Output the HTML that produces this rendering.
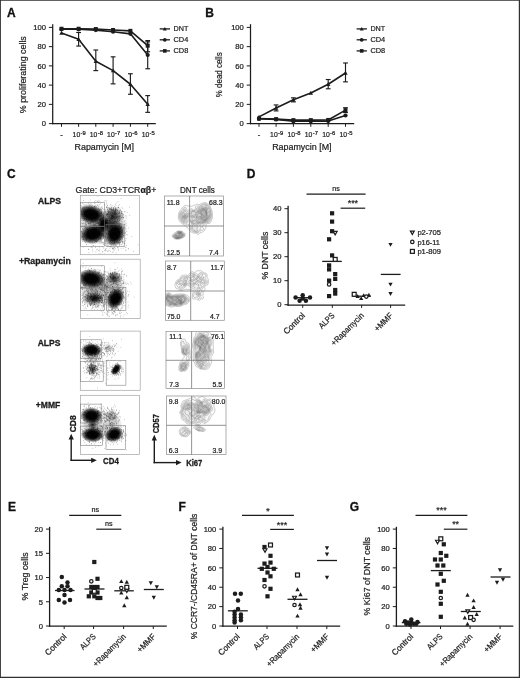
<!DOCTYPE html>
<html><head><meta charset="utf-8"><title>Figure</title>
<style>html,body{margin:0;padding:0;background:#fff}svg{display:block}text{font-family:"Liberation Sans",sans-serif}</style></head><body>
<svg width="520" height="678" viewBox="0 0 520 678" style="opacity:0.999;will-change:transform">
<rect x="0" y="0" width="520" height="678" fill="#fff"/>
<path d="M0 0H520V678H0ZM0.9 0.8V676.8H518.8V0.8Z" fill="#303030" fill-rule="evenodd"/>
<text x="6.9" y="17" font-size="12" text-anchor="start" fill="#111" font-weight="bold" stroke="#111" stroke-width="0.3">A</text>
<text x="205.2" y="17" font-size="12" text-anchor="start" fill="#111" font-weight="bold" stroke="#111" stroke-width="0.3">B</text>
<text x="7" y="178.3" font-size="12" text-anchor="start" fill="#111" font-weight="bold" stroke="#111" stroke-width="0.3">C</text>
<text x="246.8" y="178.3" font-size="12" text-anchor="start" fill="#111" font-weight="bold" stroke="#111" stroke-width="0.3">D</text>
<text x="8" y="511.3" font-size="12" text-anchor="start" fill="#111" font-weight="bold" stroke="#111" stroke-width="0.3">E</text>
<text x="178.6" y="511.3" font-size="12" text-anchor="start" fill="#111" font-weight="bold" stroke="#111" stroke-width="0.3">F</text>
<text x="349.8" y="511.3" font-size="12" text-anchor="start" fill="#111" font-weight="bold" stroke="#111" stroke-width="0.3">G</text>
<line x1="52.7" y1="24.2" x2="52.7" y2="124.2" stroke="#1c1c1c" stroke-width="1.25" stroke-linecap="butt"/>
<line x1="52.1" y1="123.6" x2="155.8" y2="123.6" stroke="#1c1c1c" stroke-width="1.25" stroke-linecap="butt"/>
<line x1="48.9" y1="123.6" x2="52.7" y2="123.6" stroke="#1c1c1c" stroke-width="1" stroke-linecap="butt"/>
<text x="46" y="126.35" font-size="7.6" text-anchor="end" fill="#1c1c1c" stroke="#1c1c1c" stroke-width="0.22">0</text>
<line x1="48.9" y1="104.36" x2="52.7" y2="104.36" stroke="#1c1c1c" stroke-width="1" stroke-linecap="butt"/>
<text x="46" y="107.11" font-size="7.6" text-anchor="end" fill="#1c1c1c" stroke="#1c1c1c" stroke-width="0.22">20</text>
<line x1="48.9" y1="85.12" x2="52.7" y2="85.12" stroke="#1c1c1c" stroke-width="1" stroke-linecap="butt"/>
<text x="46" y="87.87" font-size="7.6" text-anchor="end" fill="#1c1c1c" stroke="#1c1c1c" stroke-width="0.22">40</text>
<line x1="48.9" y1="65.88" x2="52.7" y2="65.88" stroke="#1c1c1c" stroke-width="1" stroke-linecap="butt"/>
<text x="46" y="68.63" font-size="7.6" text-anchor="end" fill="#1c1c1c" stroke="#1c1c1c" stroke-width="0.22">60</text>
<line x1="48.9" y1="46.64" x2="52.7" y2="46.64" stroke="#1c1c1c" stroke-width="1" stroke-linecap="butt"/>
<text x="46" y="49.39" font-size="7.6" text-anchor="end" fill="#1c1c1c" stroke="#1c1c1c" stroke-width="0.22">80</text>
<line x1="48.9" y1="27.4" x2="52.7" y2="27.4" stroke="#1c1c1c" stroke-width="1" stroke-linecap="butt"/>
<text x="46" y="30.15" font-size="7.6" text-anchor="end" fill="#1c1c1c" stroke="#1c1c1c" stroke-width="0.22">100</text>
<line x1="61.5" y1="123.6" x2="61.5" y2="126.8" stroke="#1c1c1c" stroke-width="1" stroke-linecap="butt"/>
<text x="61.5" y="136.8" font-size="7.6" text-anchor="middle" fill="#1c1c1c" stroke="#1c1c1c" stroke-width="0.22">-</text>
<line x1="78.6" y1="123.6" x2="78.6" y2="126.8" stroke="#1c1c1c" stroke-width="1" stroke-linecap="butt"/>
<text x="80.2" y="136.9" font-size="7.5" text-anchor="end" fill="#1c1c1c" textLength="7.6" lengthAdjust="spacingAndGlyphs" stroke="#1c1c1c" stroke-width="0.22">10</text>
<text x="80.5" y="134.5" font-size="5.5" text-anchor="start" fill="#1c1c1c" textLength="5.2" lengthAdjust="spacingAndGlyphs" stroke="#1c1c1c" stroke-width="0.22">-9</text>
<line x1="95.8" y1="123.6" x2="95.8" y2="126.8" stroke="#1c1c1c" stroke-width="1" stroke-linecap="butt"/>
<text x="97.4" y="136.9" font-size="7.5" text-anchor="end" fill="#1c1c1c" textLength="7.6" lengthAdjust="spacingAndGlyphs" stroke="#1c1c1c" stroke-width="0.22">10</text>
<text x="97.7" y="134.5" font-size="5.5" text-anchor="start" fill="#1c1c1c" textLength="5.2" lengthAdjust="spacingAndGlyphs" stroke="#1c1c1c" stroke-width="0.22">-8</text>
<line x1="113.1" y1="123.6" x2="113.1" y2="126.8" stroke="#1c1c1c" stroke-width="1" stroke-linecap="butt"/>
<text x="114.7" y="136.9" font-size="7.5" text-anchor="end" fill="#1c1c1c" textLength="7.6" lengthAdjust="spacingAndGlyphs" stroke="#1c1c1c" stroke-width="0.22">10</text>
<text x="115" y="134.5" font-size="5.5" text-anchor="start" fill="#1c1c1c" textLength="5.2" lengthAdjust="spacingAndGlyphs" stroke="#1c1c1c" stroke-width="0.22">-7</text>
<line x1="130.4" y1="123.6" x2="130.4" y2="126.8" stroke="#1c1c1c" stroke-width="1" stroke-linecap="butt"/>
<text x="132" y="136.9" font-size="7.5" text-anchor="end" fill="#1c1c1c" textLength="7.6" lengthAdjust="spacingAndGlyphs" stroke="#1c1c1c" stroke-width="0.22">10</text>
<text x="132.3" y="134.5" font-size="5.5" text-anchor="start" fill="#1c1c1c" textLength="5.2" lengthAdjust="spacingAndGlyphs" stroke="#1c1c1c" stroke-width="0.22">-6</text>
<line x1="147.7" y1="123.6" x2="147.7" y2="126.8" stroke="#1c1c1c" stroke-width="1" stroke-linecap="butt"/>
<text x="149.3" y="136.9" font-size="7.5" text-anchor="end" fill="#1c1c1c" textLength="7.6" lengthAdjust="spacingAndGlyphs" stroke="#1c1c1c" stroke-width="0.22">10</text>
<text x="149.6" y="134.5" font-size="5.5" text-anchor="start" fill="#1c1c1c" textLength="5.2" lengthAdjust="spacingAndGlyphs" stroke="#1c1c1c" stroke-width="0.22">-5</text>
<text x="104.2" y="150.2" font-size="9.2" text-anchor="middle" fill="#1c1c1c" textLength="59.4" lengthAdjust="spacingAndGlyphs" stroke="#1c1c1c" stroke-width="0.22">Rapamycin [M]</text>
<text x="26.3" y="74.7" font-size="9.5" text-anchor="middle" fill="#1c1c1c" transform="rotate(-90 26.3 74.7)" textLength="77" lengthAdjust="spacingAndGlyphs" stroke="#1c1c1c" stroke-width="0.22">% proliferating cells</text>
<polyline points="61.5,32.98 78.6,39.23 95.8,61.26 113.1,70.59 130.4,84.25 147.7,104.26" fill="none" stroke="#1c1c1c" stroke-width="1.6" stroke-linejoin="round"/>
<line x1="78.6" y1="32.5" x2="78.6" y2="46.06" stroke="#1c1c1c" stroke-width="1.15" stroke-linecap="butt"/>
<line x1="76.2" y1="32.5" x2="81" y2="32.5" stroke="#1c1c1c" stroke-width="1.15" stroke-linecap="butt"/>
<line x1="76.2" y1="46.06" x2="81" y2="46.06" stroke="#1c1c1c" stroke-width="1.15" stroke-linecap="butt"/>
<line x1="95.8" y1="50.01" x2="95.8" y2="70.59" stroke="#1c1c1c" stroke-width="1.15" stroke-linecap="butt"/>
<line x1="93.4" y1="50.01" x2="98.2" y2="50.01" stroke="#1c1c1c" stroke-width="1.15" stroke-linecap="butt"/>
<line x1="93.4" y1="70.59" x2="98.2" y2="70.59" stroke="#1c1c1c" stroke-width="1.15" stroke-linecap="butt"/>
<line x1="113.1" y1="56.84" x2="113.1" y2="83.87" stroke="#1c1c1c" stroke-width="1.15" stroke-linecap="butt"/>
<line x1="110.7" y1="56.84" x2="115.5" y2="56.84" stroke="#1c1c1c" stroke-width="1.15" stroke-linecap="butt"/>
<line x1="110.7" y1="83.87" x2="115.5" y2="83.87" stroke="#1c1c1c" stroke-width="1.15" stroke-linecap="butt"/>
<line x1="130.4" y1="73.77" x2="130.4" y2="94.26" stroke="#1c1c1c" stroke-width="1.15" stroke-linecap="butt"/>
<line x1="128" y1="73.77" x2="132.8" y2="73.77" stroke="#1c1c1c" stroke-width="1.15" stroke-linecap="butt"/>
<line x1="128" y1="94.26" x2="132.8" y2="94.26" stroke="#1c1c1c" stroke-width="1.15" stroke-linecap="butt"/>
<line x1="147.7" y1="95.61" x2="147.7" y2="112.34" stroke="#1c1c1c" stroke-width="1.15" stroke-linecap="butt"/>
<line x1="145.3" y1="95.61" x2="150.1" y2="95.61" stroke="#1c1c1c" stroke-width="1.15" stroke-linecap="butt"/>
<line x1="145.3" y1="112.34" x2="150.1" y2="112.34" stroke="#1c1c1c" stroke-width="1.15" stroke-linecap="butt"/>
<polygon points="61.5,30.78 59.3,34.74 63.7,34.74" fill="#1c1c1c"/>
<polygon points="78.6,37.03 76.4,40.99 80.8,40.99" fill="#1c1c1c"/>
<polygon points="95.8,59.06 93.6,63.02 98,63.02" fill="#1c1c1c"/>
<polygon points="113.1,68.39 110.9,72.35 115.3,72.35" fill="#1c1c1c"/>
<polygon points="130.4,82.05 128.2,86.01 132.6,86.01" fill="#1c1c1c"/>
<polygon points="147.7,102.06 145.5,106.02 149.9,106.02" fill="#1c1c1c"/>
<polyline points="61.5,29.32 78.6,29.32 95.8,30.09 113.1,31.73 130.4,33.85 147.7,55.01" fill="none" stroke="#1c1c1c" stroke-width="1.6" stroke-linejoin="round"/>
<line x1="147.7" y1="41.83" x2="147.7" y2="68.77" stroke="#1c1c1c" stroke-width="1.15" stroke-linecap="butt"/>
<line x1="145.3" y1="41.83" x2="150.1" y2="41.83" stroke="#1c1c1c" stroke-width="1.15" stroke-linecap="butt"/>
<line x1="145.3" y1="68.77" x2="150.1" y2="68.77" stroke="#1c1c1c" stroke-width="1.15" stroke-linecap="butt"/>
<circle cx="61.5" cy="29.32" r="2.1" fill="#1c1c1c"/>
<circle cx="78.6" cy="29.32" r="2.1" fill="#1c1c1c"/>
<circle cx="95.8" cy="30.09" r="2.1" fill="#1c1c1c"/>
<circle cx="113.1" cy="31.73" r="2.1" fill="#1c1c1c"/>
<circle cx="130.4" cy="33.85" r="2.1" fill="#1c1c1c"/>
<circle cx="147.7" cy="55.01" r="2.1" fill="#1c1c1c"/>
<polyline points="61.5,28.75 78.6,28.75 95.8,29.04 113.1,30 130.4,30.86 147.7,45.68" fill="none" stroke="#1c1c1c" stroke-width="1.6" stroke-linejoin="round"/>
<line x1="147.7" y1="40.58" x2="147.7" y2="51.74" stroke="#1c1c1c" stroke-width="1.15" stroke-linecap="butt"/>
<line x1="145.3" y1="40.58" x2="150.1" y2="40.58" stroke="#1c1c1c" stroke-width="1.15" stroke-linecap="butt"/>
<line x1="145.3" y1="51.74" x2="150.1" y2="51.74" stroke="#1c1c1c" stroke-width="1.15" stroke-linecap="butt"/>
<rect x="59.5" y="26.75" width="4" height="4" fill="#1c1c1c"/>
<rect x="76.6" y="26.75" width="4" height="4" fill="#1c1c1c"/>
<rect x="93.8" y="27.04" width="4" height="4" fill="#1c1c1c"/>
<rect x="111.1" y="28" width="4" height="4" fill="#1c1c1c"/>
<rect x="128.4" y="28.86" width="4" height="4" fill="#1c1c1c"/>
<rect x="145.7" y="43.68" width="4" height="4" fill="#1c1c1c"/>
<line x1="159.7" y1="28.9" x2="170" y2="28.9" stroke="#1c1c1c" stroke-width="1.3" stroke-linecap="butt"/>
<polygon points="164.8,26.9 162.8,30.5 166.8,30.5" fill="#1c1c1c"/>
<text x="173.5" y="31.3" font-size="7.8" text-anchor="start" fill="#1c1c1c" textLength="14.8" lengthAdjust="spacingAndGlyphs" stroke="#1c1c1c" stroke-width="0.22">DNT</text>
<line x1="159.7" y1="39.8" x2="170" y2="39.8" stroke="#1c1c1c" stroke-width="1.3" stroke-linecap="butt"/>
<circle cx="164.8" cy="39.8" r="1.9" fill="#1c1c1c"/>
<text x="173.5" y="42.2" font-size="7.8" text-anchor="start" fill="#1c1c1c" textLength="14.8" lengthAdjust="spacingAndGlyphs" stroke="#1c1c1c" stroke-width="0.22">CD4</text>
<line x1="159.7" y1="50.9" x2="170" y2="50.9" stroke="#1c1c1c" stroke-width="1.3" stroke-linecap="butt"/>
<rect x="163" y="49.1" width="3.6" height="3.6" fill="#1c1c1c"/>
<text x="173.5" y="53.3" font-size="7.8" text-anchor="start" fill="#1c1c1c" textLength="14.8" lengthAdjust="spacingAndGlyphs" stroke="#1c1c1c" stroke-width="0.22">CD8</text>
<line x1="250.5" y1="24.2" x2="250.5" y2="124.2" stroke="#1c1c1c" stroke-width="1.25" stroke-linecap="butt"/>
<line x1="249.9" y1="123.6" x2="354.2" y2="123.6" stroke="#1c1c1c" stroke-width="1.25" stroke-linecap="butt"/>
<line x1="246.7" y1="123.6" x2="250.5" y2="123.6" stroke="#1c1c1c" stroke-width="1" stroke-linecap="butt"/>
<text x="243.8" y="126.35" font-size="7.6" text-anchor="end" fill="#1c1c1c" stroke="#1c1c1c" stroke-width="0.22">0</text>
<line x1="246.7" y1="104.36" x2="250.5" y2="104.36" stroke="#1c1c1c" stroke-width="1" stroke-linecap="butt"/>
<text x="243.8" y="107.11" font-size="7.6" text-anchor="end" fill="#1c1c1c" stroke="#1c1c1c" stroke-width="0.22">20</text>
<line x1="246.7" y1="85.12" x2="250.5" y2="85.12" stroke="#1c1c1c" stroke-width="1" stroke-linecap="butt"/>
<text x="243.8" y="87.87" font-size="7.6" text-anchor="end" fill="#1c1c1c" stroke="#1c1c1c" stroke-width="0.22">40</text>
<line x1="246.7" y1="65.88" x2="250.5" y2="65.88" stroke="#1c1c1c" stroke-width="1" stroke-linecap="butt"/>
<text x="243.8" y="68.63" font-size="7.6" text-anchor="end" fill="#1c1c1c" stroke="#1c1c1c" stroke-width="0.22">60</text>
<line x1="246.7" y1="46.64" x2="250.5" y2="46.64" stroke="#1c1c1c" stroke-width="1" stroke-linecap="butt"/>
<text x="243.8" y="49.39" font-size="7.6" text-anchor="end" fill="#1c1c1c" stroke="#1c1c1c" stroke-width="0.22">80</text>
<line x1="246.7" y1="27.4" x2="250.5" y2="27.4" stroke="#1c1c1c" stroke-width="1" stroke-linecap="butt"/>
<text x="243.8" y="30.15" font-size="7.6" text-anchor="end" fill="#1c1c1c" stroke="#1c1c1c" stroke-width="0.22">100</text>
<line x1="259" y1="123.6" x2="259" y2="126.8" stroke="#1c1c1c" stroke-width="1" stroke-linecap="butt"/>
<text x="259" y="136.8" font-size="7.6" text-anchor="middle" fill="#1c1c1c" stroke="#1c1c1c" stroke-width="0.22">-</text>
<line x1="276.1" y1="123.6" x2="276.1" y2="126.8" stroke="#1c1c1c" stroke-width="1" stroke-linecap="butt"/>
<text x="277.7" y="136.9" font-size="7.5" text-anchor="end" fill="#1c1c1c" textLength="7.6" lengthAdjust="spacingAndGlyphs" stroke="#1c1c1c" stroke-width="0.22">10</text>
<text x="278" y="134.5" font-size="5.5" text-anchor="start" fill="#1c1c1c" textLength="5.2" lengthAdjust="spacingAndGlyphs" stroke="#1c1c1c" stroke-width="0.22">-9</text>
<line x1="293.4" y1="123.6" x2="293.4" y2="126.8" stroke="#1c1c1c" stroke-width="1" stroke-linecap="butt"/>
<text x="295" y="136.9" font-size="7.5" text-anchor="end" fill="#1c1c1c" textLength="7.6" lengthAdjust="spacingAndGlyphs" stroke="#1c1c1c" stroke-width="0.22">10</text>
<text x="295.3" y="134.5" font-size="5.5" text-anchor="start" fill="#1c1c1c" textLength="5.2" lengthAdjust="spacingAndGlyphs" stroke="#1c1c1c" stroke-width="0.22">-8</text>
<line x1="310.8" y1="123.6" x2="310.8" y2="126.8" stroke="#1c1c1c" stroke-width="1" stroke-linecap="butt"/>
<text x="312.4" y="136.9" font-size="7.5" text-anchor="end" fill="#1c1c1c" textLength="7.6" lengthAdjust="spacingAndGlyphs" stroke="#1c1c1c" stroke-width="0.22">10</text>
<text x="312.7" y="134.5" font-size="5.5" text-anchor="start" fill="#1c1c1c" textLength="5.2" lengthAdjust="spacingAndGlyphs" stroke="#1c1c1c" stroke-width="0.22">-7</text>
<line x1="328.2" y1="123.6" x2="328.2" y2="126.8" stroke="#1c1c1c" stroke-width="1" stroke-linecap="butt"/>
<text x="329.8" y="136.9" font-size="7.5" text-anchor="end" fill="#1c1c1c" textLength="7.6" lengthAdjust="spacingAndGlyphs" stroke="#1c1c1c" stroke-width="0.22">10</text>
<text x="330.1" y="134.5" font-size="5.5" text-anchor="start" fill="#1c1c1c" textLength="5.2" lengthAdjust="spacingAndGlyphs" stroke="#1c1c1c" stroke-width="0.22">-6</text>
<line x1="345.5" y1="123.6" x2="345.5" y2="126.8" stroke="#1c1c1c" stroke-width="1" stroke-linecap="butt"/>
<text x="347.1" y="136.9" font-size="7.5" text-anchor="end" fill="#1c1c1c" textLength="7.6" lengthAdjust="spacingAndGlyphs" stroke="#1c1c1c" stroke-width="0.22">10</text>
<text x="347.4" y="134.5" font-size="5.5" text-anchor="start" fill="#1c1c1c" textLength="5.2" lengthAdjust="spacingAndGlyphs" stroke="#1c1c1c" stroke-width="0.22">-5</text>
<text x="301.85" y="150.2" font-size="9.2" text-anchor="middle" fill="#1c1c1c" textLength="59.4" lengthAdjust="spacingAndGlyphs" stroke="#1c1c1c" stroke-width="0.22">Rapamycin [M]</text>
<text x="222" y="74.7" font-size="9.5" text-anchor="middle" fill="#1c1c1c" transform="rotate(-90 222 74.7)" textLength="45" lengthAdjust="spacingAndGlyphs" stroke="#1c1c1c" stroke-width="0.22">% dead cells</text>
<polyline points="259,116.87 276.1,108.02 293.4,99.84 310.8,93.01 328.2,84.25 345.5,73" fill="none" stroke="#1c1c1c" stroke-width="1.6" stroke-linejoin="round"/>
<line x1="276.1" y1="104.94" x2="276.1" y2="110.9" stroke="#1c1c1c" stroke-width="1.15" stroke-linecap="butt"/>
<line x1="273.7" y1="104.94" x2="278.5" y2="104.94" stroke="#1c1c1c" stroke-width="1.15" stroke-linecap="butt"/>
<line x1="273.7" y1="110.9" x2="278.5" y2="110.9" stroke="#1c1c1c" stroke-width="1.15" stroke-linecap="butt"/>
<line x1="293.4" y1="97.82" x2="293.4" y2="101.86" stroke="#1c1c1c" stroke-width="1.15" stroke-linecap="butt"/>
<line x1="291" y1="97.82" x2="295.8" y2="97.82" stroke="#1c1c1c" stroke-width="1.15" stroke-linecap="butt"/>
<line x1="291" y1="101.86" x2="295.8" y2="101.86" stroke="#1c1c1c" stroke-width="1.15" stroke-linecap="butt"/>
<line x1="328.2" y1="79.54" x2="328.2" y2="88.78" stroke="#1c1c1c" stroke-width="1.15" stroke-linecap="butt"/>
<line x1="325.8" y1="79.54" x2="330.6" y2="79.54" stroke="#1c1c1c" stroke-width="1.15" stroke-linecap="butt"/>
<line x1="325.8" y1="88.78" x2="330.6" y2="88.78" stroke="#1c1c1c" stroke-width="1.15" stroke-linecap="butt"/>
<line x1="345.5" y1="62.99" x2="345.5" y2="81.85" stroke="#1c1c1c" stroke-width="1.15" stroke-linecap="butt"/>
<line x1="343.1" y1="62.99" x2="347.9" y2="62.99" stroke="#1c1c1c" stroke-width="1.15" stroke-linecap="butt"/>
<line x1="343.1" y1="81.85" x2="347.9" y2="81.85" stroke="#1c1c1c" stroke-width="1.15" stroke-linecap="butt"/>
<polygon points="259,114.67 256.8,118.63 261.2,118.63" fill="#1c1c1c"/>
<polygon points="276.1,105.82 273.9,109.78 278.3,109.78" fill="#1c1c1c"/>
<polygon points="293.4,97.64 291.2,101.6 295.6,101.6" fill="#1c1c1c"/>
<polygon points="310.8,90.81 308.6,94.77 313,94.77" fill="#1c1c1c"/>
<polygon points="328.2,82.05 326,86.01 330.4,86.01" fill="#1c1c1c"/>
<polygon points="345.5,70.8 343.3,74.76 347.7,74.76" fill="#1c1c1c"/>
<polyline points="259,118.79 276.1,119.37 293.4,121.29 310.8,121.29 328.2,121.1 345.5,115.52" fill="none" stroke="#1c1c1c" stroke-width="1.6" stroke-linejoin="round"/>
<circle cx="259" cy="118.79" r="2.1" fill="#1c1c1c"/>
<circle cx="276.1" cy="119.37" r="2.1" fill="#1c1c1c"/>
<circle cx="293.4" cy="121.29" r="2.1" fill="#1c1c1c"/>
<circle cx="310.8" cy="121.29" r="2.1" fill="#1c1c1c"/>
<circle cx="328.2" cy="121.1" r="2.1" fill="#1c1c1c"/>
<circle cx="345.5" cy="115.52" r="2.1" fill="#1c1c1c"/>
<polyline points="259,118.6 276.1,119.17 293.4,120.14 310.8,120.14 328.2,119.94 345.5,110.13" fill="none" stroke="#1c1c1c" stroke-width="1.6" stroke-linejoin="round"/>
<line x1="345.5" y1="107.73" x2="345.5" y2="112.54" stroke="#1c1c1c" stroke-width="1.15" stroke-linecap="butt"/>
<line x1="343.1" y1="107.73" x2="347.9" y2="107.73" stroke="#1c1c1c" stroke-width="1.15" stroke-linecap="butt"/>
<line x1="343.1" y1="112.54" x2="347.9" y2="112.54" stroke="#1c1c1c" stroke-width="1.15" stroke-linecap="butt"/>
<rect x="257" y="116.6" width="4" height="4" fill="#1c1c1c"/>
<rect x="274.1" y="117.17" width="4" height="4" fill="#1c1c1c"/>
<rect x="291.4" y="118.14" width="4" height="4" fill="#1c1c1c"/>
<rect x="308.8" y="118.14" width="4" height="4" fill="#1c1c1c"/>
<rect x="326.2" y="117.94" width="4" height="4" fill="#1c1c1c"/>
<rect x="343.5" y="108.13" width="4" height="4" fill="#1c1c1c"/>
<line x1="356.6" y1="28.9" x2="366.9" y2="28.9" stroke="#1c1c1c" stroke-width="1.3" stroke-linecap="butt"/>
<polygon points="361.7,26.9 359.7,30.5 363.7,30.5" fill="#1c1c1c"/>
<text x="370.4" y="31.3" font-size="7.8" text-anchor="start" fill="#1c1c1c" textLength="14.8" lengthAdjust="spacingAndGlyphs" stroke="#1c1c1c" stroke-width="0.22">DNT</text>
<line x1="356.6" y1="39.8" x2="366.9" y2="39.8" stroke="#1c1c1c" stroke-width="1.3" stroke-linecap="butt"/>
<circle cx="361.7" cy="39.8" r="1.9" fill="#1c1c1c"/>
<text x="370.4" y="42.2" font-size="7.8" text-anchor="start" fill="#1c1c1c" textLength="14.8" lengthAdjust="spacingAndGlyphs" stroke="#1c1c1c" stroke-width="0.22">CD4</text>
<line x1="356.6" y1="50.9" x2="366.9" y2="50.9" stroke="#1c1c1c" stroke-width="1.3" stroke-linecap="butt"/>
<rect x="359.9" y="49.1" width="3.6" height="3.6" fill="#1c1c1c"/>
<text x="370.4" y="53.3" font-size="7.8" text-anchor="start" fill="#1c1c1c" textLength="14.8" lengthAdjust="spacingAndGlyphs" stroke="#1c1c1c" stroke-width="0.22">CD8</text>
<text x="75.6" y="192.5" font-size="8.8" fill="#1c1c1c" stroke="#1c1c1c" stroke-width="0.2" textLength="80.8" lengthAdjust="spacingAndGlyphs">Gate: CD3+TCR<tspan font-weight="bold">αβ</tspan>+</text>
<text x="197.4" y="192.5" font-size="8.8" text-anchor="middle" fill="#1c1c1c" textLength="34.8" lengthAdjust="spacingAndGlyphs" stroke="#1c1c1c" stroke-width="0.22">DNT cells</text>
<text x="38" y="204.3" font-size="8.8" text-anchor="start" fill="#1c1c1c" textLength="23" lengthAdjust="spacingAndGlyphs" font-weight="bold" stroke="#1c1c1c" stroke-width="0.3">ALPS</text>
<text x="18.9" y="264.2" font-size="8.8" text-anchor="start" fill="#1c1c1c" textLength="52" lengthAdjust="spacingAndGlyphs" font-weight="bold" stroke="#1c1c1c" stroke-width="0.3">+Rapamycin</text>
<text x="37.7" y="346.2" font-size="8.8" text-anchor="start" fill="#1c1c1c" textLength="22.8" lengthAdjust="spacingAndGlyphs" font-weight="bold" stroke="#1c1c1c" stroke-width="0.3">ALPS</text>
<text x="35.8" y="407.5" font-size="8.8" text-anchor="start" fill="#1c1c1c" textLength="24.5" lengthAdjust="spacingAndGlyphs" font-weight="bold" stroke="#1c1c1c" stroke-width="0.3">+MMF</text>
<defs><radialGradient id="gb"><stop offset="0" stop-color="#000" stop-opacity="1"/><stop offset="0.45" stop-color="#000" stop-opacity="0.97"/><stop offset="0.75" stop-color="#000" stop-opacity="0.55"/><stop offset="1" stop-color="#000" stop-opacity="0"/></radialGradient><radialGradient id="gl"><stop offset="0" stop-color="#000" stop-opacity="0.8"/><stop offset="0.5" stop-color="#000" stop-opacity="0.45"/><stop offset="1" stop-color="#000" stop-opacity="0"/></radialGradient><radialGradient id="gh"><stop offset="0" stop-color="#000" stop-opacity="0.28"/><stop offset="0.6" stop-color="#000" stop-opacity="0.14"/><stop offset="1" stop-color="#000" stop-opacity="0"/></radialGradient></defs>
<g>
<clipPath id="dp195"><rect x="80.3" y="195.6" width="59.2" height="59.1"/></clipPath>
<g clip-path="url(#dp195)">
<ellipse cx="93" cy="224" rx="16" ry="21" fill="url(#gh)" transform="rotate(0 93 224)"/>
<ellipse cx="114" cy="227" rx="14" ry="21" fill="url(#gh)" transform="rotate(0 114 227)"/>
<ellipse cx="100" cy="226" rx="10" ry="8" fill="url(#gh)" transform="rotate(0 100 226)"/>
<path d="M89.2 217.8h.6M89.4 213.3h.6M84.5 213.8h.6M98.8 217.3h.6M98.3 216.4h.6M93.8 216h.6M94.5 217.7h.6M84.8 212.4h.6M93.1 214.7h.6M94.6 211.5h.6M93.2 217.2h.6M86.4 224.4h.6M94.9 221.6h.6M86.7 210.9h.6M88.6 214.4h.6M95.4 216.4h.6M87.9 209.7h.6M87.4 221.7h.6M85.3 216.3h.6M94 206.8h.6M91.3 222.2h.6M90.3 210.5h.6M94.5 214.7h.6M95.7 220.2h.6M101.1 217h.6M91.8 207.9h.6M95.3 211.6h.6M87.8 208h.6M84.2 212.1h.6M100 203.8h.6M101.1 218.2h.6M93.5 211h.6M83.2 220.4h.6M98.7 215.9h.6M92.7 217.4h.6M102.2 218.4h.6M94.6 218h.6M97.7 217.9h.6M96.9 205h.6M89.7 220.6h.6M81.8 223.9h.6M94.9 214.2h.6M93.3 218.6h.6M91.8 221.3h.6M86.4 212.7h.6M98.3 215.1h.6M84.8 220.2h.6M101.3 212.6h.6M81.3 214.3h.6M90 213.4h.6M100.8 209.4h.6M99.8 208h.6M85.5 218.5h.6M98.9 219.7h.6M93.4 215.8h.6M92.1 218.2h.6M89.8 216.5h.6M95 215h.6M96.3 218.1h.6M105.1 216.8h.6M88 213h.6M90.9 220.1h.6M88.6 217.1h.6M103.9 200.9h.6M83.1 216.3h.6M93.8 216.3h.6M88 218.6h.6M93 212.1h.6M108 217h.6M87.1 214.5h.6M89.4 214.7h.6M98.1 208.6h.6M90.5 220.2h.6M97 223.2h.6M88.6 218.4h.6M98.6 200.2h.6M98.6 207h.6M95.8 206.8h.6M92.2 221.6h.6M90 216.1h.6M96.6 215.8h.6M90.4 223.4h.6M98.3 213.4h.6M110.2 208.7h.6M97.4 213.5h.6M91.9 218.9h.6M92.6 218.5h.6M95.3 209.7h.6M83.8 206.9h.6M99.9 219.1h.6M101.3 209.8h.6M91 208.7h.6M96.4 223.7h.6M84.8 223.6h.6M97.9 214h.6M90.3 211.7h.6M93.8 217.3h.6M101.5 209.4h.6M99 223.2h.6M101.2 214h.6M85.8 220.6h.6M91.8 215.7h.6M101 213.6h.6M93.2 211.6h.6M90.9 219.6h.6M91.6 222.3h.6M90.6 220.7h.6M101.4 223.9h.6M86.3 219.8h.6M82.4 214.9h.6M89.7 214.8h.6M86.9 216.3h.6M103.5 215.2h.6M94.7 220.5h.6M89.6 208.1h.6M87.1 220.9h.6M98.1 219.4h.6M91.1 219.4h.6M92.2 208.5h.6M97.5 211.9h.6M84.7 210.8h.6M82.7 217h.6M86.5 204.3h.6M96.1 213.5h.6M93 212.5h.6M96.5 219.1h.6M95.7 216.8h.6M100.3 218.6h.6M94.2 203.5h.6M97.3 222.2h.6M88.9 212.4h.6M104.6 205.3h.6M94.3 228.3h.6M84.5 218.8h.6M104.2 214.3h.6M94.9 220h.6M84.7 214.5h.6M93 219.5h.6M90.8 213.9h.6M83.9 213h.6M97.2 215.6h.6M85 210.4h.6M109.7 221.3h.6M95.5 200.7h.6M95.4 217.6h.6M102.8 217.4h.6M90.5 217.9h.6M93.3 211.1h.6M100.3 225h.6M81.2 211.3h.6M93 216h.6M88.2 209.6h.6M105.8 220.7h.6M82.6 207.6h.6M102.9 220.4h.6M103.7 219.5h.6M84.9 216.4h.6M90.6 217.9h.6M85.9 214.3h.6M94.2 217.1h.6M95.5 216.1h.6M88.7 219.3h.6M91.3 210.5h.6M86.6 215h.6M90.2 215.9h.6M91 216h.6M90.1 208.1h.6M93.9 220.8h.6M94 214h.6M94.1 209.7h.6M84.5 219.1h.6M83.4 200.5h.6M83.7 223.7h.6M88.3 207.5h.6M85.7 217.9h.6M94.5 216h.6M101.4 218.9h.6M90.9 218.3h.6M102.6 220.3h.6M98.2 209h.6M90 219h.6M88.9 220.9h.6M95.2 220h.6M89.5 229h.6M99.7 213.8h.6M91.6 229.3h.6M88.6 219.8h.6M97.9 215h.6M82.8 216h.6M93.5 221.2h.6M96.5 215.1h.6M97 218h.6M92.4 215.3h.6M89.3 218.8h.6M83.6 211.5h.6M91 206.9h.6M87.9 204h.6M86.2 218.1h.6M95 214.7h.6M89.4 207.2h.6M103.8 217.8h.6M98.7 210.1h.6M89.7 205h.6M96.5 220.1h.6M95.4 205.3h.6M86.6 207.3h.6M91.2 216.4h.6M95.4 218.9h.6M101.5 221.4h.6M81.8 212.2h.6M83.6 209.1h.6M90.4 215h.6M94.4 206.3h.6M82.3 214.9h.6M89.6 213.3h.6M90.6 210.8h.6M95.9 216.9h.6M90.4 211.3h.6M89.8 200h.6M84.1 215.2h.6M92 207.4h.6M89.2 213.3h.6M94.2 218.4h.6M90.7 210.3h.6M90 214.6h.6M96.1 216.6h.6M85.9 207.6h.6M88.4 210.9h.6M83.2 214.4h.6M87.6 215.6h.6M94.7 212.7h.6M107.3 213.2h.6M98.7 215.7h.6M98.8 201.9h.6M85.7 216.4h.6M95.2 227.9h.6M93.3 222h.6M96.4 220.2h.6M94.6 214.1h.6M94.6 209.1h.6M99.3 209.4h.6M92.7 226.7h.6M89.4 215.1h.6M99.1 215.1h.6M85.3 216.4h.6M95.1 218.9h.6M85.6 224.6h.6M102.7 215.1h.6M92.9 212.6h.6M100.9 211.1h.6M95.7 212.4h.6M86.1 219h.6M100.3 214.9h.6M86.3 219.5h.6M90.7 216.7h.6M101.7 221.2h.6M87.4 227.6h.6M91 219.3h.6M86.5 214.8h.6M100.6 208.3h.6M99.2 212.5h.6M90.6 213.3h.6M90.2 209h.6M91.2 207.1h.6M90.5 216.7h.6M94.3 213.7h.6M84.7 215.9h.6M87.6 223.6h.6M96.4 214.4h.6M87.7 211.1h.6M84.4 213.1h.6M93.1 217.8h.6M95 226.5h.6M86.1 215.1h.6M110.6 204.7h.6M87.3 215.9h.6M92.1 217.2h.6M89.3 217h.6M91.4 219.2h.6M91 209.3h.6M83.7 218.5h.6M86.5 218.5h.6M96.2 216.7h.6M94.6 214.4h.6M81.1 214.8h.6M94.2 212.1h.6M90.3 219.1h.6M84.9 218.5h.6M104 211.9h.6M92 214.2h.6M101.8 216.7h.6M97.3 211.2h.6M90.9 214.9h.6M97.3 205.4h.6M96.2 214.3h.6M94.1 217h.6M101.4 211.8h.6M83.8 207.5h.6M82.5 216.8h.6M102.8 217.4h.6M92.7 227.3h.6M87.4 211.3h.6M94.7 218h.6M83.9 208.6h.6M93 216.4h.6M81.9 213.9h.6M87.2 217.5h.6M90.2 214.5h.6M88.5 220.8h.6M100.7 213h.6M96.9 210.8h.6M91.5 219.1h.6M101.6 212.9h.6M90.5 216.1h.6M86.3 217h.6M83.1 204.1h.6M91.3 216.4h.6M87.2 219.9h.6M89.1 211.7h.6M94.3 206.4h.6M86.3 214.9h.6M96.9 214.1h.6M93.2 211.4h.6M93.1 224.1h.6M86.2 228h.6M86.5 215.1h.6M92.2 220.6h.6M82.3 203.4h.6M95.2 219.4h.6M95.4 229.5h.6M92.4 216.4h.6M97.5 217h.6M102.6 208.2h.6M96.7 213h.6M97.5 226.8h.6M91 213.6h.6M87.5 210.4h.6M86.6 218.5h.6M91.3 215.4h.6M89.8 220h.6M94.5 214.2h.6M95.7 214.2h.6M82.9 223h.6M94.3 209.7h.6M98.6 216.9h.6M93.3 219.9h.6M92.4 214.2h.6M91.2 213.4h.6M93.5 215.4h.6M95.7 213h.6M90.7 203.2h.6M88 218.7h.6M100.4 213h.6M90.2 223.7h.6M88.7 219h.6M102.7 215.2h.6M99.6 211.1h.6M92.5 214.6h.6M91.8 221.2h.6M107.7 211.3h.6M87 217.7h.6M83.6 217.7h.6M95 213.5h.6M94.7 206.5h.6M96.3 206.5h.6M86.1 211.9h.6M88.2 219.7h.6M91.6 212.8h.6M94.8 223.7h.6M91 217h.6M99.7 216.5h.6M82 228.7h.6M106.5 204.1h.6M90.7 217.3h.6M97.8 218.7h.6M89.1 209.2h.6M91.7 220.7h.6M83.4 209.4h.6M90.8 204.3h.6M89.2 212.6h.6M94.2 211.1h.6M84.8 212.8h.6M90.7 211.3h.6M91.1 219.1h.6M99.3 224.4h.6M85.5 212.7h.6M85.9 214.8h.6M94.7 207.5h.6M94.2 214.9h.6M99.4 204.7h.6M96.7 216.2h.6M94.3 217.4h.6M100.1 213.8h.6M97.1 212.7h.6M96.1 210.5h.6M90.2 224.5h.6M94.1 214.1h.6M83 210.7h.6M92.4 220.2h.6M94 217.9h.6M90.7 222.4h.6M88.3 212h.6M97.2 215.3h.6M89.1 211.8h.6M89.2 218.4h.6M93.5 208.3h.6M94 216h.6M84 219.3h.6M89 213.2h.6M96.6 222.3h.6M86.2 217.4h.6M84.9 227.7h.6M87.5 221.6h.6M86.5 219.5h.6M106.5 201h.6M88 217.8h.6M90.3 211.3h.6M106.1 215.4h.6M87 215.8h.6M99.8 215.6h.6M81.3 205.7h.6M99.3 219.1h.6M85.3 219.7h.6M94.5 218.6h.6M97.3 219h.6M97.2 201.5h.6M92.2 217.7h.6M108.9 209.8h.6M88.7 215.2h.6M97.2 212.6h.6M99 210.7h.6M92.9 212.1h.6M92.1 211.2h.6M93.1 211.9h.6M92.4 220.4h.6M84.2 214.4h.6M94.8 217.9h.6M88.7 203.4h.6M99.7 216.8h.6M91.1 213.5h.6M92.8 212.7h.6M83.8 210.9h.6M86.8 211.6h.6M82.9 218.5h.6M81.8 218.6h.6M83.9 216.9h.6M100.6 216.1h.6M85.9 215.3h.6M92 205.5h.6M86.7 215.9h.6M87.7 215.4h.6M96.1 219.2h.6M97.3 218.2h.6M89 214.9h.6M89.1 213.3h.6M89.7 205.5h.6M88.7 214.9h.6M84.2 214.9h.6M94.6 214.1h.6M105.5 200.7h.6M89.6 205h.6M97.9 229.6h.6M94.6 213.3h.6M94.9 202.7h.6M97 217h.6M91.2 211.8h.6M95.5 212.3h.6M92.6 212.2h.6M92.4 219.1h.6M84.9 214.8h.6M95.3 215.8h.6M99.7 226h.6M84.6 204.4h.6M97 223.4h.6M97.5 219.5h.6M86.7 211.1h.6M98.7 228.5h.6M109.9 244.1h.6M87.7 229.5h.6M94.1 229.4h.6M101.7 233.1h.6M84.9 240.7h.6M88.4 234.7h.6M92.4 231.8h.6M94.8 229.7h.6M83.6 229.3h.6M92.3 233.8h.6M96.4 234.2h.6M86.9 229.6h.6M95.9 236.4h.6M91.7 232.5h.6M99.1 233.6h.6M97.7 236.7h.6M94 240.7h.6M88.5 231.5h.6M86.8 229.1h.6M103.4 243.2h.6M92.7 236.6h.6M100.7 237.9h.6M100.9 226.6h.6M88 236h.6M102.5 234.1h.6M86.5 231.6h.6M87.9 228.8h.6M103 230.1h.6M92.6 245.4h.6M100.8 235.3h.6M88.2 235.8h.6M103.9 236.9h.6M101.3 234h.6M96.1 232.4h.6M95.5 240.7h.6M82.5 233.2h.6M94.2 230.4h.6M90.3 237.8h.6M106.5 237h.6M94.8 225h.6M106 233.9h.6M92.3 227.3h.6M92.1 227.5h.6M93 236.1h.6M92.7 235h.6M86.5 241.4h.6M87.9 223.5h.6M91.2 229.3h.6M85.4 231.5h.6M94.5 227h.6M91.5 241.3h.6M97.3 232.7h.6M93.4 232.8h.6M92.2 237.5h.6M91.9 220.3h.6M92.3 228.6h.6M97.1 230.1h.6M93.5 245.5h.6M85.2 227.3h.6M82.6 220.3h.6M88 223.2h.6M82.1 236.9h.6M87.1 231.5h.6M94.8 241h.6M106.1 239.2h.6M93.5 234.5h.6M105.1 241.4h.6M90.3 236h.6M94.5 233.8h.6M89 226.2h.6M88.8 225h.6M101.1 236.5h.6M84.1 241.2h.6M98.7 223h.6M105.4 238h.6M106.9 226.7h.6M96.2 235.8h.6M93.9 234.4h.6M99.9 225.3h.6M83.8 225.8h.6M88.6 230.2h.6M95.1 235h.6M92.7 229.8h.6M89.4 238.7h.6M97.8 234.1h.6M90.2 242h.6M88.3 237.1h.6M100.6 232h.6M98.3 227.4h.6M99.6 234.6h.6M81.4 237.2h.6M86.3 240.6h.6M87.7 232.6h.6M94.5 231.7h.6M94.3 230.5h.6M97.2 233.5h.6M94 218.4h.6M100.6 233.7h.6M95.8 239.4h.6M84.9 242h.6M91.4 246.7h.6M91.5 237.2h.6M89.9 227.4h.6M100.2 238.5h.6M103.3 238.2h.6M88.5 224.4h.6M87.9 229.8h.6M86.8 236.7h.6M94.8 232h.6M93.7 232.7h.6M94 237.6h.6M99.2 229.7h.6M82 241.4h.6M93.3 239.6h.6M81 231.7h.6M92.7 225.6h.6M88.9 237.5h.6M100 242.3h.6M86.5 225.8h.6M96.1 238.7h.6M93.9 226.3h.6M98 237.9h.6M96.4 230.8h.6M94.6 237.8h.6M88.6 223.4h.6M94.8 236.1h.6M92.6 238.4h.6M88.4 233h.6M90.4 236.6h.6M103.7 232.1h.6M106.9 241.9h.6M98 236.7h.6M104.9 232.5h.6M91.7 227.7h.6M95.8 240.9h.6M96.2 235.8h.6M91.1 234.4h.6M82.5 239.3h.6M89.6 227.4h.6M87.2 229h.6M98.5 239.3h.6M83 238.6h.6M98.7 230.3h.6M82.1 229.4h.6M88.1 235.4h.6M90 222.3h.6M94.1 225.1h.6M98.8 226.9h.6M87.6 228.8h.6M88.7 240.6h.6M98.5 236.8h.6M94.7 225h.6M88.9 230.5h.6M85.7 236.3h.6M87.3 229.6h.6M85.2 222.2h.6M96.7 240.8h.6M93.7 228.1h.6M101 235.1h.6M99 241.6h.6M100.4 231.1h.6M99.9 237.8h.6M81.7 231.3h.6M82.5 232.9h.6M96.5 227.6h.6M95.1 241.6h.6M83.2 239.3h.6M107 244.5h.6M91 235h.6M91.4 239h.6M99.8 234h.6M83 237.6h.6M89.2 237h.6M94.3 242.4h.6M100.5 231h.6M94.9 243.2h.6M88.7 235.9h.6M100.8 240.4h.6M96.1 226.2h.6M83.7 234.9h.6M95.2 247.5h.6M86.5 239.8h.6M97.9 224.3h.6M86.8 234.4h.6M89 232.7h.6M95.8 229h.6M95.8 230h.6M88.7 236.5h.6M88.5 235.1h.6M103.7 233.6h.6M91.5 237.5h.6M89.9 239.5h.6M83.5 236.9h.6M88.9 229.1h.6M104.9 228.8h.6M104.8 237.1h.6M102.7 228.1h.6M100.9 241.5h.6M91.7 232.8h.6M109.7 234.5h.6M89.5 230h.6M95.6 235.3h.6M93.7 243h.6M90.2 236.1h.6M102.7 228h.6M99.8 243.6h.6M83 227.5h.6M85.2 223.3h.6M95.7 223.3h.6M96 241.5h.6M81.2 231.8h.6M87.3 232h.6M92.9 236.5h.6M90.1 233.6h.6M88.7 234.1h.6M84.3 233.8h.6M105.9 233.9h.6M83.7 234.9h.6M85.7 224.4h.6M87.3 237.6h.6M95.2 233h.6M86 227.6h.6M101.9 234.8h.6M85.8 221.9h.6M82.9 247.1h.6M84.5 233.1h.6M94 232.6h.6M90.6 225.9h.6M85.1 242.8h.6M87.2 238.2h.6M94.3 239.2h.6M84.6 236.8h.6M95.2 229.4h.6M95.8 228.6h.6M86.9 233.4h.6M85.5 225.5h.6M89.5 237.7h.6M89.7 240.5h.6M84.4 226.3h.6M103.4 235.7h.6M99.1 229h.6M98.1 234.9h.6M97 233.6h.6M100.9 229.9h.6M85.8 225.4h.6M100.6 229.4h.6M85.2 228.3h.6M89.4 226.5h.6M90.5 230.1h.6M88.6 228.2h.6M92.8 231h.6M93.3 234.9h.6M94.9 221.5h.6M88.8 229.1h.6M97.9 224.8h.6M87.5 231.9h.6M90.1 239h.6M89.4 238.8h.6M82.2 223.5h.6M101 235.9h.6M95.9 234.2h.6M95.9 226.8h.6M99.1 230.6h.6M99.4 234h.6M100.4 232.7h.6M89.7 234.8h.6M89.5 230.5h.6M93.2 234.3h.6M103.1 233.8h.6M105.7 243.4h.6M104.5 239.3h.6M93.4 234.3h.6M91.5 229.5h.6M92 230h.6M104 236.4h.6M89.4 223h.6M92.1 231.2h.6M84.9 227.2h.6M92 247.7h.6M92.3 232.7h.6M102.6 234.2h.6M93.7 231.5h.6M88.3 241.7h.6M99.5 242.9h.6M90.1 233.7h.6M86.3 238.8h.6M82.7 236.6h.6M100.2 241.3h.6M85.9 239.5h.6M87.5 229.3h.6M83.2 239.9h.6M104 230.2h.6M87.2 231.6h.6M110.1 239h.6M88.7 223.6h.6M87.8 240h.6M105.6 232h.6M87.7 230.7h.6M84.9 239.3h.6M94.5 229.3h.6M98 233.5h.6M84.3 236.9h.6M98.4 223h.6M105.3 236.2h.6M97.8 223.3h.6M87.5 231.6h.6M100 225.5h.6M86.3 222.3h.6M90.8 235.4h.6M96.1 242.2h.6M97.1 231.8h.6M84.3 228.3h.6M87.9 234.3h.6M92.2 242.7h.6M94.5 227.6h.6M103.3 238.7h.6M93.2 229.5h.6M98.9 229.1h.6M83.3 234.6h.6M94.2 236.8h.6M97.1 241.2h.6M86.6 238.9h.6M85.6 237.3h.6M93.8 234.8h.6M99.3 233.4h.6M100.3 238.3h.6M93.4 230.4h.6M87.2 230.6h.6M91.1 233.4h.6M113.4 237h.6M97.9 228.8h.6M87.5 231.7h.6M93.8 227.8h.6M103.8 230.4h.6M100 220.7h.6M92.5 235h.6M93.8 236.8h.6M94.5 234.4h.6M94.7 232.4h.6M86.8 230.3h.6M105.4 243h.6M92.1 240.6h.6M81.4 222.9h.6M89.1 228.7h.6M88.6 234.5h.6M113.7 229.9h.6M92.8 235h.6M92.3 238.6h.6M104.9 226.7h.6M93.6 232h.6M95 225.1h.6M96.2 234.6h.6M93 220.5h.6M89.9 229.3h.6M82.6 228.5h.6M97.4 236.5h.6M92.3 236.3h.6M88.3 233.9h.6M92.8 236.5h.6M92 232.7h.6M91.6 230h.6M108.1 236.3h.6M95.5 246.1h.6M102.3 224.9h.6M97.4 238.1h.6M105.7 240.7h.6M97.9 227h.6M86.4 235h.6M96 227.9h.6M89.8 231.3h.6M92.9 235.3h.6M90.5 226.7h.6M101.2 242.3h.6M91.8 239.1h.6M95.6 237.1h.6M95.9 229.3h.6M96.5 239.1h.6M86.2 244.3h.6M107.1 243.5h.6M106.4 237.6h.6M90.1 230.2h.6M86.8 234.1h.6M92.3 237.2h.6M108.4 233.3h.6M97.2 236.1h.6M94.4 232.4h.6M91.6 229h.6M93.7 233.4h.6M94.7 228.8h.6M92.8 233.8h.6M96.7 227.7h.6M95.4 238.9h.6M96.7 231.5h.6M89.1 232.2h.6M97.6 242h.6M91.4 230h.6M95.1 234.6h.6M86.1 229.4h.6M91.8 237.2h.6M84.1 227.9h.6M96 226.8h.6M93.3 235.4h.6M91.7 227.9h.6M92.1 231.7h.6M94.9 228.9h.6M100.1 224.3h.6M91.3 233.5h.6M99.2 230.2h.6M96.3 230.4h.6M97.7 243.1h.6M89.7 235.9h.6M86 238.9h.6M101 233.7h.6M84.6 235.7h.6M100.5 239.5h.6M98.2 223.4h.6M87.7 241.3h.6M83.9 239.7h.6M105.7 237.7h.6M100.3 231.7h.6M83.9 232.9h.6M91.1 233.2h.6M97.4 232.7h.6M93.8 235.8h.6M92.5 243.6h.6M95.6 234h.6M91 230.1h.6M101.9 234.3h.6M84.9 230.4h.6M91.5 231h.6M100.1 227.1h.6M95.9 234.3h.6M84.3 233.8h.6M91.8 236.3h.6M89.3 235.2h.6M80.8 227.5h.6M98 239.2h.6M92.4 230.2h.6M100.1 222h.6M86.9 237.2h.6M97.1 227.8h.6M93.6 228.6h.6M92.9 238.5h.6M97.7 222.1h.6M97.9 223.7h.6M100.5 235.7h.6M108.3 230.1h.6M92.5 239.3h.6M88 229.6h.6M89.9 233.1h.6M84.9 236.2h.6M96.3 233.9h.6M104.4 231.7h.6M101.6 230.5h.6M97.8 222.9h.6M93.9 232.5h.6M89 230.1h.6M90.1 229.5h.6M88.7 230.6h.6M85.1 232.8h.6M98 232.1h.6M89.1 241h.6M99.3 238.6h.6M100.6 231.7h.6M91.6 239.6h.6M88.6 232.8h.6M95.1 235.6h.6M90.6 238.9h.6M91.3 237.5h.6M100 237.1h.6M97.6 227.1h.6M83.3 230.1h.6M95.8 241.8h.6M83.9 235.2h.6M86.5 229.5h.6M90.6 237.3h.6M94 240h.6M85.6 238.4h.6M99 233.9h.6M95.8 230.4h.6M84.9 231.3h.6M88 249.4h.6M89.1 242.6h.6M93.9 235.2h.6M97.7 229.2h.6M98.9 235.6h.6M81.9 236.8h.6M96.4 236h.6M103.6 231.2h.6M96.1 237.6h.6M86.2 240.1h.6M82.3 226.3h.6M96.2 227.5h.6M91.7 224.5h.6M93 227.3h.6M116.7 224h.6M117.3 232.3h.6M115.2 233.6h.6M115.5 225.4h.6M100.7 234.2h.6M109.7 231h.6M117.1 221.1h.6M110.6 230h.6M109 236.1h.6M114 228.7h.6M109.4 239.2h.6M111.2 237.8h.6M117.3 221.7h.6M108.8 234h.6M116.7 239.1h.6M119.2 240.7h.6M112.7 232.6h.6M119.1 231.2h.6M120.6 223.7h.6M118.4 232.9h.6M104 240.4h.6M116.5 234.1h.6M108.9 231h.6M123.1 228.6h.6M95.7 228.4h.6M108.2 233.1h.6M112.6 228.1h.6M110.2 240.8h.6M106.9 246.7h.6M111.8 226.9h.6M119.1 237.7h.6M109.1 238.9h.6M104.7 228h.6M121 232.3h.6M107.6 237.3h.6M119.8 233.9h.6M104.9 231.7h.6M117.1 239h.6M125 232.4h.6M112.1 233.8h.6M121.4 227.9h.6M122 216.1h.6M119.2 229.6h.6M117.3 238.5h.6M108.3 233.4h.6M116.1 237.8h.6M109.7 227.6h.6M104.2 250.5h.6M113.7 232.6h.6M106.6 240h.6M111.9 243.3h.6M119.5 234.1h.6M118.8 226.8h.6M113 230.3h.6M107.8 234.1h.6M114 243.3h.6M96.4 229.6h.6M109.7 231h.6M117.1 236.6h.6M115 230.9h.6M117.5 236.3h.6M104.7 232.3h.6M107.2 226.3h.6M115.6 234.4h.6M115.4 228.3h.6M113.7 228.1h.6M116.9 238.5h.6M124.5 242.2h.6M110.4 231h.6M109.6 236h.6M125.7 238.6h.6M102.7 225.8h.6M107.7 237.3h.6M114.8 235.9h.6M124.6 228.6h.6M110.1 246.8h.6M116.7 228.9h.6M103.6 224.1h.6M101.4 234.4h.6M115 240.5h.6M114 229.5h.6M110.7 246.4h.6M105.1 235.1h.6M114.9 238h.6M112.6 237.2h.6M119.3 233h.6M112.3 232.8h.6M109.5 232.6h.6M113.1 235.4h.6M122.1 242.5h.6M112.4 237.9h.6M116.4 239h.6M114.9 235.7h.6M112.2 228.9h.6M119.6 242.4h.6M118.4 236.8h.6M116.3 231.1h.6M105 238.3h.6M115.9 230.4h.6M109.5 242.3h.6M104.9 245.5h.6M118.3 249.4h.6M110.9 233.9h.6M112 235h.6M113.6 229.1h.6M120.7 228.9h.6M112 237.6h.6M111.8 231.2h.6M116.8 231.6h.6M107.9 233.3h.6M113.6 245.1h.6M108.8 240.3h.6M110.5 231.7h.6M113 235.8h.6M119.5 245.4h.6M111.3 242.6h.6M120.3 239.3h.6M110.6 239.9h.6M114.2 236.3h.6M113.3 238.3h.6M120.9 241.4h.6M113.7 240.5h.6M122.8 227.9h.6M122.9 225.3h.6M117.8 237.9h.6M123 235.8h.6M112.2 228.8h.6M107.9 239h.6M113.5 229.3h.6M117.7 229h.6M112.4 231h.6M123.9 243.5h.6M113.9 223.8h.6M116.3 234.5h.6M116.7 237.7h.6M113 240h.6M119.4 235.4h.6M112.6 230.9h.6M118.6 226.9h.6M113.9 229.1h.6M107.1 237.9h.6M114.7 234.2h.6M119.6 224.3h.6M114.4 235.9h.6M119.4 226.9h.6M118.7 235.4h.6M122.3 241.4h.6M117.8 248h.6M114.8 231.2h.6M112.9 227.9h.6M114.6 221.8h.6M114.3 236.8h.6M120.3 231.7h.6M122.4 229.8h.6M114.1 221.8h.6M110.6 228.9h.6M122.8 237.4h.6M108.9 237.4h.6M117.4 232.5h.6M114.9 232.1h.6M111.9 222.7h.6M114.3 242.2h.6M122.5 232.2h.6M110.8 232.7h.6M119.6 236.2h.6M111.7 236.3h.6M113.7 237.3h.6M112.6 224.7h.6M115.1 238.8h.6M108.9 233.3h.6M119.5 231.6h.6M111.3 246.9h.6M119.2 240.5h.6M109.7 244.3h.6M105.9 230.7h.6M118.8 242.4h.6M109.8 229.8h.6M115.9 221.8h.6M118.2 237.5h.6M112.4 237.4h.6M118.9 236h.6M117.6 243.6h.6M112.2 235h.6M112 240.5h.6M112.6 237h.6M115.5 234.4h.6M124 233.5h.6M122.4 239.2h.6M121.8 233h.6M119.7 238.8h.6M111.5 235.7h.6M114.1 233.8h.6M121.7 229.5h.6M105.9 223.1h.6M112.4 230h.6M114.9 237.6h.6M124.1 235.9h.6M117.3 229.4h.6M117.9 242.5h.6M121.9 221.7h.6M119.5 243.9h.6M119.2 224.6h.6M113.2 237.7h.6M117 228.9h.6M110.1 240h.6M107.7 243h.6M114.9 235.9h.6M107.7 230.3h.6M118.4 224.8h.6M125.8 225.2h.6M108.3 234.3h.6M117.3 238.6h.6M112.8 232.7h.6M113.6 230.4h.6M101.2 240h.6M116.1 235h.6M111.5 235.6h.6M114.7 233.5h.6M120.6 223.2h.6M116.1 227.3h.6M113.1 243.4h.6M109.1 233.4h.6M111.7 239.9h.6M109.6 223.5h.6M117.5 231.8h.6M113.1 240.7h.6M110.1 231.7h.6M115.6 236.6h.6M112.1 240.5h.6M126.6 231.4h.6M124.7 220.8h.6M122.2 231.9h.6M115.5 231.9h.6M111.4 226h.6M112.7 242.1h.6M120.8 231.8h.6M112 229.6h.6M108.5 245.3h.6M118.3 234.7h.6M112.2 227.6h.6M121.8 238.9h.6M109.8 240.2h.6M109 238h.6M109.7 231.4h.6M117.4 236.7h.6M120.1 228.8h.6M123.1 242.4h.6M114.7 236.9h.6M110.7 233h.6M107.8 234.6h.6M115.9 242.4h.6M119.8 239.1h.6M112.9 232.6h.6M113 235.4h.6M104.6 238.8h.6M106.5 230.8h.6M114.9 230.8h.6M123.6 233.4h.6M123.1 241.3h.6M112.2 236.5h.6M121.7 231.9h.6M115.3 230.5h.6M115.1 231.8h.6M115.2 240.3h.6M122.2 234.8h.6M115.9 239.3h.6M113.3 227.4h.6M120.7 228.2h.6M119.7 228h.6M124.5 227.5h.6M119.3 243.4h.6M109.7 243.3h.6M110.5 223h.6M118.6 238.4h.6M113.7 218.2h.6M114.5 232.1h.6M112.8 232.2h.6M105.3 230.5h.6M124.3 243.7h.6M112.9 229.6h.6M116.9 240.6h.6M118.6 226.7h.6M115.7 234.9h.6M122.4 241.5h.6M117.6 241.6h.6M112.7 243.6h.6M112.6 236.5h.6M119.6 228.3h.6M111.1 223h.6M115.7 233.7h.6M113.1 237.1h.6M103.6 233.9h.6M115.3 232.3h.6M119 244.9h.6M112.4 228.1h.6M111.6 234.6h.6M117.9 228.6h.6M120.1 227.6h.6M119.2 236.7h.6M117.2 247.5h.6M113.4 233h.6M117.3 239.4h.6M107.7 235.7h.6M110.9 237.9h.6M122 234.3h.6M114.2 235.1h.6M99.2 238.8h.6M117.8 235h.6M112.7 229.4h.6M113.9 241.6h.6M114.3 242.4h.6M101.2 231.1h.6M116.2 233.9h.6M106 229.9h.6M121.4 225.9h.6M109.6 227.2h.6M111.9 238h.6M117.9 221.3h.6M122.5 230.3h.6M111.7 244.4h.6M114.4 226.3h.6M111.4 229.5h.6M109.5 231.9h.6M119.4 236.2h.6M107.5 251.4h.6M109.6 234.7h.6M115 238.8h.6M113.1 236.8h.6M125.9 234.6h.6M109.1 236h.6M110.6 231.7h.6M115.8 236.1h.6M113.3 239.3h.6M113.8 225.9h.6M119.4 231.7h.6M121.2 229.9h.6M117.8 236h.6M100.6 224.7h.6M108.9 242.8h.6M104.8 239.7h.6M120.6 237.1h.6M118.4 230.9h.6M114.7 235.4h.6M117 238.4h.6M113.7 229.6h.6M111.8 236.6h.6M106 226.2h.6M112.6 230.5h.6M113.4 217.4h.6M113 232.4h.6M118.9 221.6h.6M113.2 237h.6M117.4 241.5h.6M120.4 227.4h.6M118.2 231.9h.6M110.6 243.6h.6M111.5 228.7h.6M112.6 228.7h.6M120.1 236.4h.6M122.2 236.6h.6M111.5 240.5h.6M111.3 231.1h.6M113.9 234.2h.6M121.1 230.2h.6M116.7 233.8h.6M108.1 227.2h.6M113.6 236.5h.6M116.5 237h.6M115.1 231.2h.6M117.1 227.7h.6M107.7 231.9h.6M107.2 230.8h.6M110.8 230.5h.6M114.6 229h.6M112.6 223.3h.6M115.6 228.5h.6M116.9 216.3h.6M110.5 235.5h.6M101.9 231.7h.6M115.3 234.6h.6M106.9 235.4h.6M115.6 227.9h.6M118.7 233.7h.6M114.9 231.2h.6M117.7 234.6h.6M120.8 236.8h.6M111.5 232.6h.6M119.7 231.7h.6M116.8 237.3h.6M113.8 219.4h.6M115.5 235.3h.6M115.5 229.2h.6M121.2 233.2h.6M111.5 229.5h.6M116.7 227.1h.6M109.5 246.6h.6M121.8 240.6h.6M122.1 237.7h.6M105.8 241.5h.6M121.4 237.1h.6M104.4 241.8h.6M122.1 230.9h.6M115.5 238.9h.6M114.3 240.9h.6M115.2 238.4h.6M115.3 224.7h.6M116.3 242.3h.6M120.9 244.8h.6M117.8 230.2h.6M114.9 221.9h.6M113.8 239.7h.6M103.3 235.2h.6M119.2 242.4h.6M109.9 229.9h.6M104.8 227.6h.6M117.6 247.1h.6M108.7 242.7h.6M117.1 230.9h.6M126.5 218.1h.6M114.4 235.4h.6M126.2 245.3h.6M126.9 234.8h.6M120 242.6h.6M117.5 236.3h.6M113.8 231.4h.6M108.2 246.3h.6M112.4 220.9h.6M116.2 233.8h.6M115.7 245.5h.6M114.2 232.3h.6M110.8 233.9h.6M112.5 235.3h.6M131.5 236.5h.6M110.2 246.2h.6M119.4 239.2h.6M118.6 239.2h.6M118.4 242.9h.6M120.2 242.5h.6M112.1 234h.6M110.9 240.1h.6M119.2 231.1h.6M117.9 250.6h.6M121.4 226.9h.6M114.3 238h.6M114.6 236.4h.6M121.1 236.1h.6M108.9 238.5h.6M114.3 234.7h.6M111.8 225.2h.6M108.1 231.8h.6M109.1 216.8h.6M120.9 226.6h.6M110.9 237.4h.6M101.9 242.5h.6M110.7 238.2h.6M112.2 235.9h.6M115.4 234h.6M105 224.7h.6M114.6 242.9h.6M110.1 217.6h.6M113.9 217.4h.6M118.3 207.7h.6M114.5 214.1h.6M111.3 210.8h.6M108.8 210h.6M107.1 227.2h.6M122.1 215h.6M117 210.2h.6M98.1 206.1h.6M113.8 222h.6M112.8 210.1h.6M111.7 210.1h.6M105.5 213.9h.6M110.9 211h.6M108.3 210.5h.6M114.3 221.8h.6M111.9 225.9h.6M104.3 216.3h.6M106.8 214.2h.6M113.5 217.7h.6M119.1 212.3h.6M106.3 214.1h.6M114.6 211.6h.6M117.8 223.2h.6M105.4 216.8h.6M118.4 205.6h.6M114.1 213.9h.6M105.4 221.4h.6M114.2 212.7h.6M115.4 218.1h.6M117.1 217.8h.6M115.2 209.3h.6M110.7 215.6h.6M98.2 225.4h.6M111 209.9h.6M103.2 216.2h.6M113.2 212.2h.6M110.8 210.7h.6M109 214.5h.6M109.5 218.3h.6M112.2 215.6h.6M115.2 221.2h.6M116.2 216.1h.6M112.1 211.1h.6M111.2 218.3h.6M114.2 213.1h.6M105.9 207.5h.6M114.7 220h.6M115 208.3h.6M111.9 216.1h.6M108.1 216.7h.6M111.9 210.9h.6M106.3 219h.6M114.9 210.7h.6M107.6 219.3h.6M116.2 213.5h.6M121.5 213.6h.6M107.3 220.3h.6M112 216.7h.6M113.2 210.1h.6M106.6 214.1h.6M120.5 210.1h.6M120.3 216.1h.6M107 216.3h.6M116 210.6h.6M101.6 216.7h.6M107.1 217.1h.6M102.8 214.3h.6M108.7 207.8h.6M111.7 215.8h.6M110 209.3h.6M114.1 206.5h.6M115.9 217.4h.6M122 219.3h.6M114.9 216.3h.6M113.1 208.6h.6M120.8 217.6h.6M111.5 209.4h.6M120.9 217.6h.6M106.7 218.3h.6M123.1 214.9h.6M115.1 213h.6M109.6 220.2h.6M129.5 215.6h.6M112.3 218.9h.6M111.4 218.5h.6M117.4 210.1h.6M107.3 214.6h.6M117.4 216.3h.6M119.6 208.3h.6M115.6 212h.6M113.5 216.6h.6M107.8 213.9h.6M106.8 216.3h.6M108.5 212.6h.6M114.2 211.8h.6M119.1 211.9h.6M117.5 216.4h.6M107.5 213.9h.6M108.5 213.2h.6M111.6 223.8h.6M110.8 222.6h.6M115.4 208.7h.6M100.7 218.3h.6M102.4 218.5h.6M118.5 216.9h.6M111.9 213.8h.6M114.4 213.5h.6M110.1 213.2h.6M119.2 212h.6M115 209.4h.6M109.2 208.3h.6M111.9 218.3h.6M114.6 212.6h.6M116.3 213.3h.6M115 216.3h.6M115.9 203h.6M106.1 218.7h.6M112.4 225.9h.6M111.7 212.3h.6M121 217.7h.6M123.1 217.5h.6M111.9 218.5h.6M108.8 212.8h.6M110 213.9h.6M117.1 212.7h.6M114.7 212.6h.6M117.7 201.7h.6M111.9 215.8h.6M107.3 219.9h.6M114.2 221.2h.6M118.1 218.1h.6M112.2 209.7h.6M111.8 212.8h.6M114.3 212.8h.6M129.2 207.3h.6M119.2 212.7h.6M111.7 219.5h.6M113 209.1h.6M115.2 214.1h.6M102.1 216h.6M107.4 211.4h.6M115.6 216.4h.6M111.5 225.5h.6M115.2 212h.6M114.3 214.4h.6M101.3 207.4h.6M105.6 225h.6M112 213.7h.6M110 219.7h.6M113.1 223.2h.6M117.2 222.9h.6M112.4 216.8h.6M110.7 214.2h.6M103.8 212.2h.6M108 211.9h.6M119.5 216.3h.6M119.5 219.1h.6M117.9 219.8h.6M109.8 218.9h.6M111.3 212.4h.6M119.3 225.4h.6M107.8 223.4h.6M117.4 210.9h.6M114.4 216.8h.6M115 213.3h.6M106.2 215.2h.6M117.6 218.8h.6M116.5 220.3h.6M107.7 214.8h.6M114.8 219.8h.6M113.8 217.5h.6M113.7 225.1h.6M101.4 214.9h.6M126.1 216.1h.6M103.3 215.6h.6M105.4 211.7h.6M114.2 223.3h.6M115.5 218.2h.6M118.4 216h.6M108.5 214.5h.6M114.8 213.7h.6M109.5 213.3h.6M105 210.1h.6M112.5 213.3h.6M113.2 221.8h.6M114.6 214.8h.6M106.8 209.8h.6M115 210.8h.6M115.3 209.8h.6M113.7 214.6h.6M118.3 213.1h.6M111 216.2h.6M113.3 223.1h.6M111.6 212.4h.6M111.3 217.3h.6M114.2 218.3h.6M105.7 226.9h.6M122.7 214.8h.6M106.6 215.7h.6M115.2 204.3h.6M113.1 207.9h.6M115.4 221.6h.6M118.5 207.8h.6M120.3 219.4h.6M111.1 217.4h.6M121 213.4h.6M112.9 212.3h.6M119.1 204.6h.6M120.5 210.3h.6M117.9 207.2h.6M108 212.1h.6M117.4 207.2h.6M116.2 211.9h.6M119.6 213.5h.6M115.6 214.2h.6M122.5 213.3h.6M112.9 224.5h.6M113.4 218.3h.6M109.1 216h.6M101 215.5h.6M109.6 207.8h.6M105.5 220.5h.6M115.3 207.7h.6M122.6 211.7h.6M111 216.2h.6M107 207.2h.6M109.1 220.7h.6M118 207.4h.6M119.4 215.2h.6M115.6 215.2h.6M115.2 210.2h.6M108.2 211.6h.6M111.1 218h.6M106.6 222.7h.6M109.7 212.2h.6M116.7 217.1h.6M111.2 209.9h.6M107.7 207.3h.6M119.1 220.2h.6M122.9 217.4h.6M114.8 218.6h.6M118 213.8h.6M114.9 225.4h.6M104 208.2h.6M107.9 218.6h.6M119.3 213.4h.6M116.6 214.8h.6M114.6 212.4h.6M112.9 215h.6M119 225.7h.6M103.4 217.6h.6M113 219.7h.6M118.6 218.8h.6M117.3 210.4h.6M104 223h.6M119.4 210.4h.6M119.8 218.2h.6M100 219.3h.6M107.8 220.6h.6M109.4 211.4h.6M104.8 214h.6M118.4 211.8h.6M103.1 225.3h.6M122.8 218.3h.6M110.2 209.2h.6M104.3 217.7h.6M119.9 209.9h.6M113 213.7h.6M111.6 217.4h.6M124.1 211.9h.6M117.5 220.2h.6M111.5 214.3h.6M105.9 220.2h.6M110.2 211.8h.6M113.4 210.9h.6M107.5 213.6h.6M120.9 214h.6M115.8 207.9h.6M102.7 223.8h.6M110.9 207.6h.6M112.4 217.9h.6M103.8 210.7h.6M114.4 210.6h.6M117.2 219.6h.6M115.3 212.9h.6M112.8 211.9h.6M112.3 216.5h.6M111.4 219.7h.6M126.8 212.4h.6M114.8 219h.6M116.4 213.9h.6M110.5 219.8h.6M116.3 217.4h.6M108.7 218h.6M117.2 214.1h.6M116.4 225.5h.6M103 217.9h.6M106.8 208.4h.6M111.7 217.6h.6M113.3 209.4h.6M105.4 212.3h.6M113.1 211h.6M105 223.5h.6M108.5 214.2h.6M110.1 212.2h.6M113.2 213.6h.6M116.3 209.3h.6M105.1 224.4h.6M112.6 218.7h.6M119.3 217.7h.6M113.2 207.5h.6M104.5 219.7h.6M116.6 217.8h.6M104.2 204.7h.6M107.4 209.3h.6M113.8 210.1h.6M121.4 212h.6M110 219.2h.6M114.8 210.6h.6M117.4 224.3h.6M106.5 213.8h.6M107.3 205.6h.6M116.3 218.4h.6M118.2 217.1h.6M102.3 214.9h.6M109.4 209.3h.6M107.1 218.7h.6M111.4 224.5h.6M115.5 205.7h.6M117.8 221.1h.6M113.2 209.1h.6M122.5 208.6h.6M112.6 205.7h.6M106.3 206.7h.6M118.8 220.7h.6M110.8 208.4h.6M112.7 216.8h.6M104.8 209.4h.6M112.5 218.4h.6M113.4 217.2h.6M106.3 202.9h.6M114.7 210.5h.6M112.3 213.2h.6M115.6 211.2h.6M120.7 215.2h.6M115.8 218.1h.6M118.6 217h.6M103.6 211.9h.6M123 217.3h.6M116 217.3h.6M109.6 211.7h.6M109.5 220.7h.6M115 223.7h.6M115.7 224.2h.6M115.5 209.2h.6M122.4 216.7h.6M119.4 216.1h.6M111.2 215.8h.6M107 209.1h.6M108.2 212.4h.6M105.7 214.5h.6M114.6 224.9h.6M122.9 214.8h.6M117.8 213.9h.6M115.1 214.8h.6M110.1 215.4h.6M105 217.2h.6M111.4 209.7h.6M111.1 217.7h.6M109.3 217.3h.6M116.1 222.7h.6M107.1 214.5h.6M115.8 222.4h.6M114.4 218.7h.6M105.1 212.1h.6M122 213.6h.6M124.7 211.4h.6M111.5 207.1h.6M110.3 228.6h.6M123.9 227.6h.6M101.5 212.1h.6M103.2 235.3h.6M111.3 238.1h.6M112.5 225.5h.6M110 227.7h.6M90.8 242.9h.6M107.7 215.6h.6M107.8 228.8h.6M113.8 240.3h.6M119.1 216.6h.6M85.6 228.8h.6M107.3 229.5h.6M93 221.4h.6M105.9 233.4h.6M125.7 228.9h.6M98 202.6h.6M114.6 224.7h.6M102.9 216.2h.6M111.3 208.2h.6M105.1 227.2h.6M107 238.9h.6M103 226.9h.6M112.5 210.6h.6M101.1 226.7h.6M113.5 218.1h.6M112 229.8h.6M89.2 211.3h.6M89.8 227.4h.6M106.1 233.2h.6M112.2 220.5h.6M114.6 234.1h.6M108.7 230.8h.6M91.2 229.6h.6M93.7 214.2h.6M100.5 227.4h.6M103.5 222.7h.6M94.1 227.9h.6M96.6 212h.6M104.9 240.5h.6M100 215.4h.6M117.8 243h.6M101.1 223.9h.6M105.3 235.9h.6M108.4 207.9h.6M93 213.7h.6M108.3 227.1h.6M121.8 223.3h.6M107.1 226.7h.6M105.4 249.1h.6M106.8 240.7h.6M116.9 220h.6M110.8 222.2h.6M105.1 227.6h.6M104.2 221.3h.6M119.5 223.4h.6M111 242.7h.6M110.2 236.2h.6M117.8 236.8h.6M121.1 211.8h.6M123.5 226.3h.6M86.6 219.6h.6M90.1 225.8h.6M89.1 216h.6M107 227.6h.6M96 223.7h.6M103 226.7h.6M103.9 223.8h.6M112.8 210h.6M99.1 227.3h.6M100 220.5h.6M99.6 228.1h.6M116.4 224.1h.6M101.3 229.6h.6M101.6 206.7h.6M106.7 222.2h.6M98.3 232.3h.6M104.4 220.4h.6M82.2 208.8h.6M104.1 224.8h.6M108.4 228.2h.6M99.2 213.4h.6M93.1 224.6h.6M92.5 233.6h.6M90.7 208.1h.6M102.1 208.3h.6M120.3 216.1h.6M103.5 223.6h.6M95.8 208.3h.6M85.4 234.6h.6M114.2 247.6h.6M89.4 231.6h.6M103.9 234.5h.6M98.9 233.2h.6M113 232.1h.6M118.5 224.3h.6M119.4 219h.6M120.7 198.5h.6M104.1 218h.6M104 236.3h.6M111.2 226.9h.6M121 211.2h.6M95.9 241.1h.6M107.3 205.3h.6M107.4 214.2h.6M118.8 237.4h.6M98.5 238.9h.6M95.7 235.2h.6M109.8 224.7h.6M89.8 223.2h.6M81.1 220.4h.6M85.5 238.2h.6M94.3 201.7h.6M109.8 229.7h.6M98.9 247.2h.6M111.7 226.7h.6M97.6 196.4h.6M108.8 235.6h.6M98.1 211.9h.6M103.6 209.3h.6M104.1 233.7h.6M119.1 228.7h.6M106 233.5h.6M118 222.8h.6M91.7 218.1h.6M91.4 217.1h.6M102.8 229.4h.6M105.6 226.7h.6M100.4 230.2h.6M112.9 233.6h.6M119 223.1h.6M101.5 242.9h.6M106 230.1h.6M100.6 235.7h.6M100 215.9h.6M103.4 221.6h.6M112.3 222.2h.6M105.2 223.8h.6M107.4 219.7h.6M115 211.8h.6M100.1 218.9h.6M110.5 226.4h.6M108.8 222.7h.6M96.8 214.8h.6M100.7 220.6h.6M106.8 229.5h.6M113.8 224.9h.6M96.5 215.4h.6M104.6 229.6h.6M123.5 227.8h.6M121.6 244.7h.6M93.5 238.1h.6M115.4 239.5h.6M103.9 235.6h.6M99.2 225.3h.6M104.2 243.8h.6M101.8 235.6h.6M104.7 218.9h.6M106.4 232.6h.6M96.9 232.3h.6M96.9 217.2h.6M106.2 223.6h.6M94.2 209.7h.6M104.2 228.4h.6M99.4 227.9h.6M88.7 229.9h.6M108.2 228.8h.6M97.9 226.8h.6M105.3 236.7h.6M106.8 228.5h.6M96.8 234.6h.6M115.7 221.1h.6M110.4 229.1h.6M103.5 213.1h.6M121.6 207.3h.6M107 222.2h.6M115.4 221.8h.6M104.4 232.1h.6M108.6 220.8h.6M110.8 229.9h.6M113.9 220.9h.6M103.5 222.1h.6M95.6 228.5h.6M108.1 240.2h.6M100.8 229.9h.6M115.4 224.9h.6M104.6 227.3h.6M97.1 216.1h.6M115.1 227.7h.6M103.3 213.6h.6M105.2 237.7h.6M92.5 217.1h.6M115.1 240.3h.6M119.5 220.5h.6M110 218.5h.6M109.2 222.4h.6M106 239.4h.6M107.4 223.6h.6M104.6 228.6h.6M98.9 228.1h.6M110 241.5h.6M83.5 214.2h.6M91.7 234.7h.6M128.3 227.9h.6M105.2 237.3h.6M98.9 221.2h.6M107.4 220.2h.6M115 226h.6M107.8 251.2h.6M99.5 235.2h.6M95.8 238.4h.6M113.6 227.4h.6M113.8 242h.6M117.7 226h.6M103.5 237h.6M89.4 220h.6M108.8 231.6h.6M122.5 243.4h.6M107.2 230.4h.6M90.9 224.2h.6M106.6 223.8h.6M104.6 232h.6M94.6 220.4h.6M86.4 237.3h.6M93.6 209.1h.6M111.6 223.9h.6M113.6 222.4h.6M125 233.1h.6M105.5 227.1h.6M102 234h.6M123.8 221.8h.6M93.2 231.9h.6M114.6 211.2h.6M97.2 216.1h.6M109.6 231h.6M96.7 214.9h.6M110.7 205.7h.6M110.4 224.5h.6M123 235.8h.6M98.3 223.3h.6M101.3 218.8h.6M104.8 235.5h.6M89.1 223.8h.6M118.7 233.3h.6M96 218h.6M95.6 210.2h.6M115.3 226.7h.6M97.1 211.9h.6M100.2 221h.6M121 221.5h.6M105.1 236.6h.6M110.6 224.2h.6M82.5 239.8h.6M109.9 221.7h.6M103.1 216.6h.6M95.2 211.4h.6M108.9 231.1h.6M105.7 233.7h.6M109.3 227.2h.6M95.3 231.8h.6M115.7 232.2h.6M116.3 221.4h.6M94.4 238.3h.6M98.3 228.4h.6M102.1 226.2h.6M101.3 220.7h.6M86.5 244.7h.6M106 207.1h.6M95.1 214.9h.6M96.7 201h.6M109.6 242.1h.6M101.6 233.3h.6M109.9 213.8h.6M116 209.5h.6M98.4 222.5h.6M116.3 227.2h.6M102.8 218.1h.6M104.9 226.4h.6M111.2 239.7h.6M111.2 226.2h.6M102.5 241.7h.6M106 225.8h.6M121.6 241.4h.6M109.6 224.9h.6M97.8 236.4h.6M99.6 235.4h.6M96.3 227h.6M107.9 227.4h.6M106.3 229.7h.6M93 215.1h.6M102.6 243.7h.6M102.8 216.9h.6M97.5 226.3h.6M115.6 220.5h.6M109.5 227.8h.6M100.5 216.8h.6M102.5 218.9h.6M109.3 208.8h.6M115 233.4h.6M109.7 240.6h.6M109.9 209.3h.6M104.5 230.4h.6M97.3 215h.6M108.2 231h.6M99.8 223.6h.6M99.1 220.5h.6M103.4 236.5h.6M88.3 222.7h.6M119.8 229.1h.6M105.5 234.2h.6M94.2 214.2h.6M87.8 211.8h.6M106.4 234.3h.6M99.9 219.4h.6M107.9 232h.6M106.5 207.4h.6M98.7 201.3h.6M106.4 217.7h.6M97.6 240.6h.6M116.9 230.7h.6M106.7 227.7h.6M98.3 225.5h.6M122.6 217.5h.6M97.6 227.6h.6M112.7 234.1h.6M94.6 224.7h.6M101.4 214h.6M104.8 221.3h.6M113 230.2h.6M96.4 226.8h.6M100.5 219.8h.6M99.3 236.4h.6M100 209.3h.6M96.5 233.9h.6M124.9 215.8h.6M100.5 222.8h.6M90.3 229.9h.6M103.5 228.7h.6M125.8 223.4h.6M111.7 234.1h.6M97.8 220.2h.6M119.1 233h.6M105.4 215.4h.6M112.6 231.1h.6M125.4 240.3h.6M111.8 228.6h.6M104.6 220.6h.6M107 228.4h.6M110.3 236.6h.6M107 220.7h.6M111.9 241.1h.6M95.9 230.1h.6M109.3 231.2h.6M108.9 225.1h.6M103 242.4h.6M120.8 212.4h.6M97.4 221h.6M88.5 229.4h.6M103.5 220.8h.6M112.7 249.6h.6M118.3 237.4h.6M100 232.4h.6M103.6 237.2h.6M109.7 225.7h.6M109.4 219h.6M111.7 240.6h.6M100.5 231.4h.6M87.8 235.1h.6M112.5 216.1h.6M120.9 227.1h.6M87.2 212.7h.6M112.5 223.4h.6M114.7 210.9h.6M103 235.5h.6M102.1 251.7h.6M105.8 250.8h.6M95.6 251.9h.6M125.3 247.3h.6M122.2 242.8h.6M107.2 245.8h.6M113.5 248.2h.6M103.5 248h.6M113.4 248.9h.6M99.5 249.4h.6M114.7 247.9h.6M123 246h.6M114.8 249.1h.6M128.3 248.4h.6M102.3 246.7h.6M133.2 251.5h.6M97.4 249.2h.6M98.8 253.7h.6M114.9 245.1h.6M112.4 252.2h.6M110 251.2h.6M108.7 250.5h.6M112.5 248.3h.6M114.1 250.4h.6M109.6 248.3h.6M98.2 250.6h.6M119.6 244.1h.6M103.8 253.3h.6M120.7 248.3h.6M125.8 247.6h.6M104.9 249.5h.6M90.8 247.5h.6M96.3 249.7h.6M88.6 252.6h.6M105.9 248.5h.6M102.6 251.8h.6M127.9 249h.6M125.7 250.7h.6M92.6 251.6h.6M105.2 250.5h.6M88 249.3h.6M112.7 247.7h.6M112.7 248.3h.6M137.8 244.8h.6M99.3 251h.6M103.1 244.4h.6M113 252h.6M100.7 253.6h.6M115.8 252.9h.6M92.2 250h.6M125.4 250h.6M112.1 248.5h.6M122.8 248.3h.6M111.4 245h.6" stroke="#000" stroke-opacity="0.55" stroke-width="0.6" fill="none"/>
<ellipse cx="91.2" cy="214.4" rx="14.8" ry="9.6" fill="url(#gb)" transform="rotate(14 91.2 214.4)"/>
<ellipse cx="93.2" cy="234" rx="14.4" ry="9.8" fill="url(#gb)" transform="rotate(-12 93.2 234)"/>
<ellipse cx="114.8" cy="233.6" rx="10.2" ry="13" fill="url(#gb)" transform="rotate(16 114.8 233.6)"/>
<ellipse cx="113" cy="216" rx="10.5" ry="9.5" fill="url(#gl)" transform="rotate(0 113 216)"/>
<ellipse cx="103.5" cy="224.5" rx="5.5" ry="8.5" fill="url(#gb)" transform="rotate(0 103.5 224.5)"/>
<ellipse cx="109" cy="224" rx="7" ry="7" fill="url(#gl)" transform="rotate(0 109 224)"/>
</g>
<rect x="80.3" y="195.6" width="59.2" height="59.1" fill="none" stroke="#a4a4a4" stroke-width="0.7"/>
<rect x="80.3" y="202.3" width="24.3" height="23.9" fill="none" stroke="#7c7c7c" stroke-width="0.55"/>
<rect x="80.3" y="226.2" width="24.3" height="20.2" fill="none" stroke="#7c7c7c" stroke-width="0.55"/>
<rect x="106" y="224.2" width="18.8" height="22.2" fill="none" stroke="#7c7c7c" stroke-width="0.55"/>
</g>
<g>
<clipPath id="dp259"><rect x="80.6" y="259.2" width="59.6" height="59.4"/></clipPath>
<g clip-path="url(#dp259)">
<ellipse cx="93" cy="287" rx="15" ry="20" fill="url(#gh)" transform="rotate(0 93 287)"/>
<ellipse cx="114" cy="290" rx="13" ry="20" fill="url(#gh)" transform="rotate(0 114 290)"/>
<path d="M81.1 288h.6M91.8 280.1h.6M105.5 271.4h.6M87.8 277.9h.6M82.8 272.1h.6M83 282.3h.6M91.1 283.2h.6M84 282h.6M88.4 279.5h.6M97.8 279.2h.6M89 270.5h.6M91.8 283h.6M87.1 278.7h.6M94.2 285.6h.6M89.3 270.5h.6M88.8 271h.6M89.5 288.8h.6M93.5 278.2h.6M98.5 277.1h.6M93.7 280h.6M94.5 271.5h.6M96.3 283.5h.6M85.3 286.6h.6M91.5 282.5h.6M95.2 283.5h.6M87 276h.6M94 282.1h.6M95.3 280.7h.6M88.1 284.6h.6M94.6 284.4h.6M86.8 279.6h.6M88.1 277.4h.6M92.7 280.8h.6M85.9 266h.6M86 281.8h.6M85.6 281.2h.6M88.9 274.2h.6M99.5 287.5h.6M90.7 278.7h.6M98 272.2h.6M85.4 284.8h.6M97.6 276.5h.6M86 280.8h.6M81.7 276.4h.6M89.8 266.4h.6M95.5 282.9h.6M98.8 271.6h.6M82.5 274.8h.6M82.4 289.6h.6M84.6 277.4h.6M92.8 281.3h.6M101.5 273.4h.6M97.5 279.8h.6M83.3 279.8h.6M81.7 287.4h.6M86.3 284.2h.6M100.4 275.8h.6M85.2 279.7h.6M84.1 283.6h.6M92.6 275.1h.6M86.6 282.7h.6M81.3 287.7h.6M85.9 278h.6M85 287.4h.6M97.1 285.7h.6M95.9 279.5h.6M103.2 282.4h.6M94.4 282h.6M96.5 280.4h.6M90.2 270.7h.6M105.7 272.3h.6M104.9 285.3h.6M87.2 280.4h.6M91.2 268.7h.6M89.1 280.5h.6M99.6 272.8h.6M93.7 279.4h.6M92.4 279.8h.6M88.8 271.9h.6M94.6 281h.6M95.4 285.5h.6M82.7 266.9h.6M85 281.1h.6M91.3 282.8h.6M113.9 276.3h.6M90.2 275.9h.6M93.1 281.7h.6M84.6 285.8h.6M99.4 281.3h.6M90.6 277.8h.6M84.6 276.4h.6M98.4 274.2h.6M87.7 283.5h.6M104.4 275.4h.6M99.1 275.6h.6M94.1 281.5h.6M83.4 284.3h.6M104 279.3h.6M93.3 272.9h.6M103.9 279.3h.6M82.5 283h.6M81.2 275.4h.6M106.9 275.7h.6M86.8 276h.6M87.4 281.9h.6M101.6 273.8h.6M94.5 269.6h.6M102.1 278.5h.6M86.5 287h.6M90.7 286.1h.6M98.9 287.6h.6M85.8 279.3h.6M94 278h.6M102.1 275.3h.6M98.4 286.1h.6M85.1 276.2h.6M94.1 278.1h.6M92 276.6h.6M90.8 281.5h.6M96.6 274.9h.6M90.6 275h.6M90.2 271.5h.6M98.1 282.5h.6M90.5 275.4h.6M88.2 275.5h.6M114.4 272.6h.6M83.2 282h.6M95.6 270.8h.6M87.9 279.4h.6M91.4 276.1h.6M90.4 277.4h.6M100.1 278.5h.6M91.2 276.2h.6M87 275.2h.6M91.5 288.6h.6M99.2 280.2h.6M103.1 284.3h.6M92.9 278.1h.6M83.7 280.3h.6M89.2 270.8h.6M82.4 289.1h.6M92.9 281.6h.6M92.8 276.6h.6M94.6 284.6h.6M89.2 281.7h.6M98.6 276.5h.6M92.6 275.2h.6M95.6 277.1h.6M99.4 275h.6M103.2 277.4h.6M85.5 274.3h.6M96 274.5h.6M104 285.7h.6M95 271.6h.6M91.2 275.2h.6M106.8 276.2h.6M97.1 285.7h.6M84.7 277.2h.6M93.3 281.5h.6M83.4 280.1h.6M90.7 283.9h.6M87.9 277.4h.6M96.5 275.7h.6M110.6 275.3h.6M97.3 284.3h.6M98.2 277.9h.6M85.6 277.7h.6M96.1 279.6h.6M95.5 282h.6M85.2 274.1h.6M101.5 276.5h.6M85.6 274.1h.6M98.2 273.1h.6M85.3 284.4h.6M85.7 292h.6M92.1 293h.6M92.3 279.3h.6M86.9 277.8h.6M87.9 278.9h.6M96.8 272.4h.6M85 268.1h.6M101.9 278.6h.6M91.3 278.7h.6M98.4 280.7h.6M97.4 278.1h.6M90.6 278.7h.6M96.1 279.3h.6M97.1 287.9h.6M104.4 286.2h.6M89.8 289.7h.6M85.2 278.6h.6M98.4 277.9h.6M90.6 277.2h.6M101 266.2h.6M100.3 284.5h.6M90.9 281.9h.6M84.6 284.8h.6M112.8 274.2h.6M101.2 278.7h.6M89 276.5h.6M90.1 272.5h.6M81.9 287.6h.6M91.3 281.9h.6M93.6 281.5h.6M95.8 284.2h.6M83.4 276h.6M83.9 282.4h.6M93.8 279.2h.6M86.9 280.8h.6M91.6 275.1h.6M93.7 275.5h.6M98.1 282.3h.6M86.6 282.1h.6M91.9 275.3h.6M85 270.4h.6M83.5 280.8h.6M99.9 275.7h.6M92.5 280.8h.6M96.9 281.3h.6M100 283h.6M86.1 281.1h.6M91.5 282h.6M89.3 283.3h.6M100.6 274.6h.6M87.6 280.4h.6M94.8 279.7h.6M97.2 272.9h.6M96.8 285.1h.6M99.2 281.2h.6M89.7 281.1h.6M90.9 270.7h.6M87.2 278.8h.6M87.8 274.2h.6M89.8 277.1h.6M91.9 278.7h.6M92.6 284.2h.6M92.4 281.1h.6M82.8 263.7h.6M88.6 282.5h.6M89 275.8h.6M82.7 283.6h.6M87.7 280.3h.6M99.3 281.8h.6M107.1 278.3h.6M98.1 282.6h.6M86.8 279.2h.6M87.4 273.7h.6M93.5 275h.6M103.2 275.1h.6M87.6 279.5h.6M87.8 279.3h.6M87.1 271.6h.6M102.1 281.3h.6M92.5 276.6h.6M90.4 280.6h.6M81.7 274.8h.6M85.2 285.5h.6M84 285.1h.6M88.1 293.2h.6M90.9 279.2h.6M100.9 283.5h.6M98 273.4h.6M99.4 287.7h.6M90.7 276.5h.6M83.8 284.3h.6M93.5 279h.6M82.8 287.4h.6M97.5 278.9h.6M101.7 274.1h.6M97.6 273.8h.6M101.3 277.6h.6M100 276.8h.6M94.2 284.9h.6M85.1 279.5h.6M85.5 283.4h.6M87.2 277.1h.6M90 285.1h.6M84.1 278.9h.6M89.1 276.1h.6M85.9 278.2h.6M92.8 271h.6M93 272.8h.6M91.5 290.9h.6M84.6 278.7h.6M89.6 284.1h.6M88.1 269.7h.6M93.2 284.5h.6M87.6 282.5h.6M84 285.7h.6M90.9 275.5h.6M92.6 288.1h.6M85.5 272.6h.6M84.3 273h.6M91 280.8h.6M90.3 280h.6M99.7 277.5h.6M82.6 267.1h.6M93.1 275.5h.6M89.7 281.1h.6M94.6 270.8h.6M84.7 279.4h.6M90.4 285h.6M87.9 268.3h.6M99.6 270.5h.6M84.6 281h.6M84 291.9h.6M93.1 281.8h.6M88.3 290.5h.6M95.2 275.3h.6M100.2 270.2h.6M87.3 280.5h.6M92.4 274h.6M102.5 286.7h.6M84.9 280.9h.6M87 276.8h.6M98.3 279.7h.6M90.6 279.5h.6M83.2 285.3h.6M86.1 285.8h.6M88.2 276.6h.6M101.8 280h.6M86.9 276.2h.6M95.6 288.7h.6M95.7 277h.6M83.6 275.5h.6M90.6 280.3h.6M86.8 285.7h.6M84.7 275.3h.6M94.9 281.5h.6M88.7 284h.6M81.5 287.5h.6M106.7 289.2h.6M92.2 289.2h.6M91.8 285.9h.6M90 280h.6M95.1 269.9h.6M89.9 287.9h.6M97.9 280.7h.6M92.8 286.2h.6M93.7 269.2h.6M84.8 277.5h.6M92.4 276.7h.6M90.7 287.7h.6M98 282.1h.6M91.5 279.3h.6M93.9 280.3h.6M86.3 283.1h.6M85.6 278.8h.6M88.9 273h.6M95.6 278.6h.6M83.3 278.6h.6M81.8 286.5h.6M95 289.3h.6M87.4 282.7h.6M84.6 274.6h.6M90.8 281.1h.6M97.9 277.6h.6M99.1 284h.6M85.3 278.1h.6M85 287.8h.6M87.6 283.6h.6M97.8 277.7h.6M88 280.8h.6M86 272.4h.6M84.7 280.8h.6M92.7 288.1h.6M83.4 285h.6M96.3 279.7h.6M101.7 277.1h.6M87.7 273.6h.6M86.8 279.6h.6M96.1 285.6h.6M89.5 275.2h.6M89.1 276.8h.6M88.1 276.9h.6M85.3 278.7h.6M87.8 278.1h.6M81.8 279.8h.6M95.4 282.3h.6M87.6 273.1h.6M82.4 272.9h.6M86.9 277.4h.6M86.4 283.3h.6M104.2 277.2h.6M89.5 277h.6M90 278.1h.6M108.5 273.4h.6M90.6 274.9h.6M93.9 276.3h.6M95.4 273.4h.6M106 280.1h.6M88.1 273.1h.6M94.5 276.3h.6M96.5 276.2h.6M97.7 279.8h.6M93.9 279.8h.6M88.9 277.1h.6M94.5 282.6h.6M88.6 290.5h.6M103.1 273.1h.6M98.9 278.6h.6M93 275h.6M102.8 274.8h.6M90.8 275.3h.6M104.8 285.4h.6M82.3 276.7h.6M93.9 276.8h.6M89 273.5h.6M93.1 273.4h.6M97.2 291.3h.6M89.1 287.4h.6M94 275.6h.6M89 274.1h.6M92.2 282.6h.6M97.8 277.6h.6M83.2 278.6h.6M103 280.4h.6M91 268.4h.6M88.4 281.8h.6M84.9 285.9h.6M87.5 274.6h.6M87.4 278.5h.6M98.3 276.1h.6M95 286.9h.6M83.7 286.6h.6M96.1 281.3h.6M86.1 274.5h.6M84.8 283.8h.6M92.9 284.5h.6M103.9 279.1h.6M91.1 288.8h.6M82.4 276.7h.6M88.9 277.1h.6M92.4 274.7h.6M99.4 272.1h.6M85.8 270.4h.6M81.7 282h.6M95.7 278h.6M97.2 282.2h.6M87.4 278.8h.6M93.9 289.3h.6M88.4 280.9h.6M95.2 285.2h.6M94.3 284.5h.6M84.1 277.7h.6M107.5 280.3h.6M92 280.4h.6M92.4 272.3h.6M86.6 278.1h.6M92.6 274.6h.6M90.7 275.3h.6M82.3 275.7h.6M85.9 283.3h.6M100.6 282h.6M89.9 276.2h.6M102.2 284.9h.6M92.9 277.8h.6M91.4 281.2h.6M91.3 281.2h.6M86.1 279.3h.6M89 284.5h.6M82.9 285.6h.6M90.8 276.5h.6M91.5 279.7h.6M89.8 281.2h.6M87.4 270.4h.6M96.2 278.9h.6M102.9 281h.6M86.7 281.8h.6M106.7 284.6h.6M83.9 278.6h.6M95.3 273.8h.6M94.5 283.8h.6M97 275.6h.6M86.6 273.4h.6M82.5 280.6h.6M91.7 285.6h.6M93.3 277.4h.6M81.6 286.9h.6M92.5 278.9h.6M84.5 273.7h.6M95.8 274.1h.6M95.4 282.2h.6M88.8 270.8h.6M94.2 286.2h.6M88.3 291.9h.6M101.5 298.7h.6M89.7 304h.6M92.1 300.2h.6M91.2 294.4h.6M95.5 293.9h.6M81.8 295.4h.6M102.5 303.4h.6M108.9 302.9h.6M105.1 299.3h.6M91 300.3h.6M87.5 301.6h.6M90.9 299.3h.6M88.1 297.4h.6M100.7 297h.6M89.4 299.4h.6M100.1 297.1h.6M86 290.5h.6M84.8 303.2h.6M93.4 300.4h.6M101.4 299.4h.6M97.3 295.6h.6M82.9 301.1h.6M93.3 300.8h.6M86.7 297.4h.6M107.8 294h.6M94.7 304.4h.6M92.4 298.7h.6M91 304.3h.6M93.4 296.3h.6M97 296.9h.6M90.5 305.5h.6M100.7 298.6h.6M99.5 302h.6M98 298.3h.6M94.5 300h.6M97.9 299.8h.6M90.2 297.7h.6M97.1 293.3h.6M93.9 301.7h.6M95.2 296.7h.6M93.8 295.7h.6M100.7 296.3h.6M82.6 292.3h.6M96.1 299.1h.6M90.8 291.8h.6M93 294h.6M89.5 298.1h.6M88.7 299.6h.6M88.9 295.8h.6M92.4 305.1h.6M104.8 302.6h.6M89 298.1h.6M100.3 301.9h.6M82.8 297.8h.6M88.9 301.7h.6M98.4 295.5h.6M108.7 296.7h.6M110.7 297.3h.6M93.4 307.2h.6M90.4 295.8h.6M104.1 297.9h.6M97.3 292.1h.6M106.3 302.8h.6M96.4 301.5h.6M90.6 295.8h.6M83.2 299.8h.6M102.5 302.2h.6M100.3 301.5h.6M87.7 291.8h.6M98.4 298.9h.6M100.8 296.8h.6M88 300.2h.6M90.2 290.3h.6M89.8 293.9h.6M86.4 295.5h.6M100.5 309.3h.6M105.8 296.1h.6M101.8 297.7h.6M96.8 294.9h.6M93.5 290.1h.6M106.3 294.4h.6M98 295.3h.6M95.9 292.5h.6M91.4 302.4h.6M98.1 288.8h.6M99.8 291.8h.6M96 300.6h.6M89.6 296.6h.6M92.3 300h.6M100.3 304.6h.6M96.2 307.6h.6M87.5 306.5h.6M92.2 301.7h.6M93.1 298.5h.6M87.7 299.9h.6M107.9 298.8h.6M93.9 298.1h.6M98.9 297.1h.6M94 299.1h.6M102.9 302.6h.6M86.8 295.1h.6M94.1 302.1h.6M100.6 297.1h.6M108.6 297.3h.6M103.6 304.8h.6M104.9 299h.6M97.9 290.8h.6M81.8 295.2h.6M98.9 303.1h.6M93.3 303h.6M98 305.3h.6M83.1 294.1h.6M87.4 293.1h.6M105.3 293.7h.6M88.3 296.2h.6M100.1 295.9h.6M99 300.7h.6M89.6 286.9h.6M87.7 292.2h.6M105.2 294.7h.6M86.7 299.9h.6M94.4 293.6h.6M101.5 302.4h.6M95.9 294.5h.6M88 288.3h.6M96.6 299.9h.6M87.7 298.2h.6M116.5 292.7h.6M82.3 301h.6M91.1 295.7h.6M98.3 297.5h.6M100.8 300.5h.6M102 298.6h.6M82.3 303h.6M95.7 291.5h.6M94.5 302.3h.6M87 298.3h.6M88.9 293.3h.6M89.8 304.1h.6M98.7 297.9h.6M93.4 298.7h.6M96 298.9h.6M82.2 302.4h.6M88.1 285.7h.6M98.8 292.3h.6M93 297.6h.6M89.9 300.6h.6M92.1 296.7h.6M87.4 296.7h.6M86.9 298.3h.6M103.1 302.9h.6M96.9 291.6h.6M101.1 302.5h.6M108.2 287.4h.6M94.1 296.5h.6M101.5 292.9h.6M91.4 309.1h.6M100.8 288.6h.6M94.1 304.6h.6M89.8 300.9h.6M94.7 291.1h.6M89.7 303.4h.6M102.2 295.2h.6M101.7 294.7h.6M95.7 297.9h.6M85.4 299.6h.6M91.3 285h.6M88.3 294h.6M88.3 293.4h.6M89.3 286.4h.6M100.1 298.4h.6M95.8 296.8h.6M94.4 296.8h.6M86.5 290.8h.6M94.5 302.9h.6M95.6 305.7h.6M84.6 296.8h.6M89.7 303.9h.6M105.7 295.5h.6M99 296.9h.6M87.1 297.5h.6M86.8 305.4h.6M98.1 303.7h.6M96.5 286.4h.6M99.5 298.5h.6M101 306.2h.6M87 301.8h.6M96.3 297.2h.6M92 300.6h.6M98 301.2h.6M91.2 291.7h.6M103.1 304.2h.6M90.1 297.9h.6M99.6 289.6h.6M97.4 309.6h.6M95.9 294.6h.6M108.1 298.1h.6M95.5 296h.6M95.2 289.4h.6M85.2 291h.6M100.2 297.6h.6M101.9 288.3h.6M89.9 305h.6M88.5 289.1h.6M88.9 296.4h.6M93.9 304.3h.6M103.1 305.4h.6M98 295.6h.6M90.6 290.9h.6M102.8 304h.6M94.6 293.7h.6M98.6 300.4h.6M95.1 292.4h.6M95.6 295.3h.6M99.1 300.9h.6M97 296h.6M104.5 301.7h.6M102.7 302h.6M98.6 299.9h.6M86.6 289.3h.6M87.6 301h.6M100.3 298.9h.6M94.6 306.8h.6M91.3 289.5h.6M83.4 296.5h.6M98.8 301.5h.6M92.5 301.9h.6M93.7 294.5h.6M91.4 301.6h.6M100.6 292.6h.6M87.2 298.6h.6M108.6 292.4h.6M85.4 300h.6M97.5 295.1h.6M93.8 300.3h.6M82 297.9h.6M98.1 302.4h.6M102 297.7h.6M84.1 304.4h.6M99.3 295h.6M101.1 303h.6M93 286.7h.6M90.8 294.4h.6M88.3 297.6h.6M86.6 299.9h.6M107 292.3h.6M101.1 295.5h.6M97.7 297.4h.6M102.8 294.6h.6M99 294.3h.6M95.6 297.9h.6M101.5 290.4h.6M84.7 304.7h.6M96.6 306.1h.6M86.9 299h.6M98.1 306.5h.6M93.6 295.9h.6M98.9 297.5h.6M88.9 301.7h.6M103.3 295.6h.6M91.8 299.8h.6M101.7 300.5h.6M87.4 295.3h.6M101.2 297.4h.6M89.7 302.2h.6M101.8 308.4h.6M86.6 294.6h.6M89.3 299.7h.6M90.7 303.3h.6M89.6 296.7h.6M97.9 299h.6M87.1 305.2h.6M97.9 295.6h.6M95.4 292.7h.6M85.6 296.6h.6M96.5 298.5h.6M88.7 291.4h.6M82.5 305.7h.6M96.5 294.2h.6M102.1 300.6h.6M91.2 295.1h.6M101.8 299.6h.6M105.2 299.7h.6M90 295.1h.6M89.2 299.2h.6M95.7 300.9h.6M97.1 293h.6M92.6 293.5h.6M97.3 291.7h.6M90 293.9h.6M89.8 296.8h.6M104.3 296.8h.6M84.2 296.6h.6M99.1 300.7h.6M95.6 307.6h.6M101.6 298.4h.6M102.3 291.6h.6M92.8 293.8h.6M95.2 305.8h.6M90.6 305.6h.6M87 304.8h.6M82.5 293.9h.6M100.8 297.6h.6M95 297.9h.6M95.2 297.1h.6M87.3 296.6h.6M94.8 293.7h.6M97.2 306.5h.6M82.8 295.4h.6M92.1 298.1h.6M94.7 294.5h.6M93.8 298h.6M93.4 305.4h.6M94.9 290.9h.6M83.3 300.8h.6M91.7 295h.6M84.8 296.5h.6M93.4 294.7h.6M91.6 302.3h.6M99.3 300.6h.6M92.8 291.5h.6M99.3 305.2h.6M102.7 303.6h.6M95.9 299.8h.6M93.9 304h.6M92.2 308.3h.6M99.3 296.5h.6M94 290.3h.6M89 296.6h.6M110.7 294.1h.6M100.2 298.4h.6M92 301h.6M107.2 299.4h.6M93.6 298.8h.6M98.5 295.7h.6M94.8 300.4h.6M91.6 299.9h.6M96.3 301.4h.6M87.3 295.4h.6M91.1 303.7h.6M95.7 290.1h.6M85.3 307.3h.6M96.3 291.8h.6M87.8 298.7h.6M103.7 305.8h.6M91.5 296.6h.6M107 293.3h.6M104.6 299.6h.6M94.6 304.2h.6M97.3 294h.6M83.6 298.1h.6M97.5 304.6h.6M98.2 305.3h.6M99.4 299h.6M96.9 299.9h.6M89.7 297.5h.6M94.9 295.8h.6M84 291.1h.6M97.4 300.5h.6M94.7 292.4h.6M99.8 296.1h.6M83.9 308.8h.6M97.6 295.9h.6M104.1 304.5h.6M95.8 289.8h.6M91.4 296.6h.6M97.1 297.4h.6M96.3 290.2h.6M89.6 304.9h.6M84.1 302.4h.6M109.7 301.1h.6M84.6 304h.6M81.4 299.6h.6M91.2 304h.6M102 298.9h.6M106.2 302.7h.6M90.8 293.3h.6M110.7 296.1h.6M96.8 297.4h.6M90.8 290.3h.6M93 297.4h.6M100.7 295.5h.6M83.4 292.8h.6M93.7 299.2h.6M98.9 296.2h.6M97.7 298.7h.6M105.5 297.7h.6M95 300.7h.6M102.3 293.6h.6M90.8 296.7h.6M101.3 298.1h.6M116.9 304.1h.6M107.8 305.6h.6M100.2 291.2h.6M104.4 300h.6M85.9 298.3h.6M99.1 302.7h.6M95.2 295.5h.6M99.2 294.3h.6M93.5 301.7h.6M84.2 299.8h.6M85.6 297.6h.6M98.9 297.8h.6M100.2 298.5h.6M92.6 300.4h.6M92.4 298.7h.6M101.1 295.3h.6M101.8 292.7h.6M92.5 289.6h.6M90.4 305.7h.6M96.4 304.1h.6M84 293.1h.6M97.2 302h.6M99.7 289.9h.6M97.5 297.7h.6M94.8 300.3h.6M92.1 289.8h.6M86.7 291h.6M85 297.4h.6M102.9 294.6h.6M88.8 292.5h.6M82.2 298.3h.6M90.7 296.8h.6M87.5 300.3h.6M85.8 300.6h.6M89.5 301.8h.6M88 300.1h.6M97 297.6h.6M105.1 298.8h.6M88 301.3h.6M88.4 295.4h.6M94.1 298.9h.6M105.6 289.6h.6M92.2 303.5h.6M92.9 299.6h.6M104.4 292.1h.6M94.3 301.8h.6M90 289.5h.6M87.2 298.9h.6M95.3 306.9h.6M103 290.5h.6M101.1 302.4h.6M105 297.3h.6M90.2 298.7h.6M104.5 301h.6M105.6 301.8h.6M90 293.1h.6M106.6 290.7h.6M91.6 296.5h.6M87.8 295.2h.6M94 309.5h.6M93.6 295.5h.6M94.8 302.5h.6M88.4 296h.6M82.1 301.4h.6M98.6 305.3h.6M85.8 308.5h.6M100 296.7h.6M91.3 296.5h.6M85.7 301.7h.6M89.9 294.5h.6M97.5 298.5h.6M90 296.9h.6M90.6 304.5h.6M100.8 294.5h.6M93.7 304.6h.6M92 306.6h.6M97 301.2h.6M105.3 303.4h.6M117.1 301.9h.6M117.7 301.6h.6M112.9 303.7h.6M115.7 292.4h.6M110.4 299.4h.6M117 285.7h.6M105.3 304.6h.6M115.3 315.1h.6M107.9 297.1h.6M112.5 301.7h.6M122.3 307.9h.6M110.5 305.7h.6M109.5 300.3h.6M116.2 302.1h.6M111.5 306.3h.6M115.1 298.4h.6M114.1 292.3h.6M118.9 300.5h.6M117.6 309.3h.6M111.2 296.8h.6M115.4 303.5h.6M114.5 303.9h.6M117.6 288.3h.6M112.1 286.7h.6M114 296.1h.6M118.3 299.5h.6M115.1 305.8h.6M118.3 291.3h.6M112 300.4h.6M123.7 297.3h.6M114.6 300h.6M119.2 298h.6M116.8 296h.6M112.7 293.9h.6M118.6 295.3h.6M118.1 300.9h.6M120.2 282.9h.6M110.7 291.4h.6M114.6 303.2h.6M127.8 307.5h.6M122 300.7h.6M113.5 301.6h.6M104.8 303.9h.6M115.4 302.1h.6M110.4 292.1h.6M112.3 298.2h.6M117.1 296.4h.6M117.1 302.5h.6M109.7 297.9h.6M107.8 295.3h.6M119.8 294.3h.6M124.5 301.4h.6M119.7 299.1h.6M119.6 304.9h.6M115.9 295.4h.6M112.7 309.8h.6M114.5 295.8h.6M111.9 288.7h.6M113 300.4h.6M113 294.1h.6M117.4 301.2h.6M113.3 300.3h.6M110.6 303.5h.6M110.6 296.5h.6M116.1 296.1h.6M109.8 310.7h.6M122.8 288.3h.6M116 291.1h.6M116.9 290.9h.6M118.2 301.6h.6M123.7 305.5h.6M113.2 304h.6M113.2 297.8h.6M113 288.2h.6M118.3 286.6h.6M114.2 301.6h.6M116 289.3h.6M112.2 302.5h.6M120.8 307.8h.6M106.5 301.2h.6M113 303h.6M107.2 297.7h.6M118.9 294.7h.6M113.6 292.8h.6M120.8 290.7h.6M110.9 296.6h.6M113.9 310.8h.6M116.7 293.6h.6M118.2 300.5h.6M116.8 298.1h.6M117.7 291.7h.6M109.5 296h.6M110 302.6h.6M124.9 305.7h.6M117.6 300.5h.6M112.1 290.9h.6M118.1 289.9h.6M116.9 297.7h.6M119.1 298.8h.6M115.9 295.1h.6M107 296.5h.6M118.8 304.6h.6M122.1 292.7h.6M110.8 302.6h.6M113.2 313.5h.6M116.9 289.6h.6M112.7 307.7h.6M106.5 299.4h.6M108.6 307.9h.6M113.2 292.5h.6M107.1 294.3h.6M102.9 295.7h.6M126.1 299.1h.6M114.1 291.7h.6M117.1 295.7h.6M111.3 306.6h.6M117.5 293.3h.6M122.6 298.2h.6M117.9 299.4h.6M121.2 302.1h.6M113.7 302.7h.6M113.5 299.3h.6M123.4 292.3h.6M110.3 296.2h.6M113 306.1h.6M107.6 311.9h.6M123.1 295.9h.6M116.3 296.4h.6M118.7 302.4h.6M119.1 303h.6M124.8 297.5h.6M118.8 297.4h.6M115.6 299.8h.6M115.1 300.5h.6M111.2 297.6h.6M112.4 291.7h.6M111.9 295.6h.6M114.7 289.4h.6M114.1 291.9h.6M111.4 299.6h.6M120.8 300.2h.6M113 295.9h.6M122 289h.6M121 289.7h.6M112.3 298.8h.6M114.3 308.2h.6M117.8 298.2h.6M120.1 298.7h.6M111.5 305.1h.6M122.7 306h.6M109.7 309.7h.6M113.4 303h.6M121.2 312.4h.6M107.5 292.5h.6M121.2 301.4h.6M113.9 281.4h.6M117.6 297.4h.6M102.6 314.2h.6M103.2 295.2h.6M115.4 299.9h.6M119.1 296.9h.6M111 296.4h.6M105.1 292h.6M125.1 294.5h.6M115 309.6h.6M120.6 299.2h.6M119 296.9h.6M111 304.4h.6M116.1 307.9h.6M114.1 296.3h.6M117.1 297.4h.6M113.9 293.3h.6M116.6 300.4h.6M124.4 298.3h.6M106.8 301.2h.6M126.6 295.9h.6M111.5 297.5h.6M101.4 296.5h.6M114.5 289.6h.6M118.2 293.4h.6M106.3 294.3h.6M118.5 309.8h.6M121.5 299.6h.6M112.9 297h.6M120.1 295.5h.6M117.4 304.2h.6M111 295h.6M117.6 298.5h.6M114.8 295.4h.6M115.1 309.4h.6M122.1 289h.6M115.6 299h.6M115.6 290.4h.6M114.8 299.4h.6M112.1 300.3h.6M103.4 289.7h.6M115.9 300.8h.6M114.6 295.8h.6M116.3 304.9h.6M119.8 298h.6M113.1 304.7h.6M118.1 303.7h.6M114 293.4h.6M116.3 294.8h.6M121 303.5h.6M104.7 302.4h.6M121.9 304.6h.6M113.1 293.4h.6M120.2 304.5h.6M115.7 291.7h.6M107.9 300.1h.6M111.3 294.5h.6M117.6 304.7h.6M105.3 294.6h.6M121.8 298.3h.6M113.7 302.3h.6M109.8 291.3h.6M115.5 307.7h.6M120.4 298.5h.6M120.4 296.1h.6M109.6 288.7h.6M116.7 303.8h.6M117.2 298.3h.6M113.4 304.9h.6M115.2 290h.6M122.1 294.7h.6M117.3 298.5h.6M120.6 300h.6M121.4 299.7h.6M113.1 295.5h.6M118.6 293.6h.6M120 297.1h.6M110.8 293.4h.6M114.7 308.9h.6M119.2 298.6h.6M111 309.7h.6M114 298.5h.6M113.3 306.3h.6M116.3 295.8h.6M116.3 292.6h.6M110.2 297.6h.6M101.3 305.4h.6M125.2 292h.6M114.7 289.2h.6M116.2 299.7h.6M119 290.7h.6M112.4 294.7h.6M114.2 311.9h.6M114.4 298.3h.6M112.9 303.2h.6M128 305.3h.6M122.9 292.2h.6M120.6 298.7h.6M121.5 304.7h.6M118.6 288.6h.6M116.1 295.6h.6M117.6 298.7h.6M120.6 289.1h.6M111.8 298.1h.6M117 296.1h.6M115.3 298.8h.6M120.5 297.8h.6M116.6 287.8h.6M102.5 289.9h.6M117.2 284.9h.6M117.4 297.9h.6M115.4 294.2h.6M113.3 303.4h.6M117.2 298.3h.6M113 299.7h.6M121.3 298.4h.6M113.6 291.6h.6M115.9 293.1h.6M108.3 303.6h.6M112.3 286.5h.6M111.9 309.4h.6M114.9 290.7h.6M110 302.7h.6M117.4 299.8h.6M114.4 301.4h.6M123 301.4h.6M114.6 290.3h.6M117.6 307.7h.6M118.6 291.1h.6M116.3 306.2h.6M112.3 301.4h.6M121.4 308.1h.6M107.6 288.2h.6M117.2 302.6h.6M113.7 298.4h.6M113.4 305.6h.6M104.5 300h.6M109.1 294.5h.6M107.9 293.1h.6M115.3 298.7h.6M124.2 297.2h.6M117.1 300.6h.6M116.7 307.2h.6M116.1 299.4h.6M114.8 298.5h.6M115.1 304.4h.6M115.5 298.9h.6M115.2 303h.6M113.1 304h.6M112.6 302.6h.6M124.9 299.9h.6M115 291.5h.6M119 298.6h.6M119.9 294.6h.6M118 309.2h.6M117.4 296.6h.6M109 298.4h.6M118.6 302h.6M109.9 292.4h.6M110.6 292.5h.6M114 300.1h.6M124.9 299.7h.6M122.6 288.7h.6M123 303.2h.6M117.6 303.4h.6M118.4 309.8h.6M119.4 288.2h.6M106.8 308h.6M115 306.3h.6M113.7 294.6h.6M113.7 300.4h.6M116.3 294.8h.6M118 302.2h.6M110.9 291.9h.6M105.7 296.7h.6M115.5 294.4h.6M112.4 297.7h.6M115.5 301.9h.6M119.5 301.1h.6M120.9 292.8h.6M118.4 300.7h.6M110.2 294.5h.6M117.6 298.9h.6M109.2 295.2h.6M122.9 303.5h.6M115.8 306.5h.6M110.9 297.5h.6M120.1 296.5h.6M109.9 302h.6M123.3 283.5h.6M116.2 291.1h.6M113.9 290.1h.6M128.2 294.5h.6M115.6 294.3h.6M110.5 295.8h.6M116.4 308.9h.6M116.8 307.8h.6M110.1 298.9h.6M113.2 289.2h.6M133.8 297.1h.6M116.6 294h.6M112.6 292.4h.6M120.5 296.1h.6M114.7 299.6h.6M109.3 299.9h.6M114.6 301.1h.6M113.5 298.7h.6M118 304.2h.6M112 304.3h.6M110.5 297.4h.6M116 299.4h.6M103.1 292.7h.6M114.5 304h.6M111.9 307.5h.6M106.5 299h.6M118.1 298.6h.6M116.7 304h.6M111.4 302h.6M120.7 297.1h.6M104 291.4h.6M111.2 292.2h.6M117.5 293.7h.6M127.7 301.9h.6M108.9 296.8h.6M123 302.5h.6M110.4 304.6h.6M113.1 311.6h.6M112.7 302h.6M118.2 295.9h.6M114.6 305.4h.6M117.9 298.1h.6M117.6 308.9h.6M120 301.3h.6M117 289.2h.6M116.1 295.6h.6M119 294.9h.6M117.6 292.3h.6M119.8 294.2h.6M115.3 301.9h.6M113.8 298.5h.6M120.6 309h.6M106.5 293.1h.6M118.7 304.1h.6M113.1 299.1h.6M114.4 312h.6M114.4 291.4h.6M107.7 290.9h.6M121.8 296.2h.6M125 302.3h.6M117.3 302.3h.6M119.3 304h.6M110.6 295.2h.6M112.7 299.1h.6M114.2 291.2h.6M112 309.1h.6M125.9 293.4h.6M117.3 298.3h.6M111.2 302.7h.6M115.1 308.4h.6M117.7 296.7h.6M102.3 297.9h.6M119.6 294.3h.6M119.8 302.5h.6M106.7 297.3h.6M117 303h.6M116.2 298.4h.6M113.7 296.8h.6M115.4 292.2h.6M118.6 296.6h.6M118 295.5h.6M117.4 299.3h.6M119.8 301.2h.6M120 297.5h.6M115.1 297h.6M109.2 297.8h.6M120.8 303.1h.6M111.2 300.3h.6M119.1 290.4h.6M117.1 300.5h.6M119.1 300h.6M106.8 286.6h.6M125.2 296.2h.6M121.7 306h.6M115.8 291.7h.6M120.8 278.3h.6M116.6 280.6h.6M118.7 283h.6M107 272.2h.6M114.7 278.5h.6M117.8 277.9h.6M113.1 287.5h.6M120.8 283.6h.6M119.1 275h.6M113.6 278.2h.6M108.6 274.6h.6M114.8 273.1h.6M116.7 280.6h.6M112.8 277h.6M117 280.6h.6M115.8 273.1h.6M106 287.6h.6M110.8 276.9h.6M105 275h.6M110.4 282h.6M100.9 272.3h.6M112 276.3h.6M110.2 276.5h.6M106.2 279.7h.6M119.9 279.2h.6M111.4 284.1h.6M116.4 273.9h.6M111.2 275.8h.6M113.8 283.9h.6M110.5 277.9h.6M114.6 273.2h.6M111.6 281.2h.6M119.6 270.2h.6M117.5 277.2h.6M120.4 281.3h.6M123.7 279.9h.6M112 274.8h.6M106.9 281h.6M116.5 282.1h.6M115.7 271.9h.6M112 277.4h.6M114.8 281.9h.6M121 279.8h.6M103.8 274h.6M103.5 275.1h.6M108.1 279.6h.6M112.9 283.4h.6M119.3 276.5h.6M118.7 278.6h.6M116.3 284.5h.6M108.3 278.2h.6M121.6 275.1h.6M115.1 279.1h.6M111.9 272.7h.6M110.6 274.2h.6M119.3 279.6h.6M117.5 273.3h.6M116.5 279.1h.6M119.2 275.3h.6M118 284.6h.6M122.9 274.4h.6M108.5 272h.6M118.8 281.1h.6M115.7 274.7h.6M120.2 285.6h.6M113.8 278h.6M119.9 280.7h.6M120.6 276.7h.6M115.7 277h.6M111.2 277.2h.6M112.6 280.7h.6M112.5 278.8h.6M110 273.1h.6M121.1 274.2h.6M123 282.6h.6M102.7 275.7h.6M111.9 278.6h.6M113.1 275.8h.6M120.2 277.9h.6M118.8 275.5h.6M110.6 284.4h.6M112.6 273.7h.6M113.2 283.1h.6M113.2 275.3h.6M117.1 282.8h.6M113 277.1h.6M112.2 290.4h.6M113.1 286.2h.6M113.3 280.3h.6M103.9 279.3h.6M114.3 277.1h.6M112 272.5h.6M106.7 279.2h.6M110.9 278.1h.6M113.1 276.3h.6M110.4 286.7h.6M108.6 276.3h.6M112.6 273.4h.6M109.3 282.3h.6M118.6 279.1h.6M130 282.1h.6M120.1 274.9h.6M119.4 285.9h.6M112.1 286.5h.6M110 273.5h.6M113.8 275h.6M117.2 273.6h.6M114.4 269.9h.6M113.9 283.1h.6M112.7 279.9h.6M119.4 273.7h.6M107.7 278.9h.6M115.4 277.3h.6M109.2 283.8h.6M108.3 277.4h.6M113.8 281.7h.6M111.8 274.9h.6M124 274.8h.6M118 277.8h.6M111.7 278.3h.6M112.8 279.9h.6M101.5 278.4h.6M114.4 274.2h.6M112.1 288.8h.6M123.1 281.3h.6M115.2 277.2h.6M120.9 276.5h.6M110 281.5h.6M109.2 275h.6M121.2 271.4h.6M113.7 279h.6M115.3 272.1h.6M112.9 277h.6M123.5 282.9h.6M110.3 282.3h.6M117.2 278h.6M112.8 277.3h.6M106.4 275.7h.6M118.6 284.9h.6M123.2 276.9h.6M117.1 267.9h.6M112.7 273h.6M118.1 271.2h.6M108.9 273.6h.6M116 282.2h.6M109.5 286.4h.6M114.8 274.8h.6M115.7 278.4h.6M118.1 280h.6M124.8 283.6h.6M110.9 282h.6M117.8 274.1h.6M110.3 275h.6M101.8 281.3h.6M113 283.9h.6M111.3 278.8h.6M117.6 282.8h.6M115.6 273.9h.6M124.9 282.3h.6M120.7 285.6h.6M121 280.3h.6M116.4 281.3h.6M106.6 282.1h.6M109.2 280.4h.6M109 281.6h.6M111.6 289.4h.6M115 280.7h.6M109.6 277.2h.6M113.7 277.2h.6M111.9 274.7h.6M117.8 276.8h.6M110 280.1h.6M110 277.7h.6M111.5 274.4h.6M112.9 274.9h.6M107.9 280h.6M112.6 272.1h.6M112.1 279.3h.6M116.1 280.1h.6M115.3 281.1h.6M111.6 275h.6M117.1 276.7h.6M114.1 281.4h.6M118.7 283.9h.6M110.6 276.9h.6M116.8 272.2h.6M107.8 281.2h.6M111 274.5h.6M118 280.8h.6M118.6 277.1h.6M112.6 277h.6M115.5 269.6h.6M110.6 281.6h.6M110.2 278.2h.6M114.7 280.8h.6M111.7 273.5h.6M126.3 275.4h.6M122.5 270.8h.6M114.6 277.6h.6M123.4 287.4h.6M118.9 274.1h.6M110.1 275.2h.6M111.5 279.6h.6M110.2 277.4h.6M121.3 284.8h.6M104.9 274.3h.6M112.2 284.2h.6M112.4 286.9h.6M115.8 284.8h.6M109.8 277.1h.6M119.1 281h.6M104.9 277.3h.6M114.9 281.3h.6M110.9 286.1h.6M114.8 284.8h.6M116 278.9h.6M112.5 273.4h.6M118.3 281.8h.6M118.6 276.9h.6M109.1 276.9h.6M112.5 278.5h.6M118.9 274.5h.6M111.7 281.5h.6M118.5 288.2h.6M116.6 274.8h.6M108.9 275.1h.6M114.4 279.6h.6M113.7 275.8h.6M113.1 278.2h.6M117 278.9h.6M110.1 273.4h.6M121.3 278.1h.6M113.2 278.4h.6M119.6 277.1h.6M114.9 277.5h.6M116.9 274.1h.6M115.1 283h.6M119.9 281.2h.6M115.5 285.4h.6M117.5 284.6h.6M108.2 273.7h.6M118 277.3h.6M111.9 274.4h.6M121.3 273.3h.6M114.6 272.4h.6M113.2 288.3h.6M126 276.4h.6M109.1 285.6h.6M109.9 270.7h.6M115.8 273.8h.6M107 283.4h.6M110.5 273.9h.6M114.9 277.7h.6M119.6 278.9h.6M121.9 283.5h.6M122.8 283.4h.6M114.4 280.9h.6M114.2 271.7h.6M108.3 281.7h.6M102.5 274.9h.6M107.8 278.2h.6M109 279.6h.6M113.1 276.5h.6M109.9 268.8h.6M114.4 272.9h.6M112.6 280.1h.6M119.2 281.6h.6M121.3 272.3h.6M117.4 285.3h.6M116 273.7h.6M108 285.5h.6M97.8 299.3h.6M102.4 280.3h.6M97.5 307.1h.6M95.9 295.9h.6M105.9 300.2h.6M101.4 281.8h.6M97.9 281.1h.6M129.5 291.7h.6M101 301h.6M110.6 288.4h.6M110.2 292.4h.6M115.2 304.4h.6M101.1 289.7h.6M102.4 300.7h.6M107.9 296.8h.6M113 284.5h.6M105.4 302.1h.6M113.2 297.1h.6M101.4 286.9h.6M95.8 287.7h.6M103.5 277.6h.6M115.5 283.4h.6M106.6 295.3h.6M98.8 274.3h.6M113.6 293.6h.6M101.7 299.9h.6M112.9 281.7h.6M103.4 274.7h.6M101.6 302.3h.6M96 297.2h.6M89.4 287.5h.6M113.4 305h.6M108.6 296.6h.6M121 268.8h.6M87.5 306.5h.6M128.2 295.2h.6M104.8 292.3h.6M104.4 284.7h.6M104 288.9h.6M110.7 295.9h.6M113.7 295.1h.6M94.7 302.1h.6M107.4 285.4h.6M122.4 280.5h.6M92.8 285.6h.6M108.2 296.9h.6M105.2 295.8h.6M97.3 284.8h.6M105.4 278.3h.6M106 286.6h.6M110.8 281.2h.6M99 285.1h.6M100.6 281.3h.6M101.6 278.3h.6M109.4 295.9h.6M104 288.4h.6M95.5 281.7h.6M102 282.2h.6M92.7 291.5h.6M104 286.5h.6M96.3 289.6h.6M97.4 286.3h.6M106 296.3h.6M111.5 284.7h.6M115.9 280h.6M102.5 301.4h.6M127.2 291.1h.6M100.7 286.8h.6M92.4 288.8h.6M100.1 283.5h.6M115.8 283.3h.6M120.6 297.3h.6M110.4 284.9h.6M99.2 272.7h.6M106.8 287.7h.6M107.9 284.2h.6M108.9 277h.6M83 294.2h.6M114.6 262.7h.6M116.6 287h.6M102.6 276.6h.6M94.5 296.2h.6M97 289.7h.6M102.7 307.3h.6M112.8 278.5h.6M99.5 280h.6M90.7 284.1h.6M114.8 290.4h.6M110.7 288.8h.6M100.1 290.7h.6M103.4 306.8h.6M121.5 293.3h.6M110 272.7h.6M103 310.8h.6M96.4 297.1h.6M115.9 286.6h.6M102 286.1h.6M111.8 290.2h.6M118.7 300.3h.6M104 312.6h.6M101.2 284.7h.6M101.9 282.4h.6M100.1 289.4h.6M112.7 276.3h.6M90.6 283.3h.6M101.2 294h.6M96.5 303.2h.6M99 288.1h.6M104.7 300.2h.6M107 290.2h.6M98.9 291.5h.6M108 287h.6M103.9 274h.6M99 300.3h.6M117.8 289.4h.6M83.3 306h.6M102.5 312.4h.6M100.2 298.8h.6M98.2 302h.6M115.3 280.7h.6M116.6 314.9h.6M102 279.5h.6M106.8 286.5h.6M89.7 280.9h.6M106.5 276.7h.6M114.5 293.9h.6M102.4 302.2h.6M95.2 296h.6M91.1 287.2h.6M110.3 285.3h.6M103 295.7h.6M118.8 301.4h.6M108.5 287.7h.6M90.2 305h.6M122.2 271.2h.6M112.5 289.6h.6M110.9 292.8h.6M102.2 290h.6M103.7 300.2h.6M101.6 285.3h.6M110.4 295.6h.6M108.3 292.5h.6M118.3 299.7h.6M106.1 288.2h.6M110.5 273.7h.6M99.1 283.8h.6M105.8 286.6h.6M127.8 296.5h.6M108 309.7h.6M104.1 287.2h.6M116 297.3h.6M113 300.6h.6M100.6 284.2h.6M97.2 290.9h.6M113.7 280.8h.6M99 278.3h.6M123.3 297h.6M106.2 279.4h.6M94.2 284.4h.6M104.4 278.9h.6M101.9 300.7h.6M104.2 290.9h.6M84 287.6h.6M102.7 283.9h.6M90.8 289.4h.6M94.3 285.2h.6M88.8 289.2h.6M112.8 282.6h.6M107.2 276.7h.6M109.7 294.8h.6M100.4 297.8h.6M95.7 290.4h.6M120.3 289.8h.6M93.3 300.1h.6M109.2 287.6h.6M86.6 273.5h.6M89.5 303h.6M106.9 282.5h.6M115.2 302.8h.6M96 294.2h.6M88.3 293.3h.6M121.5 277.6h.6M104.6 284.4h.6M103.2 290.8h.6M106.8 297.8h.6M109 299.2h.6M113.8 299.6h.6M97.6 293.6h.6M100.5 282.6h.6M122.9 292.6h.6M104.5 271.5h.6M101.9 296.8h.6M102.1 285.2h.6M118.2 287.3h.6M100.9 289.1h.6M101.8 299.2h.6M109.6 289.4h.6M100.6 288h.6M120.3 287.3h.6M110.4 276.2h.6M107.2 296h.6M116.3 292.8h.6M109.6 292.8h.6M114.3 308h.6M106 282.8h.6M109.8 289h.6M110.2 296.8h.6M105.6 286.1h.6M107 279.1h.6M106.7 282.2h.6M108.4 291.1h.6M102 279.4h.6M104.6 284h.6M102.7 296.1h.6M113.2 278.7h.6M113.1 302h.6M114.9 292.4h.6M103.2 305.3h.6M101 276.6h.6M105 292.5h.6M94.2 279.3h.6M123.1 291h.6M111.6 284.9h.6M89.6 288.4h.6M116.9 284.1h.6M87 288.5h.6M101.4 290.1h.6M94.1 287.3h.6M98.9 297.8h.6M105.6 297.7h.6M103.6 271.3h.6M85.4 294.7h.6M112.5 297.7h.6M103.4 274.3h.6M99.4 293.6h.6M117.3 287h.6M98.7 283.2h.6M113.9 297.6h.6M86.6 300.7h.6M95.3 277.1h.6M88.9 283.6h.6M126.3 312.4h.6M92.2 284.1h.6M105.6 293.7h.6M99.5 276.1h.6M100.2 284h.6M87 291.3h.6M90.1 274.7h.6M118.6 298.3h.6M118 291h.6M100.2 289.2h.6M91 296.5h.6M106.7 287.3h.6M86.2 289h.6M119.7 302.7h.6M112.5 286.9h.6M105.4 294.9h.6M106 299.2h.6M97.7 269.6h.6M90.9 295.8h.6M114.4 290h.6M109.3 290.7h.6M105.8 285.9h.6M100.2 300.5h.6M101.5 289.6h.6M115.6 298.7h.6M100.4 292.2h.6M94.4 291.2h.6M107.1 290h.6M105.7 293.2h.6M104.8 285.7h.6M94.9 287.9h.6M119.5 288h.6M97.9 285.8h.6M92.7 294.3h.6M94.7 298h.6M112.8 295h.6M114.1 289.3h.6M87.3 289.4h.6M110.2 276.4h.6M92.4 299.6h.6M108.3 301.9h.6M110.5 290.6h.6M108.2 297.5h.6M103.8 288.2h.6M107.1 287.2h.6M127.2 283.3h.6M89.6 278.6h.6M114.2 286.4h.6M105.6 288.1h.6M106.8 277.2h.6M104.9 285h.6M114.5 295.5h.6M92 281.5h.6M109.6 300.5h.6M111.5 288.7h.6M114.8 269.3h.6M99 281.4h.6M94.2 295h.6M106.8 292.5h.6M102.9 295.5h.6M111.7 285h.6M113.1 281.8h.6M121.1 278.5h.6M101.4 280.5h.6M104.5 301.6h.6M96.9 305.6h.6M117.7 293.4h.6M98.5 298h.6M113.4 289.7h.6M128.1 284.1h.6M91.3 288.1h.6M109.7 305h.6M87.1 291.4h.6M116.3 284.1h.6M99.7 279.3h.6M111.5 297.3h.6M109.8 292.2h.6M113.7 288.9h.6M111.1 297.2h.6M116.7 294.5h.6M105 296.2h.6M89.1 274.5h.6M119.8 291.2h.6M93.9 284.9h.6M102.7 290.6h.6M96.7 298.8h.6M87.6 314.8h.6M93.6 304.7h.6M110.6 275.1h.6M92.3 290.5h.6M106.8 286.3h.6M104.3 291.4h.6M93 290.5h.6M126.2 284.3h.6M94.3 295.9h.6M117.2 299.2h.6M98 289.3h.6M106.1 288.1h.6M108 299.6h.6M109.5 289.9h.6M102.2 305.8h.6M92.1 307.7h.6M111.3 290.8h.6M96.9 306.3h.6M116 298.1h.6M124.5 274.1h.6M105.1 287.3h.6M97 290.7h.6M109.4 294.7h.6M102.8 278.3h.6M109.6 295.4h.6M124.9 298.3h.6M104.3 279.8h.6M130.8 284h.6M113.2 314.2h.6M115 315.9h.6M106 310h.6M113.1 308.4h.6M108.5 316.1h.6M113.8 311.7h.6M108.7 312.1h.6M111.9 308.8h.6M116.7 308.2h.6M119.6 311h.6M98.6 307.4h.6M113.8 309.4h.6M122.8 316.1h.6M124.5 314.6h.6M120.1 310.2h.6M119.8 310.7h.6M111.8 308h.6M112.4 313.2h.6M111.7 308.7h.6M117.4 314.7h.6M111.6 314.3h.6M117.9 309.1h.6M111.9 306.5h.6M105.9 313.3h.6M106.9 313.2h.6M114.2 305.9h.6M109.2 316.5h.6M112.2 312.4h.6M107.9 307.2h.6M111 309.4h.6M112.7 306.2h.6M120.4 317.1h.6M107.6 313h.6M106.7 314.6h.6M107.1 311.6h.6M119.9 313.6h.6M110.1 307.5h.6M102.6 315.6h.6M115.1 312.2h.6M119.6 312.4h.6M107.7 311.7h.6M111.5 312h.6M127 313.7h.6M113.7 311.3h.6M108 309h.6M100.8 310.6h.6M103 306.5h.6M106.5 305.9h.6M120.3 315.7h.6M116 304.5h.6M112.2 309h.6M101.6 311.2h.6M119 313.3h.6M103.3 310h.6M107.5 315.4h.6M111.5 309.1h.6M106.6 306.1h.6M107 314.7h.6" stroke="#000" stroke-opacity="0.55" stroke-width="0.6" fill="none"/>
<ellipse cx="91.2" cy="278.8" rx="14.6" ry="9.6" fill="url(#gb)" transform="rotate(8 91.2 278.8)"/>
<ellipse cx="94" cy="298.3" rx="12" ry="7.6" fill="url(#gl)" transform="rotate(0 94 298.3)"/>
<ellipse cx="94.5" cy="298.3" rx="6" ry="4" fill="url(#gl)" transform="rotate(0 94.5 298.3)"/>
<ellipse cx="115.4" cy="298.6" rx="8.4" ry="11.4" fill="url(#gb)" transform="rotate(30 115.4 298.6)"/>
<ellipse cx="114" cy="278.2" rx="7.5" ry="6.5" fill="url(#gl)" transform="rotate(0 114 278.2)"/>
<ellipse cx="104" cy="285" rx="7" ry="9" fill="url(#gh)" transform="rotate(0 104 285)"/>
</g>
<rect x="80.6" y="259.2" width="59.6" height="59.4" fill="none" stroke="#a4a4a4" stroke-width="0.7"/>
<rect x="80.6" y="265.8" width="23.8" height="22.2" fill="none" stroke="#7c7c7c" stroke-width="0.55"/>
<rect x="80.6" y="288" width="23.8" height="22.3" fill="none" stroke="#7c7c7c" stroke-width="0.55"/>
<rect x="106.5" y="287.4" width="19.4" height="22.9" fill="none" stroke="#7c7c7c" stroke-width="0.55"/>
</g>
<g>
<clipPath id="dp331"><rect x="80.3" y="331.1" width="59.9" height="59.2"/></clipPath>
<g clip-path="url(#dp331)">
<ellipse cx="92" cy="353" rx="11" ry="11" fill="url(#gh)" transform="rotate(0 92 353)"/>
<path d="M81.1 350.7h.6M91 353.1h.6M85.4 353.5h.6M100.2 358.7h.6M82.7 349.9h.6M90.5 350.5h.6M86.2 353.3h.6M104.6 355.7h.6M86.4 347.8h.6M95.7 350.5h.6M87.4 354.7h.6M94.5 353.9h.6M90.7 354.9h.6M89.1 345.8h.6M91.6 344.7h.6M98.6 352.8h.6M82.4 350.7h.6M96.3 348.6h.6M93.9 347.8h.6M91.3 349.7h.6M94.3 346.3h.6M85.4 351.3h.6M88.8 352h.6M88.9 345h.6M95.7 351h.6M95.7 348.7h.6M89.7 354.8h.6M82.3 356.6h.6M94.5 349.8h.6M92.1 352.3h.6M87.4 351.1h.6M86.4 343h.6M92.7 350.4h.6M95.2 352.1h.6M95.5 353h.6M85.8 354.6h.6M106.4 347.8h.6M84.7 352.6h.6M96.7 353.9h.6M100.1 344.7h.6M93.7 351.8h.6M98.5 346.6h.6M91.8 348.6h.6M90.7 349.4h.6M90.8 343.3h.6M91.4 350.3h.6M89.5 336.5h.6M87.8 347.5h.6M86.8 356.1h.6M96.7 349.3h.6M94.9 362.6h.6M86.3 351.8h.6M88.3 355.7h.6M97.8 349.5h.6M95 347h.6M82.9 353.2h.6M100.7 348.8h.6M88.7 343.2h.6M103.5 345.4h.6M86.3 349.3h.6M98.3 350.2h.6M91.5 350.1h.6M96.3 349.9h.6M92.5 349.7h.6M85.5 355.1h.6M87.8 345h.6M89.2 350.1h.6M96.2 344.4h.6M84.6 350.7h.6M93.7 345.8h.6M85.3 350.7h.6M90.8 343.8h.6M86.8 355.7h.6M85.8 354h.6M83.1 355.7h.6M100.5 347.6h.6M87.8 352.4h.6M84.8 352.1h.6M98.4 351h.6M93.4 349.4h.6M97.2 346.9h.6M100.4 349.9h.6M89.8 343.8h.6M89.2 350.9h.6M98.5 343.8h.6M90.9 347.4h.6M85 350h.6M87.4 353.3h.6M81.1 342.6h.6M94.5 348.7h.6M92.3 346.3h.6M85.8 347.2h.6M91.3 346.8h.6M89.3 346.7h.6M92.9 345.7h.6M91.5 350.4h.6M96.9 347.2h.6M85.3 344.3h.6M95.8 347.6h.6M97.1 349.7h.6M90.1 342.9h.6M87.9 353h.6M88.2 352.6h.6M82.5 353.9h.6M107 354.3h.6M93.4 345.3h.6M88.7 347.5h.6M92.6 342.3h.6M86.8 353h.6M92.4 352.8h.6M96.3 345.6h.6M84.2 351.8h.6M91.8 350.3h.6M87.1 353.9h.6M94.3 354.4h.6M89.6 352.6h.6M91.3 346.4h.6M91.2 343.7h.6M90.6 350.7h.6M95.4 346h.6M84.3 347.2h.6M106 350.6h.6M87.4 347.4h.6M101.4 345.6h.6M91 349.7h.6M87.6 347.3h.6M82.3 346.8h.6M98.8 355.4h.6M90 352.7h.6M94.1 350.4h.6M90.8 354.6h.6M94.7 349.1h.6M90.3 353.6h.6M88.3 347.3h.6M90.1 348.1h.6M98.6 351.4h.6M91.1 348h.6M99.4 351.7h.6M103.1 353.5h.6M90.4 347.9h.6M90 350.7h.6M96 351.9h.6M100.3 344.2h.6M91.8 344.6h.6M85.9 347.7h.6M88 346.3h.6M83.2 354.3h.6M89.8 353.7h.6M85.5 341.2h.6M88.3 353.4h.6M88.5 351.5h.6M85.7 355.3h.6M94 354h.6M90.1 354.9h.6M92 348.1h.6M88.1 350.2h.6M86.6 345.4h.6M92.3 352.7h.6M90 353.2h.6M100.3 345.2h.6M93 346.3h.6M88 350.7h.6M96.2 352.1h.6M95.2 356.9h.6M89.6 354.2h.6M99.6 351.9h.6M81.8 349.4h.6M90 343.8h.6M91.3 352.9h.6M90.2 349.3h.6M99.7 347.7h.6M86.4 350.1h.6M97.8 352.3h.6M92 348.1h.6M98.4 353.4h.6M82 351.3h.6M95 347.6h.6M84.5 348.9h.6M81.9 352.1h.6M88.8 343.3h.6M91.5 354.5h.6M84.6 348.6h.6M101.6 350.7h.6M88.5 350.7h.6M95.9 346.2h.6M91.1 343.8h.6M82.9 344.1h.6M96.2 351.2h.6M95.6 354.6h.6M91.9 350.9h.6M93.8 351.8h.6M85.7 349h.6M90.8 350.1h.6M87.5 349.5h.6M93.2 350.7h.6M94.8 353.1h.6M94.7 353.7h.6M96.2 355.3h.6M95.1 347.6h.6M104.4 354.3h.6M98.5 352.8h.6M91.9 345.6h.6M94 348.6h.6M89.4 341.9h.6M100.1 345.5h.6M85.5 351.8h.6M94.7 347h.6M91.6 351h.6M92.5 352h.6M95.9 348.6h.6M82.7 358.2h.6M89.5 346.2h.6M95.7 352.2h.6M88.2 359h.6M91.4 351.2h.6M93.4 349.1h.6M93.4 345h.6M89.4 357h.6M96.4 348.4h.6M88.4 344.3h.6M90.9 349.3h.6M88.1 344h.6M92.5 351.6h.6M97.9 352h.6M100 354.6h.6M91 346h.6M94 353.7h.6M83 345.3h.6M95.4 347.9h.6M99.6 350.8h.6M88.6 344.9h.6M94.9 343.4h.6M84.4 345h.6M101 356.5h.6M90.4 348.5h.6M95.5 354.7h.6M87.1 358.4h.6M90.5 354.3h.6M87.7 357.6h.6M90.4 345.1h.6M102.4 347.4h.6M91.6 345.2h.6M95.3 350.7h.6M90 348.5h.6M88.4 347.3h.6M83.8 354.6h.6M96.5 344.7h.6M85.2 351.5h.6M104.1 349.2h.6M89.9 349h.6M93 349.3h.6M97.6 353.7h.6M94.6 356h.6M90.3 347.9h.6M108 342.6h.6M83 341h.6M93.6 345.9h.6M97.5 342h.6M90.8 348.5h.6M85.6 354.3h.6M89.4 351.7h.6M88.7 350.6h.6M89.1 350.3h.6M91 347.4h.6M94 349.3h.6M86.2 346h.6M94 355.1h.6M84.4 348.4h.6M94.1 354h.6M95.5 345.5h.6M91.8 353.4h.6M92.9 349.1h.6M85.1 350.6h.6M91.2 350.1h.6M99.9 354.5h.6M87.2 350.9h.6M89.9 350.4h.6M100.6 353.5h.6M91.8 347.5h.6M90.7 351.4h.6M88.8 354.2h.6M91.7 345.5h.6M102.9 338.9h.6M90.1 349.5h.6M97.1 354.2h.6M99.6 355.9h.6M93.3 350.4h.6M97.2 349.9h.6M84.6 348.3h.6M95.3 352.3h.6M85.5 354.6h.6M93.3 344.3h.6M94.2 353.8h.6M94.5 348.8h.6M87.2 354.3h.6M92.8 350h.6M89.4 346.1h.6M81.2 348.7h.6M97.7 352.9h.6M87.8 355.8h.6M90.3 346.2h.6M97 355.3h.6M89.4 345.3h.6M91.2 340.7h.6M91.9 355.8h.6M93.1 347.2h.6M95.5 348.1h.6M98.6 348.6h.6M102.9 348.7h.6M92.7 346.4h.6M84.5 351.3h.6M93.5 346.3h.6M94.7 348.4h.6M88.5 349.7h.6M93.8 352.8h.6M98.4 351.5h.6M87.6 347.4h.6M93.6 345.4h.6M90.7 348.5h.6M91.1 350.7h.6M97.3 356.2h.6M96.5 353.8h.6M85.7 353.9h.6M98.8 344.8h.6M105.5 347.8h.6M92 346.9h.6M88.4 354.1h.6M93 348.6h.6M98 346.4h.6M86.9 347.9h.6M87.5 352.6h.6M90.3 346h.6M89.1 342.4h.6M92.5 350.4h.6M95 349.1h.6M93.8 346.4h.6M91.7 350.6h.6M84.9 352.2h.6M92.4 350.2h.6M89 357.6h.6M91.6 347.1h.6M86.9 352.2h.6M90.4 347h.6M87.6 353.6h.6M92.1 354h.6M91.5 345.5h.6M96.4 351.2h.6M88 348.8h.6M86.2 353.2h.6M89.3 351.8h.6M93 349h.6M93.6 349.1h.6M85.1 348.4h.6M85.1 352.9h.6M95.2 347.8h.6M95 350.9h.6M97 346.4h.6M91.7 346.2h.6M87.8 355.2h.6M94.3 352.9h.6M87.3 342.3h.6M82.1 351.4h.6M97.7 353.4h.6M87.6 355.1h.6M90.6 352.3h.6M90.5 356h.6M88.7 341.8h.6M89.9 350.7h.6M93.1 347.3h.6M90.3 345.7h.6M90.3 350.3h.6M92.9 356.2h.6M94 345.6h.6M92 350h.6M86.1 352.7h.6M102.1 352.6h.6M95.9 354h.6M90.9 353.7h.6M87.2 350.7h.6M95.5 355h.6M90 348.9h.6M94.2 349.7h.6M92.4 353h.6M87.4 353.3h.6M93.7 349h.6M84.7 347.6h.6M91.4 353.6h.6M92.7 345.7h.6M96.3 351.5h.6M94 346.3h.6M85.5 353.4h.6M99.3 351.4h.6M90.5 348.3h.6M82.2 353.7h.6M91.1 354.7h.6M87.7 354h.6M87.7 352.2h.6M99.1 347.3h.6M96.6 350h.6M86.5 350.8h.6M95.1 347.3h.6M90.1 347.9h.6M87.4 349.2h.6M96.1 348.1h.6M98.4 348.6h.6M87.8 354h.6M98.1 354.7h.6M94.8 353h.6M90.9 355.7h.6M95.3 352.6h.6M90.5 354.6h.6M92.9 352.7h.6M87.2 366.8h.6M93.3 351.8h.6M95.8 352.4h.6M85 362.8h.6M97.5 354.1h.6M88.2 358.6h.6M100.5 359.1h.6M95.1 352.9h.6M85.4 358.3h.6M96.5 357.5h.6M92.5 361.8h.6M89.2 360.8h.6M95.8 354.8h.6M93 357.4h.6M94.8 353.6h.6M91.6 357.3h.6M92.6 357.1h.6M93.5 356.3h.6M90.5 360.6h.6M90 355.9h.6M89 353h.6M94.3 356.9h.6M92 358.6h.6M91.8 359.3h.6M99.6 358.2h.6M91.5 362.7h.6M95.3 351.3h.6M97.8 357.7h.6M95.9 353h.6M89.2 354.8h.6M94.7 353.1h.6M89.7 360.3h.6M90 357.4h.6M89 351.1h.6M92.2 356.6h.6M86.9 360.4h.6M95.7 360h.6M90.5 353h.6M92.1 357.6h.6M91.8 355h.6M88.6 354.5h.6M92.2 355.3h.6M99.1 356h.6M94.3 355.4h.6M91.8 353.6h.6M90.6 351.8h.6M84.3 361.6h.6M88.3 358.5h.6M92 355h.6M95.4 355.1h.6M94.2 355.7h.6M96.3 360.3h.6M92.8 360.8h.6M94.5 362.3h.6M92 351.7h.6M93.3 357.8h.6M91.1 356.3h.6M91.4 352.7h.6M99.2 354.3h.6M88.3 351.6h.6M89.2 356.9h.6M98.3 359.1h.6M89.6 352.7h.6M88.1 356.7h.6M95.9 355.3h.6M98.8 363.6h.6M93.1 349.6h.6M96.8 356.7h.6M95.1 360.4h.6M88.5 357.2h.6M93.2 354.4h.6M95.2 356.6h.6M90.9 363.4h.6M93.1 362.6h.6M91.9 360.6h.6M89.5 357.5h.6M96.7 349.5h.6M94.6 356.1h.6M96.8 357.6h.6M92.2 352.6h.6M104 354.5h.6M91.2 354.5h.6M91.3 357.7h.6M87.3 360.6h.6M91.5 359h.6M84.2 355.2h.6M91.3 355.7h.6M89.9 358.1h.6M94.1 353.6h.6M84.8 359.5h.6M91.2 360.7h.6M95.9 356.6h.6M86.9 355.8h.6M89.6 361.2h.6M85.9 360.1h.6M86.5 355h.6M87 354.6h.6M90.8 358.3h.6M90.2 359.3h.6M99.3 357.5h.6M88 356.4h.6M92.1 355.8h.6M97 360.9h.6M100.3 358.8h.6M82.1 356.5h.6M95.1 354.2h.6M90.1 360.1h.6M93 353.1h.6M90.2 346.4h.6M92.5 352.8h.6M92.3 352.9h.6M88.9 355.2h.6M103.3 352.9h.6M87.8 355.1h.6M96.6 372.3h.6M95.2 367.4h.6M93 365.4h.6M91.8 365.2h.6M86.8 364.4h.6M100 370.5h.6M89.5 368.3h.6M90.7 374.2h.6M92.4 366h.6M95.1 370.2h.6M89.8 365.4h.6M93 361.6h.6M88.9 373.2h.6M95.8 373.7h.6M90.7 366.2h.6M91.4 366.7h.6M97.5 367.8h.6M97.7 365.7h.6M93.9 375.9h.6M89.6 365.9h.6M90.1 361.7h.6M91.3 365.9h.6M101.1 366.7h.6M84.1 372.9h.6M96.2 368.6h.6M93.6 371.9h.6M90.3 369h.6M93 376.1h.6M98 369.5h.6M87.2 372.7h.6M92.2 373.9h.6M92.7 369.6h.6M95 365.6h.6M89.9 378.9h.6M89.1 372.9h.6M95.1 372.4h.6M97.8 362.9h.6M96.2 359.7h.6M92.7 370.3h.6M96.5 373.6h.6M88.8 367.6h.6M91.8 365.7h.6M89.3 365.9h.6M96.9 374.8h.6M95.4 376.2h.6M92.8 364h.6M89.9 369.7h.6M96.5 374.1h.6M89 373h.6M90.4 371.4h.6M96 375.3h.6M90.4 369.9h.6M94.1 366.9h.6M92.8 371.4h.6M86 365.9h.6M101.4 370.8h.6M90.3 360.7h.6M88.7 371.1h.6M95.1 370.8h.6M94.8 366.1h.6M98.7 363.8h.6M94.4 367.6h.6M85.8 372.8h.6M91.4 371.9h.6M97.4 369.5h.6M89.9 367.8h.6M92.2 375.2h.6M95.8 375.8h.6M95.4 365.4h.6M96.1 373.1h.6M92 370.8h.6M91.2 363.2h.6M92.1 372.2h.6M91 358.9h.6M89.3 373.6h.6M93.3 373.7h.6M89.5 366.9h.6M88.5 365.4h.6M94.4 369.4h.6M90.6 370.1h.6M87.4 367.1h.6M86.6 362.2h.6M87.2 363.9h.6M98.6 374.9h.6M97.3 366.2h.6M94.9 363.8h.6M90.3 369.9h.6M86.2 369.7h.6M94.8 359.6h.6M82.9 367.6h.6M92 369.4h.6M88 371.3h.6M92.9 365.6h.6M98.8 369.9h.6M95.3 377h.6M90.5 367.8h.6M85.7 367.8h.6M94.1 379.9h.6M94.6 369.7h.6M87.5 365h.6M85.2 362.7h.6M92.9 370.1h.6M88.9 367.8h.6M89.3 371.5h.6M94.9 366.3h.6M90.7 363.4h.6M90.6 378.5h.6M92.4 372.6h.6M94.7 375.3h.6M91.2 364.8h.6M96.5 372.9h.6M89.9 373.7h.6M92.4 368.6h.6M99.6 371.2h.6M93.7 367.4h.6M93.2 373.5h.6M94.2 365.4h.6M94.2 368.3h.6M93.6 367.9h.6M83.9 361.6h.6M90.9 359h.6M86.6 377.8h.6M95.1 366.7h.6M93.7 358.8h.6M93.4 373.2h.6M93.2 363h.6M96.2 366.4h.6M90.2 369.7h.6M91.3 377.9h.6M91.9 378.4h.6M94.2 363.3h.6M92.4 369h.6M98 374.5h.6M102.4 365.8h.6M90.7 379.2h.6M88.9 370.4h.6M98.7 364.3h.6M91.1 365.5h.6M94.5 370.6h.6M92.3 371.7h.6M89.4 367.1h.6M94.3 377.8h.6M92.3 369.1h.6M97.6 369.1h.6M97.5 369.9h.6M96.9 369.6h.6M88.8 365h.6M94.1 377.2h.6M99.7 367.4h.6M102.2 363.8h.6M89.1 373h.6M86.5 372.9h.6M93.9 371.6h.6M87.7 370.5h.6M96.1 368.6h.6M96.5 368.9h.6M93.8 367.4h.6M87.1 368.1h.6M94.4 365.4h.6M84.8 361.9h.6M97.6 367.8h.6M89.4 374.3h.6M91.8 362.1h.6M90.7 364.8h.6M91.7 364.7h.6M92.7 370.9h.6M90.2 367.9h.6M91.8 372.5h.6M89.6 372.2h.6M97.3 367.9h.6M88.6 367.4h.6M85.5 366.4h.6M87.8 368h.6M91 371.1h.6M92.9 370.7h.6M92.3 370.1h.6M88 371.8h.6M97.5 373.8h.6M87.2 370.7h.6M86.1 372.2h.6M91.6 366.7h.6M89.5 367.7h.6M92.4 364.5h.6M92.7 370h.6M94.5 368.6h.6M92.4 379.2h.6M96.4 370.3h.6M87 371.6h.6M94.7 356.9h.6M91.8 370.5h.6M92.6 369.2h.6M91.8 375h.6M93.9 367.5h.6M91.5 378.2h.6M89.1 366.4h.6M93.7 369.5h.6M93.6 374.9h.6M96.9 370.7h.6M92.6 368.5h.6M91.5 373.3h.6M87.5 364.1h.6M90.6 364.5h.6M89.6 374.2h.6M83.6 371.4h.6M87.3 367.7h.6M90.2 364.3h.6M86.6 369.1h.6M90.9 373.7h.6M99.7 367.5h.6M89.3 367.5h.6M94.3 373h.6M88.7 370.9h.6M92.3 373.9h.6M90.8 367.9h.6M89.1 362.8h.6M93.5 372h.6M96.9 370h.6M90.6 364.7h.6M87.9 365.5h.6M93.8 369.2h.6M83.4 368.3h.6M91.3 364.1h.6M92.4 371.2h.6M88.4 362.7h.6M91.2 370h.6M91.4 375.8h.6M93 364.3h.6M95.5 365.9h.6M95.2 369.2h.6M97.3 364.3h.6M95.3 370.7h.6M88.9 372h.6M101.4 370.4h.6M89.4 368.1h.6M97.6 370h.6M98.3 365.9h.6M97.6 361.7h.6M91.8 367.5h.6M90.5 374.3h.6M90.1 370.4h.6M99.8 372.5h.6M90.8 365.5h.6M84.5 370.5h.6M96 373.8h.6M93.4 378.5h.6M95.5 358.4h.6M89 372.4h.6M90.9 372.6h.6M102.6 365.4h.6M101.2 368.4h.6M86.6 369.2h.6M96.1 366.2h.6M98.7 364.9h.6M91.7 373h.6M91.6 366.3h.6M92.4 371.8h.6M99.3 374.9h.6M99.9 368.7h.6M85.9 368.6h.6M90.8 364.3h.6M90.4 368.5h.6M92.7 372.9h.6M88.8 374h.6M92.7 372.1h.6M97.4 363.2h.6M98.8 365.6h.6M94.1 373.7h.6M96.1 361.8h.6M93.1 373.9h.6M115.6 369.3h.6M116.2 375.4h.6M114.4 366.3h.6M112.7 367.7h.6M115.3 370.8h.6M115.7 363.6h.6M111.3 372h.6M118.2 364.9h.6M118.8 361.1h.6M122.9 371.7h.6M111 371.4h.6M115.9 368h.6M114.9 368.8h.6M115.7 366.4h.6M114.3 371.6h.6M117.6 364.9h.6M114.5 375.1h.6M118.1 375.4h.6M111.9 366h.6M109.5 362.8h.6M114.9 365.9h.6M112.7 367.2h.6M115.4 372.5h.6M117.7 363.4h.6M120.5 368.4h.6M113 369.5h.6M114.8 364.7h.6M120.7 367.6h.6M114.2 371.5h.6M121 371.3h.6M113.3 371.1h.6M119.3 370.9h.6M117.9 367.9h.6M115.8 363.7h.6M113.8 365.6h.6M116 374.8h.6M109.2 365h.6M113.2 369.3h.6M119.5 366.9h.6M113.6 373.9h.6M117.1 371.5h.6M118.5 367h.6M116.7 367.3h.6M113.8 370.1h.6M117.3 365.1h.6M113.7 371.7h.6M116.5 371.9h.6M115.1 366.8h.6M118.3 371.7h.6M107.5 372.6h.6M113.7 371.9h.6M120.7 368.6h.6M113.1 370.5h.6M116.3 371.6h.6M111.8 370.5h.6M118.7 372.1h.6M117.9 373.8h.6M113.5 373.9h.6M116.6 366.1h.6M115.1 370.6h.6M117 374.3h.6M116.6 367.8h.6M122.6 368.4h.6M113.5 372.9h.6M114.7 366.8h.6M112.8 373.8h.6M112.8 370h.6M114.6 368.9h.6M113.5 370.1h.6M117.8 373.3h.6M114.9 365.5h.6M111.5 369.6h.6M108.5 374.3h.6M116.1 370h.6M111.8 367.3h.6M113.8 372h.6M114.8 371.8h.6M117.5 362.9h.6M115.3 374h.6M114.5 370.1h.6M115.6 365.3h.6M122.6 369.1h.6M117.9 368h.6M120.2 373.7h.6M119.6 373h.6M118.1 374.5h.6M117.2 370.1h.6M118.4 366.5h.6M108.4 372.5h.6M116.5 367.2h.6M115.2 366.3h.6M113.5 370.3h.6M116.4 372.5h.6M115.7 371.8h.6M118.1 367.2h.6M110.9 367.2h.6M115.2 367.8h.6M122.7 367.2h.6M117.4 367h.6M118.1 365.2h.6M118.9 370.3h.6M114.8 365.4h.6M121 367.6h.6M120.3 361.2h.6M112.4 376h.6M121.4 369.7h.6M119 371.8h.6M114.9 370.1h.6M112.5 364.9h.6M116.4 372.2h.6M116.5 365.3h.6M118.6 369.9h.6M118.3 368.6h.6M115.2 373.3h.6M120.1 365.4h.6M112.7 373h.6M117.1 369.8h.6M113.1 373.2h.6M116.6 370.4h.6M117.2 367.8h.6M117.2 370.1h.6M118.2 371h.6M112.1 367.2h.6M115.2 373.7h.6M114 373.6h.6M119.2 372.7h.6M122.8 369.6h.6M117 373.9h.6M117.2 373.1h.6M115.6 374.6h.6M117.1 363h.6M119.3 369h.6M113.3 368.6h.6M115.2 373.6h.6M117 369.4h.6M116 366.5h.6M114.1 368h.6M115.3 365.6h.6M114.8 373.1h.6M117.4 369.6h.6M117 368.8h.6M112.4 372.7h.6M122.8 371.4h.6M118.1 378.2h.6M112.4 371.5h.6M115 368.7h.6M111 369.4h.6M117.2 364.1h.6M115.3 367.9h.6M113 371.9h.6M120.9 371.1h.6M119.1 372.3h.6M115.8 371.7h.6M120 368.2h.6M115.6 364.8h.6M110.4 366.8h.6M118.7 370.9h.6M116.8 374.2h.6M110.7 374.5h.6M116.3 372.4h.6M120.2 366.8h.6M113.4 371.1h.6M115.8 367.6h.6M115.6 367.1h.6M116.4 368.3h.6M121.1 366h.6M117.7 369.9h.6M120.8 366.3h.6M114.6 375.7h.6M114 368.3h.6M114.8 366.2h.6M119.7 374.9h.6M115.5 367h.6M111.9 371.9h.6M114.4 371.6h.6M108.7 368.2h.6M117.9 371.1h.6M107.4 370.7h.6M116.4 369.6h.6M115 368.1h.6M116.4 371.4h.6M106.5 369.6h.6M118.8 368.9h.6M119.7 366.4h.6M121.8 373h.6M114.8 379.2h.6M120.3 375.1h.6M112.4 369.3h.6M117.4 373.3h.6M116.2 365.1h.6M119.7 369.1h.6M117.3 368.5h.6M115.7 364.9h.6M118 367.5h.6M110.7 371.1h.6M115.9 373h.6M118.5 365.4h.6M115.5 369.6h.6M116.3 366h.6M116.2 373h.6M114.8 353.2h.6M112.4 340.5h.6M107.2 346.8h.6M94 353.4h.6M113.2 348.5h.6M110.4 350.1h.6M107.5 352.9h.6M117.8 351.1h.6M105.8 349.3h.6M113.5 350.8h.6M105.2 351.6h.6M112.2 350.4h.6M106.5 348.5h.6M99 348.4h.6M106.4 347.6h.6M107.2 347.5h.6M109 348.8h.6M105.5 348.1h.6M108.1 350.1h.6M110.8 347.4h.6M104.5 343.3h.6M102.3 349.8h.6M104 353.6h.6M107.8 347.3h.6M107.8 346.8h.6M105.4 348.7h.6M101.3 349h.6M108.1 345.7h.6M113.8 349.7h.6M114 346.4h.6M102.4 344.8h.6M100.7 342.6h.6M116.5 347h.6M109.6 346.8h.6M107.9 353.5h.6M99.9 345.4h.6M109.3 345.7h.6M112.1 352.6h.6M113.1 350.9h.6M107.8 351.7h.6M104.6 344.8h.6M107.3 347.7h.6M114.7 345.4h.6M114.3 346.1h.6M102.3 343.2h.6M108.4 344h.6M109.7 348.7h.6M106.6 342.4h.6M106 349.9h.6M99.7 350.7h.6M108.7 346.8h.6M109.6 350.6h.6M108.5 346.1h.6M112.5 346.4h.6M110.4 351.6h.6M115.2 353.6h.6M113.7 349h.6M107.6 349.1h.6M111.2 358h.6M111.9 345.9h.6M116.2 343.5h.6M113.6 344.5h.6M103.1 346.9h.6M107.2 344.3h.6M111.7 348.2h.6M115.3 345.3h.6M99.5 350.7h.6M107.5 351.6h.6M96.9 344.6h.6M109.1 354.7h.6M102.4 342.5h.6M106.3 353h.6M116.5 344.2h.6M105.5 342.7h.6M104.4 345.5h.6M110.7 352.1h.6M120.6 347.4h.6M112.7 349.2h.6M109.2 354.6h.6M112.1 353.5h.6M102.7 369.7h.6M104.6 361.2h.6M93.7 358.5h.6M100.1 358.6h.6M96.9 355.8h.6M107.8 359.9h.6M98.9 360.1h.6M111.8 357.3h.6M112.7 354.4h.6M113.8 367.5h.6M95.6 366.1h.6M110.3 353.6h.6M98 364.8h.6M98.1 359.5h.6M100.2 364.8h.6M107 375.2h.6M97.1 388.2h.6M97.1 377.9h.6M98.9 349.1h.6M96.1 359h.6M109.7 344.1h.6M94.3 360.9h.6M105.9 365.6h.6M107.7 360.6h.6M97.9 372.8h.6M115.5 365.4h.6M101.4 354.4h.6M119 365.6h.6M105.6 347.8h.6M105.5 383.7h.6M98.6 360.2h.6M113.8 360.4h.6M107.6 379.3h.6M89.5 354.7h.6M106.1 363.1h.6M100.4 360.6h.6M101.2 365.2h.6M95.7 359.6h.6M102.1 352.4h.6M104 342.5h.6M105.8 361h.6M89.5 374h.6M89.5 380.4h.6M93.5 372.8h.6M99.5 376.4h.6M98 371.2h.6M97.2 345.3h.6M103.5 366.3h.6M103.6 376.9h.6M93.4 349.3h.6M102.3 355.9h.6M99.1 362h.6M92.7 371.8h.6M99 378h.6M102.3 371.5h.6M97.4 356.2h.6M95.3 354.2h.6M104.1 363.3h.6M90.4 348.3h.6M92.3 345.8h.6M92.1 348.5h.6M106.4 351.7h.6M94.8 361h.6M100.3 365.8h.6M106.9 367.8h.6M97 373.2h.6M103.4 355.7h.6M113.4 351.5h.6M104.3 373.2h.6M101.1 365.1h.6M101.1 368h.6M102 362.1h.6M106.3 345.1h.6M102.3 359.3h.6M117.6 364.6h.6M94.2 367.9h.6M96.6 351.5h.6M97.5 366.5h.6M110.7 371.4h.6M102.1 360.6h.6M101.8 372.8h.6M98.9 372.4h.6M93 361.9h.6M106.9 368.3h.6M101.8 357.4h.6M84 358.1h.6M92.5 358.4h.6M114.1 355.2h.6M107.6 361.9h.6M90.2 363h.6M106.7 351.5h.6M89.7 358.6h.6M106.5 356.7h.6M103.8 366.1h.6M100.2 366h.6M111.3 360.3h.6M102.9 352.5h.6M93.6 361.1h.6M107.3 356h.6M87.7 370.3h.6M121.1 339.1h.6M90.6 363.1h.6M104.4 353.6h.6M103 371.8h.6M97.6 368.5h.6M101.2 353.7h.6M94.6 356.6h.6M111.8 372.3h.6M102.2 348.1h.6M95.7 358.5h.6" stroke="#000" stroke-opacity="0.55" stroke-width="0.6" fill="none"/>
<ellipse cx="91.6" cy="350" rx="10.6" ry="6.5" fill="url(#gb)" transform="rotate(4 91.6 350)"/>
<ellipse cx="92.5" cy="368.8" rx="5.5" ry="5.8" fill="url(#gl)" transform="rotate(0 92.5 368.8)"/>
<ellipse cx="116" cy="369.4" rx="3.9" ry="6.6" fill="url(#gb)" transform="rotate(40 116 369.4)"/>
<ellipse cx="108.6" cy="348.5" rx="6" ry="4" fill="url(#gh)" transform="rotate(0 108.6 348.5)"/>
</g>
<rect x="80.3" y="331.1" width="59.9" height="59.2" fill="none" stroke="#a4a4a4" stroke-width="0.7"/>
<rect x="80.3" y="339.8" width="21.3" height="18.8" fill="none" stroke="#7c7c7c" stroke-width="0.55"/>
<rect x="80.3" y="361.6" width="22.9" height="19.9" fill="none" stroke="#7c7c7c" stroke-width="0.55"/>
<rect x="106.2" y="360.7" width="19.7" height="24.5" fill="none" stroke="#7c7c7c" stroke-width="0.55"/>
</g>
<g>
<clipPath id="dp395"><rect x="80.6" y="395.3" width="58.8" height="59.3"/></clipPath>
<g clip-path="url(#dp395)">
<ellipse cx="93" cy="425" rx="13" ry="17" fill="url(#gh)" transform="rotate(0 93 425)"/>
<ellipse cx="112" cy="427" rx="11" ry="16" fill="url(#gh)" transform="rotate(0 112 427)"/>
<path d="M81.2 415.5h.6M93.2 409.7h.6M89.3 413.6h.6M101.6 418.6h.6M95.8 416h.6M84.7 419.7h.6M88 407.1h.6M95.6 414.1h.6M91.6 417.9h.6M90.4 417.4h.6M98.6 414.2h.6M89.7 415.7h.6M95.1 413.8h.6M92.1 412.6h.6M91.2 418h.6M87.2 414.8h.6M83.8 412.5h.6M92 418h.6M86.1 415.2h.6M86.6 417h.6M93 417.6h.6M90.5 409.3h.6M88.6 409.7h.6M88 415.4h.6M97.4 412.7h.6M87.5 416.5h.6M83.3 420.1h.6M96.9 419.9h.6M91.1 418.9h.6M89.8 419.9h.6M88.1 412h.6M93.7 413.6h.6M95.2 411.8h.6M93.1 411.3h.6M91.1 425.1h.6M85.8 410.1h.6M83 414.6h.6M100.3 413.6h.6M96.6 414.8h.6M88.2 424.5h.6M97.4 407.5h.6M86.4 417.4h.6M95.1 414.6h.6M93.3 418h.6M89.7 420h.6M87.1 419h.6M96.5 416.5h.6M89.8 415.5h.6M84 406.7h.6M95.7 411.6h.6M93.5 415.8h.6M82.2 411.6h.6M90.2 417.7h.6M92 410h.6M88.8 416.1h.6M84.8 413.7h.6M88.7 406.2h.6M100.8 419.5h.6M89.1 419.8h.6M86 422.4h.6M89.6 416.2h.6M88.5 416h.6M93.4 415.7h.6M87.2 419h.6M94.6 415.6h.6M97.2 412.3h.6M98.4 414.9h.6M99.7 413.6h.6M90.3 416.5h.6M97.4 422h.6M89.2 412.4h.6M95.7 421.1h.6M95.4 414.1h.6M98.4 415.5h.6M92.5 418.4h.6M88.6 405.6h.6M92.8 418.8h.6M93.9 418h.6M92.5 420.2h.6M92.2 422.2h.6M91.9 419.1h.6M88.7 416.9h.6M93.9 416.2h.6M99.8 415.8h.6M97.6 417.2h.6M97.4 411.6h.6M89.7 419.9h.6M87.3 417.3h.6M94.6 416.5h.6M93.9 418h.6M90.4 417.4h.6M88.9 413.6h.6M83.2 415.1h.6M82.6 415.7h.6M92.7 410.8h.6M92 416.9h.6M89.7 411.6h.6M91 417.4h.6M96.5 424.2h.6M81.1 417.1h.6M93.9 412.8h.6M93.3 424.9h.6M92.2 421.7h.6M97.3 413.6h.6M99.8 407.8h.6M90.6 412.5h.6M92.7 415.9h.6M97.7 413h.6M101.9 408h.6M92.8 427.5h.6M91.1 418.4h.6M89.1 430.3h.6M96.4 414h.6M81.4 416.5h.6M95.5 406.5h.6M89 418.1h.6M83.1 409.6h.6M93.8 420.7h.6M97.8 412.7h.6M94.3 407.7h.6M83.7 418h.6M89.5 411.1h.6M81.7 414.6h.6M103.5 406.6h.6M86 420.6h.6M81.4 412.8h.6M92 420.6h.6M91.2 423.7h.6M91.4 415.1h.6M94 417.2h.6M83.6 411.4h.6M90.4 417.1h.6M85.1 412.4h.6M87.6 417.1h.6M89.3 418.3h.6M93.7 411.5h.6M90 410.1h.6M92.2 419.2h.6M86.3 407.7h.6M94.4 414.3h.6M91.5 417.7h.6M93.6 419.7h.6M89.2 405.8h.6M89 414.2h.6M89.4 417.4h.6M90.3 421.4h.6M88.2 415.6h.6M89.7 425h.6M86.5 411.1h.6M89.6 419h.6M91.7 414.8h.6M83.8 406.3h.6M90.5 414.5h.6M101 417.3h.6M93.9 419.9h.6M86.8 410.1h.6M89.6 422.2h.6M96.9 413h.6M84.9 419.8h.6M97.5 410.7h.6M100.2 412.1h.6M95.6 414.7h.6M89.8 412.9h.6M95.3 418.4h.6M95.9 414.3h.6M87.1 425.2h.6M100.8 414.7h.6M85.4 422.3h.6M92.3 415.9h.6M96.2 417.2h.6M92.2 424.5h.6M81.5 418.5h.6M86.3 415.9h.6M90.7 416.8h.6M104.1 413.8h.6M96.5 418.4h.6M93.2 413.4h.6M95 416.8h.6M99.4 419.3h.6M87.8 402.5h.6M99.7 417.8h.6M92.5 412.9h.6M105.1 421.6h.6M92.1 414h.6M94.7 421.7h.6M94.4 419.8h.6M93 417.2h.6M84.8 416.2h.6M91.9 415.3h.6M90.3 417h.6M88.5 414.7h.6M84.5 426h.6M86.8 410.2h.6M88.7 413.7h.6M85.8 404.7h.6M100.5 420.2h.6M89.5 418.1h.6M85.6 408.3h.6M93.4 418.2h.6M87.9 415.6h.6M97.3 416.4h.6M92.6 418.2h.6M84.7 416.7h.6M88.2 407.1h.6M96.4 414.8h.6M97 424.6h.6M82.6 409.9h.6M97.5 421.9h.6M93.8 417.2h.6M95.4 418.5h.6M84.7 418.9h.6M97 413.8h.6M86.6 413.4h.6M88.4 418h.6M95.8 415.7h.6M89.9 407.7h.6M89.3 411.1h.6M88.6 417.1h.6M92.5 431.3h.6M86.8 413.2h.6M85.3 414.5h.6M90 420.1h.6M95.1 413.3h.6M87.9 416.5h.6M94.4 414.9h.6M90.7 415.7h.6M85.7 416.8h.6M94.7 415.8h.6M85.4 415.6h.6M91 417h.6M89.3 419.3h.6M97.5 419.3h.6M92.9 421h.6M91.4 414.9h.6M83.8 415.7h.6M98.2 411.3h.6M95.8 409.9h.6M93.2 423.7h.6M91.8 410.4h.6M93.2 415h.6M95.9 413.3h.6M82.1 413.5h.6M94.8 420.2h.6M93.1 415.7h.6M95.3 414.7h.6M89.1 416.6h.6M97.6 413.4h.6M94.3 412.8h.6M87.6 416.4h.6M84.3 411.8h.6M85.1 412.9h.6M86.6 425.9h.6M94.9 415.9h.6M84.3 405.1h.6M94 412.8h.6M97.3 413.9h.6M84.4 412.8h.6M83.2 409.4h.6M95.5 413.3h.6M95.3 413.1h.6M90.3 413.2h.6M88.6 412.7h.6M99.7 415.4h.6M98.4 420.6h.6M91 414.9h.6M88.9 416.2h.6M94.1 415.6h.6M87.1 411.4h.6M100.7 423h.6M84.8 412.8h.6M91.3 418.2h.6M90.9 416.7h.6M93.5 420.6h.6M84.4 420.4h.6M94 418h.6M83.3 414.6h.6M90.1 418.4h.6M95.3 418.6h.6M84.5 421.1h.6M91.9 419.7h.6M91.5 412.5h.6M105.9 418.5h.6M95.7 413.6h.6M90.3 420.5h.6M94 423.3h.6M98.1 410.9h.6M83.1 420.7h.6M94.8 414.5h.6M89.9 413.2h.6M101.4 414.9h.6M84 419.6h.6M91.1 417.2h.6M89.4 415.4h.6M81.2 418h.6M87.8 414h.6M93.3 421.2h.6M94.5 420h.6M86.5 417h.6M93.7 419.7h.6M88.1 414.8h.6M88.7 420.6h.6M97.5 413.7h.6M90.8 416.6h.6M86.6 415.1h.6M96.3 419h.6M87.8 412.8h.6M90.9 409.3h.6M93.2 416.1h.6M84.2 414.6h.6M87.9 414.5h.6M86.7 421.5h.6M86.2 418.9h.6M92.6 421.9h.6M91.2 415.6h.6M91.9 407.5h.6M104.7 414.7h.6M89.8 410.8h.6M90.8 422.6h.6M87.4 417.5h.6M97.2 419.7h.6M89.3 408.1h.6M93.7 418.1h.6M89.7 413.8h.6M101.1 408.8h.6M88.7 413h.6M82.9 412.7h.6M87.1 421h.6M81.9 409.7h.6M92.9 409h.6M84.9 411.5h.6M90.6 417.6h.6M88 414.5h.6M95.4 415h.6M95.5 413.1h.6M94.2 421.1h.6M83.9 428.5h.6M89.7 414.2h.6M90.6 417.6h.6M84.9 415.8h.6M88.3 421.8h.6M82 418.4h.6M89.8 412.5h.6M92.2 414.6h.6M91.7 416.7h.6M98.1 413.9h.6M100.7 404.1h.6M101.5 420.8h.6M100.1 416.5h.6M93.1 411.3h.6M98.8 410.7h.6M87.1 415.7h.6M92.8 417.1h.6M85.1 414.2h.6M94.2 420.7h.6M95.7 417.4h.6M90.1 413.3h.6M88.7 415.3h.6M94.4 413.5h.6M102.8 411.4h.6M96 414.8h.6M90.7 414h.6M99.9 414.4h.6M94.5 416.2h.6M95.6 418.2h.6M100.6 412.5h.6M87 422.9h.6M98.5 416h.6M89.9 416.7h.6M98.6 412.4h.6M99.5 415.4h.6M89.5 414h.6M84.3 413.3h.6M86.6 416.7h.6M95.5 415.8h.6M92.5 417.4h.6M100.3 418.1h.6M100.1 415.4h.6M93.4 412.9h.6M94.8 412h.6M94.1 413h.6M89.6 420.8h.6M92.3 419h.6M90.2 407.7h.6M99.6 414.9h.6M87.9 419.7h.6M85.3 412.5h.6M97.8 412.7h.6M97.7 414.4h.6M90.3 416h.6M88.8 420.2h.6M97.5 416h.6M94.8 418h.6M100.7 408.9h.6M97.1 419.5h.6M89.8 415.7h.6M89.6 420.9h.6M85.2 418.2h.6M98.5 418.1h.6M88.9 413.7h.6M97.5 411.7h.6M82.5 414.6h.6M83.3 417.6h.6M86.7 419.7h.6M90.9 409.7h.6M87.3 412.9h.6M86.9 420.9h.6M86 417.2h.6M88.3 418.2h.6M83.7 409h.6M94.3 421.7h.6M83.9 414.3h.6M88.7 411.7h.6M96.8 415.9h.6M83.9 414.8h.6M98.8 412.7h.6M88.7 412.2h.6M92.4 413.3h.6M96.4 412.2h.6M83.5 417.6h.6M93 416.7h.6M88.3 413.8h.6M94.4 431.5h.6M87.1 414.9h.6M89 418h.6M91.6 418h.6M100.5 414.5h.6M89.9 417.3h.6M103 414.2h.6M100.8 420.7h.6M86.1 417.4h.6M98.8 415.9h.6M92.4 424.9h.6M93.5 424.8h.6M86.6 422.7h.6M88.7 405.4h.6M87.5 433h.6M92.2 437.6h.6M96.6 436.7h.6M88 441.5h.6M99.7 434.9h.6M89.1 434.6h.6M91.2 432.1h.6M92.4 432.3h.6M96.4 432.3h.6M95.4 436h.6M93.5 436.7h.6M86.4 444.5h.6M88.4 437.5h.6M92.6 433.1h.6M102.9 438.9h.6M90.9 436.9h.6M96.6 440.7h.6M98.6 434.1h.6M91 430.4h.6M94.1 438h.6M90.2 437.3h.6M93.3 433h.6M85.2 439h.6M107.7 436.8h.6M86.1 430.9h.6M94 437.2h.6M101.6 425.6h.6M103.6 435.4h.6M93.3 436.2h.6M90.4 433.7h.6M98.8 428.2h.6M91.8 436.9h.6M82.7 434.2h.6M101.7 436.2h.6M96.8 437.4h.6M93.9 436.1h.6M87.7 434h.6M103.6 430.1h.6M91.5 430h.6M89.3 431.8h.6M85.2 435.7h.6M86.9 436.8h.6M103.4 425.1h.6M91.5 426.8h.6M91.8 436.2h.6M93.8 439.3h.6M93.5 428.2h.6M101.6 431.2h.6M92 436h.6M87.3 435.1h.6M101.5 428.4h.6M82.6 433.1h.6M91.5 429.9h.6M94.9 429.7h.6M96 434.5h.6M93.5 429.7h.6M91.2 436.6h.6M82 430.8h.6M98.4 442.3h.6M96.5 434.5h.6M86.1 433.2h.6M91 436.4h.6M91 444.2h.6M100.5 426.4h.6M85.5 434.7h.6M98.5 436.3h.6M100.7 437h.6M107.9 437.8h.6M95.3 440.6h.6M89.9 432.7h.6M86.5 435.7h.6M95.2 438.3h.6M101.3 437.1h.6M100 433.8h.6M86.8 437.5h.6M98.7 439.9h.6M91.6 433h.6M90.4 436.1h.6M92.3 434h.6M94.1 433.6h.6M94.6 432.5h.6M83.3 433.6h.6M103.9 431.6h.6M98.1 439.9h.6M89.3 435.7h.6M101.8 435.5h.6M88.1 435.2h.6M94.3 433.2h.6M90.7 431.6h.6M96 435.5h.6M94.7 432.8h.6M95.6 433.6h.6M94.4 434.1h.6M88.6 430.5h.6M81.4 429.5h.6M95.4 447.2h.6M82.7 431.6h.6M92.5 448.4h.6M91.4 430.3h.6M95.1 442.7h.6M100 430.3h.6M92 432.3h.6M97.2 429.1h.6M94.5 435.6h.6M96 436.4h.6M93.5 427.9h.6M90.6 431.1h.6M95.8 433.8h.6M93.5 439h.6M91.9 441.2h.6M97.6 429h.6M89.1 439.4h.6M89.6 439.3h.6M89.2 434.3h.6M98.8 428.6h.6M93.1 433h.6M93.6 441.3h.6M95.5 429.5h.6M98.4 433h.6M93.6 439.2h.6M90.7 438.4h.6M93.7 431.2h.6M90.7 429.5h.6M99.7 435.3h.6M98.4 430.4h.6M97.7 430.1h.6M94.3 434.7h.6M89 435.9h.6M92.8 431.4h.6M88.1 429.7h.6M100.8 435.3h.6M90.4 437.4h.6M87.4 430.2h.6M94.7 440.8h.6M94.4 435.3h.6M103.1 428.7h.6M111 430.5h.6M92.2 429.5h.6M85.3 433.8h.6M107.3 431.1h.6M88.9 435.8h.6M86.5 433.7h.6M97.5 426.3h.6M90.8 433.6h.6M89.5 434.3h.6M81.8 433h.6M89.5 430.7h.6M100.2 442.5h.6M97.4 431.4h.6M101.1 436.6h.6M87.7 437h.6M89.1 436.9h.6M98.1 439.2h.6M86.3 434.2h.6M92.6 430h.6M95.1 437.4h.6M84.3 432.6h.6M86 429.8h.6M86.2 440h.6M88.6 433.2h.6M98.5 438.7h.6M101 426.7h.6M97.1 427.9h.6M88.8 433.1h.6M89.2 442.3h.6M91.6 439.3h.6M91.5 434.5h.6M95.7 436.4h.6M95.6 428h.6M95.6 435.9h.6M96.2 434.5h.6M95.1 429.6h.6M99.4 430h.6M101 438.6h.6M92.2 433.6h.6M97.3 433.5h.6M85.5 435.8h.6M85.3 432.9h.6M103.4 437.8h.6M89.9 434.4h.6M88.7 434.7h.6M83.9 437.4h.6M92.7 432.3h.6M88.9 444.9h.6M89.9 432.8h.6M89.1 432.8h.6M100.5 437.3h.6M95.1 436.1h.6M85.8 425.3h.6M101.7 437.5h.6M93.9 435.8h.6M93.8 434.8h.6M91 426h.6M96 434.9h.6M98.5 435.9h.6M90.9 437h.6M93.7 433h.6M90.3 433.1h.6M90.8 433h.6M98.5 446.1h.6M91.9 439.1h.6M89.8 434.1h.6M88.1 429.4h.6M87.5 432.7h.6M93.5 433.4h.6M85.4 433.3h.6M101.7 431.3h.6M93 438.6h.6M87.8 432.5h.6M110 439.5h.6M89.4 435.3h.6M93.2 435.3h.6M95.4 433.5h.6M93.5 429.4h.6M90.7 440.5h.6M94 432.1h.6M93.4 438.8h.6M82.3 429.8h.6M88.6 433h.6M92.1 432.4h.6M93.2 435h.6M85.6 432.3h.6M85.2 435.8h.6M94.2 437.2h.6M87.3 432.6h.6M82.9 436h.6M99.1 436.4h.6M96.4 435.6h.6M94.8 438.3h.6M100.2 442.5h.6M91 437.9h.6M97.8 436.4h.6M94.2 429.8h.6M99.1 431.3h.6M88.7 431.4h.6M96 430.9h.6M95.3 436.9h.6M93.2 433.4h.6M96.2 439.8h.6M89.8 430.6h.6M89 431.3h.6M91.2 434.1h.6M87.7 433h.6M86.5 435.6h.6M97.7 427.7h.6M93.9 440.6h.6M90.9 438.3h.6M94.5 431.1h.6M98.5 432.3h.6M94.7 433.1h.6M91.3 435.3h.6M100.5 428.2h.6M85.9 435.1h.6M98.4 434h.6M91.5 436.7h.6M102 431.2h.6M83 433.6h.6M97.2 429.6h.6M99.3 438.3h.6M97.3 431.4h.6M84.9 437.2h.6M94.2 437.4h.6M84.5 423.2h.6M99.3 438.6h.6M90.9 434.7h.6M95.3 437.6h.6M91.5 432.7h.6M86.8 438.7h.6M93.2 421.5h.6M94.7 432.5h.6M85 432.7h.6M84.9 433h.6M89.3 436.7h.6M86.5 427.6h.6M89 429.4h.6M97 433.9h.6M82.6 431.3h.6M92.4 434.5h.6M81.6 434.2h.6M94.4 438.5h.6M99.2 434.2h.6M84.8 433.2h.6M96.5 431.1h.6M100.1 431h.6M85.9 437.9h.6M92 435.9h.6M90.8 434.8h.6M89.1 442h.6M96.5 434.2h.6M95.4 437.9h.6M89.4 435.4h.6M93.8 432.5h.6M88 433.9h.6M90.8 433.1h.6M96.5 435h.6M102.9 438h.6M90.5 432.1h.6M95.6 433.3h.6M82.9 435.2h.6M90.8 433.8h.6M96.3 435.4h.6M104.7 431.8h.6M92 435.9h.6M90 432.7h.6M103.1 429.1h.6M94.7 427.9h.6M94.6 427.3h.6M85.6 439.1h.6M101.8 435.2h.6M94.1 430.4h.6M90.5 429.6h.6M92 434.4h.6M93.3 437.7h.6M88.7 426.2h.6M85.6 429.8h.6M90.4 433h.6M92.3 440h.6M92.8 430.5h.6M90.8 431.3h.6M91.2 436.9h.6M85.8 437.4h.6M103.3 440.6h.6M102.3 435h.6M84.5 442.4h.6M92.3 435.6h.6M90.5 431.1h.6M96.3 429.3h.6M84.4 436.8h.6M90.4 431.5h.6M95.6 440.2h.6M90.9 434.2h.6M95.9 438.3h.6M98.8 437.3h.6M88.6 436.7h.6M92.6 428.2h.6M100 436.9h.6M100.8 434.4h.6M96.9 434.4h.6M93.6 438.2h.6M92.9 437h.6M92.4 439.4h.6M96.5 428.3h.6M102.5 436.4h.6M89.5 432.3h.6M104.5 435h.6M95.6 437h.6M89 441.4h.6M105.2 431.7h.6M99.4 428.4h.6M90.6 434.9h.6M92.9 436.9h.6M95 436.1h.6M91.8 435.9h.6M89.3 442.3h.6M93 439.5h.6M93.2 434.1h.6M91.5 429.7h.6M105 436.3h.6M93.4 432.9h.6M100.2 433.4h.6M89.9 432.6h.6M101.8 435.9h.6M91.7 432.2h.6M100.3 435.8h.6M90.6 438.1h.6M97.8 430.9h.6M99.5 438.9h.6M91.2 429.6h.6M99.1 433.4h.6M91.4 433.6h.6M91 437.9h.6M86.1 436.7h.6M99.5 438.7h.6M96.9 435.7h.6M91.5 434.2h.6M87.4 441.1h.6M91.9 430.8h.6M97.6 440.5h.6M94.3 433.5h.6M86 437.2h.6M91.2 432.2h.6M96.2 429.8h.6M97 425.4h.6M89 429.3h.6M91.2 437.8h.6M84.9 439.9h.6M88.6 432.9h.6M98.5 431.9h.6M101.3 433.9h.6M92.1 431h.6M99.4 434.5h.6M89.8 431.1h.6M88.9 434.3h.6M88.4 437.7h.6M92.4 432.4h.6M95.4 440.1h.6M99 435.2h.6M97.5 428.8h.6M88.2 438.5h.6M92.1 434.9h.6M96.4 436.1h.6M95.3 432.8h.6M90.9 439.7h.6M89.8 429.2h.6M90.6 438.1h.6M103.2 435.3h.6M89 437h.6M94.5 439.2h.6M95.7 437.6h.6M95.7 436.3h.6M87.3 434.1h.6M102.1 439.8h.6M98.4 436.2h.6M92 436h.6M90.8 438.8h.6M90.9 431.8h.6M83.2 440.6h.6M88.3 431.4h.6M95.1 441.5h.6M96.6 433.4h.6M96 431.6h.6M91.2 434.8h.6M92.8 437.7h.6M95.9 441.9h.6M97.6 433.6h.6M94.2 431.5h.6M89.2 433.4h.6M98.7 432.1h.6M83.6 430.9h.6M85.7 434h.6M91 430.3h.6M88.1 433.1h.6M95.1 437h.6M100.5 433.7h.6M96.4 435h.6M86.4 432.3h.6M105.5 434.1h.6M121.8 437.7h.6M121.9 433.7h.6M118.5 433.2h.6M109 429.8h.6M116.2 428h.6M115.9 431h.6M115.8 429h.6M118.1 433.5h.6M107 428.7h.6M114.5 427.9h.6M115.7 436.3h.6M111.1 440h.6M120.9 435.7h.6M116.3 436.3h.6M113 439.6h.6M111.7 424.4h.6M114.3 436.2h.6M118 430h.6M120.6 431.2h.6M117.1 437.3h.6M115 438.9h.6M111.9 442.5h.6M116.5 432.7h.6M126.3 434.4h.6M106.7 440h.6M121.4 432.1h.6M109.6 438.9h.6M114.5 430.6h.6M112 434.7h.6M118.8 440.6h.6M111.3 440.5h.6M107.2 437.2h.6M113.5 436.1h.6M112.2 431.6h.6M115.5 438.9h.6M103.9 434.6h.6M112.3 430.2h.6M107.9 436.5h.6M116.8 437h.6M105 428.4h.6M111.3 432.7h.6M122.4 432.9h.6M114.8 438.4h.6M122 435.9h.6M115.8 442.1h.6M112.3 427.3h.6M110.7 433.2h.6M120.3 435.7h.6M119.8 434.8h.6M114.4 432.1h.6M108.5 436.4h.6M115.9 436.7h.6M111.7 432.7h.6M116 436.8h.6M123.4 430.9h.6M118.8 437.9h.6M113 435h.6M113.9 440.5h.6M126 435.7h.6M113 438.2h.6M116.5 433.7h.6M117.7 437.9h.6M112.4 437.8h.6M103.8 429.3h.6M112.8 435h.6M107.4 440.3h.6M112.4 435h.6M114 437.4h.6M111.5 437.4h.6M110.4 428.5h.6M116.6 435.1h.6M118.3 426.7h.6M114.7 431.9h.6M113.3 432.8h.6M112.5 431.8h.6M118.9 427.6h.6M106.4 435.8h.6M123.5 431.4h.6M110 429.8h.6M109.5 439.4h.6M117.4 438h.6M115.8 435.3h.6M111.5 430.6h.6M117.1 444.3h.6M112.5 439.5h.6M110.9 434.6h.6M122.1 434.1h.6M117.2 432.2h.6M122.9 429.5h.6M116.8 433.5h.6M115.1 435.9h.6M120.3 437.9h.6M119.1 435.9h.6M109.2 439.8h.6M121.3 436.3h.6M117.9 433.5h.6M107.5 438.3h.6M110.8 442h.6M117.4 434.3h.6M111.3 434.8h.6M109.5 432.9h.6M121.6 433.2h.6M122.7 434h.6M116.1 430.7h.6M112.8 432.6h.6M107.7 442.1h.6M116.9 434.1h.6M109.1 434.5h.6M109.3 430.5h.6M113.3 443h.6M106.1 436.6h.6M111.7 422.8h.6M107.6 433.9h.6M114.5 431.4h.6M122.4 436.5h.6M111.3 427.8h.6M115 431.7h.6M118.9 430.2h.6M119.7 432.6h.6M115.1 433.3h.6M117.1 439h.6M111.7 430.8h.6M123 438.2h.6M123.1 438.2h.6M114.8 440.9h.6M111.1 432.7h.6M112.3 437.1h.6M110.2 433.7h.6M110.2 433.5h.6M119.4 438.9h.6M113.1 444.6h.6M110.9 436.2h.6M111.9 425.5h.6M108.6 439.4h.6M106.5 446.1h.6M113.6 435.5h.6M120 434.5h.6M111.2 432h.6M109.8 436.6h.6M112 436.5h.6M107.2 432.7h.6M123.8 435.9h.6M113.7 439.2h.6M115.4 440.6h.6M108.7 437.5h.6M109.2 437.1h.6M125.6 440.5h.6M110.2 436.1h.6M116.3 431.5h.6M115.3 430.1h.6M118.7 438.1h.6M113.4 437.2h.6M125.3 433.8h.6M105.4 435.8h.6M112 431.3h.6M118.4 438.4h.6M116.9 441h.6M111.2 432.7h.6M116.1 423.6h.6M101.4 435.8h.6M113.1 434.6h.6M109.7 435.3h.6M119.1 431.9h.6M116.8 433.8h.6M113.4 434.9h.6M121.2 436.5h.6M117.3 435h.6M104.1 438.2h.6M114 434.8h.6M111.8 428.2h.6M121.1 441.8h.6M121.5 427h.6M116.7 429.7h.6M113.3 432.3h.6M111.2 431.3h.6M111.9 437.5h.6M121.6 438.1h.6M114.1 433.8h.6M113 434.3h.6M111.2 433.7h.6M118.1 433.5h.6M110.3 433.9h.6M114.5 434.1h.6M112.9 437.2h.6M113.9 430.4h.6M116.8 431.5h.6M117.7 437.7h.6M116.4 435.6h.6M107.8 433.6h.6M114.7 437h.6M108.8 433.8h.6M106.9 435.1h.6M114.5 434.9h.6M121.8 437.4h.6M113.2 432.1h.6M112 437.6h.6M118.4 432.4h.6M113.5 432.7h.6M117.3 435.2h.6M110.7 430.8h.6M120.2 428.8h.6M105.6 422h.6M123.6 432.2h.6M118.1 436.7h.6M118 439h.6M111.9 434.3h.6M118.7 436.6h.6M110.5 431.4h.6M107.3 435.5h.6M111.6 428.2h.6M111.5 435.7h.6M114.9 433.5h.6M114.9 437h.6M108.4 431.1h.6M118.7 437.4h.6M107.5 431.5h.6M120.9 437.4h.6M113.4 438.5h.6M120.5 440.1h.6M107.5 429.2h.6M111.7 434.2h.6M112.4 435.4h.6M121.1 438.8h.6M118.8 434.4h.6M121.9 436.3h.6M115.2 434.3h.6M105.4 443.1h.6M114 438h.6M124.8 433.6h.6M108.6 438.5h.6M115.2 430.6h.6M118.6 434.5h.6M109.6 424.3h.6M109.4 435.9h.6M109.2 438.3h.6M124.5 435.7h.6M115.2 434.1h.6M118.2 434.5h.6M119 440.1h.6M118.1 430.6h.6M117.2 433.4h.6M115.6 438.3h.6M111 435.2h.6M121 431.1h.6M113.2 437.3h.6M113 438.5h.6M109.3 428.4h.6M115.9 433.9h.6M115.6 438.3h.6M119.1 433h.6M112.3 426.7h.6M109.5 435.4h.6M115.1 428.5h.6M117.8 434.3h.6M119.3 433h.6M118.7 430h.6M105.3 431.2h.6M117.4 436.1h.6M105.1 435h.6M117.3 441.1h.6M117.8 436.5h.6M106.6 435.9h.6M104.8 433.2h.6M112.3 430.5h.6M109.3 433.9h.6M116.8 431.8h.6M115.5 437.3h.6M114 442h.6M112.6 431.5h.6M105.1 438.7h.6M117.3 433.7h.6M115.6 433.9h.6M118.2 434.4h.6M115.2 434.1h.6M109.9 425.6h.6M116.7 429.4h.6M116 437h.6M123 431.4h.6M114.8 438.2h.6M110.9 432.1h.6M116.2 442.6h.6M119.2 438.2h.6M109.5 437h.6M119.5 429.4h.6M114.1 433.6h.6M117.1 427.5h.6M117.4 434.4h.6M112.8 426h.6M104.2 432.3h.6M117.2 436.1h.6M117.6 427.7h.6M115 439.8h.6M106.7 437h.6M110.6 436.6h.6M114.6 427.9h.6M109.1 439.5h.6M113.6 439.3h.6M115.7 438h.6M112.2 435.3h.6M112.3 438h.6M111.3 438.8h.6M121.5 429.6h.6M113.3 436.6h.6M122.5 439h.6M114.5 427.5h.6M118.1 432.1h.6M115 436h.6M107.4 438.6h.6M118.4 436.7h.6M116.9 435.8h.6M107.4 432.4h.6M117.9 433.1h.6M114.2 435.9h.6M114.5 435.4h.6M116.4 434.4h.6M108.8 433.3h.6M118.6 431.7h.6M116.3 435.6h.6M109.9 423.2h.6M114 431.3h.6M111.1 438.1h.6M110.4 435.8h.6M114.6 435.2h.6M123.5 426.6h.6M118.6 433.8h.6M112.7 431.8h.6M114.3 434.6h.6M109.7 440.9h.6M110.5 433.9h.6M108.1 435h.6M115.8 438.7h.6M118.7 432.4h.6M121.7 434h.6M121.4 441.2h.6M112.2 430.2h.6M116.6 440.1h.6M116 438.7h.6M116.9 437.9h.6M120.3 433.2h.6M107.4 433.9h.6M110.3 429.7h.6M113.3 437.2h.6M105.3 428.4h.6M117.9 430.9h.6M112.2 439.8h.6M119.4 435.8h.6M116.6 423.6h.6M116.7 435.9h.6M107.5 435.1h.6M116.2 433.9h.6M117.8 437.9h.6M114.3 433.4h.6M108.5 438.9h.6M111.4 435.7h.6M121.3 437.5h.6M108 434.1h.6M110.7 427.9h.6M110.3 436.7h.6M115.7 433.6h.6M114.9 429.8h.6M110.4 433.7h.6M117.8 433.1h.6M113.3 435.7h.6M121 429.4h.6M116.6 435.1h.6M113.7 435.4h.6M104.7 434.5h.6M112.9 429.5h.6M118.1 433.9h.6M112.4 437.4h.6M109.7 431.6h.6M118 437.9h.6M123.6 432.6h.6M107.2 428.5h.6M108.4 434.8h.6M112.9 431.7h.6M109.3 431.7h.6M112.3 439.1h.6M117 439.8h.6M117.9 437.4h.6M119.6 436.2h.6M121.3 438.9h.6M122.6 435.3h.6M110.4 444.3h.6M112.7 436.5h.6M112.3 431.7h.6M116.1 430h.6M113.3 440h.6M114.6 437.6h.6M117.1 435.9h.6M114.6 436.8h.6M109.5 436.7h.6M109 431.4h.6M111.3 429.1h.6M104.7 435.9h.6M116.4 437h.6M124.5 435.1h.6M117.6 431.5h.6M117.4 429.9h.6M123.4 430.6h.6M108.8 418.6h.6M100.3 420.9h.6M106.2 416.4h.6M115.4 416.2h.6M115.2 413.6h.6M113.5 407h.6M117.9 413h.6M106.6 415.7h.6M118.8 412.8h.6M110.6 414.2h.6M106.3 410.4h.6M113.5 418.4h.6M107.2 416.5h.6M112.9 417.1h.6M109.9 415.8h.6M112 411.4h.6M110 418.7h.6M108.1 420.8h.6M109.6 411.3h.6M109.3 410.3h.6M113.6 409.3h.6M110.8 414.7h.6M109.3 417.3h.6M112.1 413.4h.6M114.6 413.8h.6M115 420.9h.6M112.5 419.3h.6M104.4 417.8h.6M103.7 414.9h.6M114 405h.6M107 412.6h.6M106.3 415.7h.6M113.7 411h.6M107.8 408.3h.6M107.4 407.3h.6M103.6 417.5h.6M114.9 412.4h.6M112.4 412.5h.6M115.8 422.5h.6M99.1 412.2h.6M107.7 413.7h.6M118.1 421.8h.6M110.6 418.1h.6M103.2 414.4h.6M109.4 415h.6M112.1 409.4h.6M105.8 424.1h.6M102.5 415.8h.6M114.2 417.5h.6M111 409.2h.6M108.5 409.4h.6M120 417h.6M114.2 416.4h.6M108.9 420.3h.6M114.9 418.1h.6M113.5 418.5h.6M109.4 417.3h.6M111.1 414.6h.6M113.8 424.1h.6M101.1 421.3h.6M108.6 420.4h.6M105.9 414.9h.6M115.6 415.3h.6M112.4 410.8h.6M105.3 422.2h.6M111.5 415.3h.6M104.2 411.5h.6M105.8 415.4h.6M110.2 413.2h.6M107.5 416h.6M116.2 410.1h.6M104 420.1h.6M103.9 414h.6M111.3 422.8h.6M101 404.1h.6M110.3 419.8h.6M111.4 412.4h.6M111.6 407.5h.6M114.6 421.5h.6M109.7 418.8h.6M105.7 421.4h.6M107.6 412.4h.6M107.1 408.6h.6M113.9 423.5h.6M103.9 414.8h.6M112.8 413.4h.6M103.3 416.9h.6M115.5 416h.6M105.6 414.4h.6M101.6 415.4h.6M116.5 420h.6M110.3 417.3h.6M108.2 416.1h.6M107.9 416.3h.6M108.3 416.4h.6M114 415.5h.6M104.6 417.6h.6M109.5 413.6h.6M113.4 412.3h.6M115.1 417.8h.6M107.4 412.8h.6M110.1 412h.6M115.2 406.7h.6M111.4 414.2h.6M105.5 418.1h.6M108.4 417.4h.6M108.6 414.5h.6M113.2 419.4h.6M115.4 415.5h.6M117.7 414.3h.6M104.3 408.2h.6M103.9 412.2h.6M102.3 416.9h.6M110.9 415.5h.6M111.8 415.2h.6M109.5 414.3h.6M110.9 411.1h.6M116.7 421.7h.6M110.9 424.6h.6M106.1 419.2h.6M103 418h.6M107.2 419.6h.6M111.2 419.4h.6M113.6 417.7h.6M109.4 421.9h.6M112.4 417.5h.6M117.5 414.6h.6M118.9 419.9h.6M111.1 409.8h.6M116.5 414.4h.6M111.2 416.1h.6M115.2 418.1h.6M102.1 413h.6M112.4 416.3h.6M114.5 417.9h.6M118.4 412.7h.6M116.9 417.1h.6M112.1 418.3h.6M109.1 418.4h.6M109.7 418.5h.6M107.1 420.3h.6M103.5 413h.6M110.5 416.6h.6M107 414h.6M111.9 419.8h.6M116.8 413.7h.6M110.4 414.4h.6M103.5 413.8h.6M116.1 410.3h.6M124.2 419.5h.6M118.9 416.3h.6M99.9 417.4h.6M118.2 413.3h.6M116.7 418.6h.6M114.4 418.6h.6M113.5 418.2h.6M116.4 417.3h.6M113.7 417.3h.6M111.4 412.2h.6M102.3 411.6h.6M104.9 409.7h.6M114 414.3h.6M116.7 428h.6M114.4 413.8h.6M112.5 414.8h.6M112.1 423.9h.6M118.3 420.7h.6M112.1 422.7h.6M114.6 419.2h.6M105.2 413.2h.6M103.6 424.4h.6M97.5 410.9h.6M95.5 425.2h.6M104.8 417.9h.6M100.9 439.7h.6M103.5 411.1h.6M100.4 426.1h.6M113.3 427.5h.6M114.2 428.5h.6M112.4 436.3h.6M115.7 427.5h.6M91.3 427.5h.6M106.3 420.7h.6M109.4 424.8h.6M109.1 427.5h.6M93.8 434h.6M119.8 433h.6M104.6 413h.6M104.9 425.8h.6M95.1 411.5h.6M106 433.4h.6M108.4 443.3h.6M85.3 428.7h.6M101.8 436.9h.6M101.8 418.7h.6M101.6 429.3h.6M95.6 420.1h.6M104.4 432.7h.6M100 429.7h.6M97.6 423.4h.6M103.8 433.4h.6M116.1 425.1h.6M106.1 441h.6M109.5 423.3h.6M105.7 415.2h.6M83.6 420.2h.6M95.8 415.8h.6M111.2 422.6h.6M102.9 426.6h.6M100.3 417.1h.6M119.2 411h.6M101.8 431.3h.6M100.3 425.3h.6M104.8 427.9h.6M99.2 434.3h.6M106.6 437.5h.6M102.9 410.9h.6M87.6 422.1h.6M106.1 413.6h.6M97.2 435.5h.6M105.1 420.6h.6M101.2 426.9h.6M98.4 423.7h.6M96.5 427.7h.6M116.1 437.1h.6M91.2 443.7h.6M101.1 415.4h.6M89 427.1h.6M104.2 421.2h.6M95.1 424.4h.6M104.4 431.2h.6M107 407.9h.6M96.9 428h.6M105.4 432.1h.6M89.1 438h.6M91.7 424.5h.6M98.1 422.4h.6M95.3 432.3h.6M109.1 428.7h.6M91 421.3h.6M101.6 429.1h.6M97.3 424h.6M125.2 426.5h.6M99.5 407.3h.6M95.6 438.5h.6M109.6 417h.6M109 427.4h.6M95.2 432.1h.6M96.8 423.7h.6M102.3 427.7h.6M98.3 428.3h.6M102.2 427.5h.6M105.6 421.2h.6M90.2 425.5h.6M112.9 428.6h.6M104.1 420.4h.6M92.2 416.6h.6M94.1 423.2h.6M88.7 425.1h.6M88.4 431h.6M101.9 412.7h.6M97.4 427.8h.6M105.5 432h.6M99.1 424.9h.6M100.1 430.2h.6M96.1 424.8h.6M103.4 423.4h.6M92.7 436.4h.6M106.5 419.1h.6M119.3 420.2h.6M94.6 423.3h.6M106.8 437.4h.6M114.1 430.3h.6M102.7 431.1h.6M95.3 420.7h.6M106.8 427.6h.6M104.2 418.3h.6M104.3 415.1h.6M110.2 426.1h.6M96.6 422.5h.6M126.4 449.9h.6M96.1 436.5h.6M102.3 428h.6M93.8 416.1h.6M104.2 422.7h.6M106.6 434.1h.6M101.2 430.1h.6M103.7 427.8h.6M97.7 427.9h.6M106 426.6h.6M98.2 415h.6M92.9 438h.6M111 428.3h.6M104.7 424.9h.6M108.1 433.4h.6M100 428.4h.6M110.5 414h.6M94 421.7h.6M92.1 422.7h.6M94.8 423h.6M106.3 417.1h.6M103 436.6h.6M103.8 416.7h.6M96.9 435h.6M99.9 421.3h.6M109 420.6h.6M92.5 430.7h.6M102.3 421.1h.6M106.2 434.5h.6M111.6 426.8h.6M106.2 429.8h.6M89.3 438.7h.6M96.4 421.8h.6M95 418.7h.6M111.7 426.1h.6M97.2 412.1h.6M103.6 425.7h.6M93.2 425.3h.6M86.3 431h.6M91.6 429.9h.6M103 409.9h.6M92.5 421.1h.6M109 430.6h.6M107.6 438.8h.6M99.7 422.2h.6M85.9 418.2h.6M107.1 419.7h.6M94.6 433.3h.6M113.4 412.4h.6M106.3 426h.6M110 423.5h.6M101.1 436.8h.6M97 429.3h.6M107.7 425.2h.6M109.8 430h.6M109.4 413.1h.6M93.2 428.3h.6M112.3 437h.6M102.3 420.4h.6M92.7 411.2h.6M97.9 430.5h.6M101.6 414.8h.6M101.3 426.5h.6M95.7 437.2h.6M106 434.5h.6M103.1 418.7h.6M111.5 434.5h.6M97.1 415.9h.6M109.2 421.8h.6M92.1 425.4h.6M107 420.4h.6M102.5 433.7h.6M108.7 414.2h.6M108.4 439.6h.6M110.1 425.4h.6M105.4 414.1h.6M97.1 422.1h.6M120.1 426.1h.6M93.8 439h.6M112.8 413.5h.6M100.5 413.2h.6M111.2 408.7h.6M118.2 418h.6M93.2 442.2h.6M106.8 428.8h.6M109.6 418.5h.6M109.7 424h.6M106.7 427.8h.6M114.1 416.3h.6M90.2 431.1h.6M122.6 430.2h.6M100.8 431.2h.6M91.8 426.8h.6M87.7 427h.6M108.4 439.1h.6M97.9 433.2h.6M113.8 418.1h.6M99.8 411.9h.6M94.6 429.4h.6M84.7 423.8h.6M108.4 437.1h.6M96.9 408.5h.6M93.4 430.6h.6M102 431.5h.6M99.6 431.1h.6M93.8 418.6h.6M100.8 412.7h.6M112.8 424.2h.6M93.7 419.5h.6M93.9 427h.6M99 432.7h.6M92.3 425.5h.6M89.2 422.5h.6M113.9 425.2h.6M109.8 425.6h.6M92.8 419.3h.6M92.5 428.7h.6M104.2 448.6h.6M116.5 432.6h.6M93.8 427h.6M94.4 444.1h.6M96 435h.6M90.6 431.9h.6M91.6 422.5h.6M103.6 427.1h.6M101.7 425.6h.6M94.8 425.2h.6M101.6 418.9h.6M107 427.4h.6M95.7 436.1h.6M97.2 411.5h.6M113 423.2h.6M114.8 429.4h.6M94.5 434.7h.6M106.1 433.2h.6M102.5 438h.6M110.1 423.5h.6M89.2 425.7h.6M102.7 418.5h.6M100.5 437.6h.6M98.1 434.7h.6M94.1 418.6h.6M110.2 424.8h.6M104 434h.6M116.2 416.6h.6M107.2 427.8h.6" stroke="#000" stroke-opacity="0.55" stroke-width="0.6" fill="none"/>
<ellipse cx="91.6" cy="415.7" rx="11.2" ry="8.6" fill="url(#gb)" transform="rotate(5 91.6 415.7)"/>
<ellipse cx="92.6" cy="434.7" rx="11.8" ry="7.6" fill="url(#gb)" transform="rotate(0 92.6 434.7)"/>
<ellipse cx="114" cy="434.4" rx="9.6" ry="7.4" fill="url(#gb)" transform="rotate(-25 114 434.4)"/>
<ellipse cx="110.7" cy="415.6" rx="7.5" ry="6.5" fill="url(#gh)" transform="rotate(0 110.7 415.6)"/>
<ellipse cx="92.5" cy="425" rx="5" ry="5" fill="url(#gl)" transform="rotate(0 92.5 425)"/>
</g>
<rect x="80.6" y="395.3" width="58.8" height="59.3" fill="none" stroke="#a4a4a4" stroke-width="0.7"/>
<rect x="80.6" y="404.1" width="20.6" height="18.9" fill="none" stroke="#7c7c7c" stroke-width="0.55"/>
<rect x="80.6" y="426.1" width="22" height="19.4" fill="none" stroke="#7c7c7c" stroke-width="0.55"/>
<rect x="106" y="425.3" width="19.5" height="24.2" fill="none" stroke="#7c7c7c" stroke-width="0.55"/>
</g>
<g>
<clipPath id="cp21"><rect x="164.4" y="196" width="59.1" height="60"/></clipPath>
<g clip-path="url(#cp21)">
<path d="M198.5 234.4L197.8 234.4L197.4 234.1L197 233.8L196.5 233.5L196 233.3L195.3 233.2L194.5 233.1L194 233.1L193.3 232.9L192.8 232.7L192.3 232.6L191.8 232.4L191.3 232.1L190.8 231.7L190.5 231.4L190.1 230.9L189.8 230.5L189.5 230.1L189.1 229.6L188.8 229.3L188.4 228.9L188 228.4L187.8 227.9L187.5 227.5L187.1 227.1L186.5 226.9L186.1 226.6L185.7 226.4L185.3 226L184.9 225.6L184.5 225.3L184 225L183.5 224.7L183 224.4L182.5 224.1L182.2 223.9L181.8 223.6L181.3 223.1L181 222.9L180.6 222.4L180.3 222L180 221.6L179.6 221.1L179.3 220.6L179 220.2L178.8 219.7L178.6 219.1L178.4 218.6L178.3 217.9L178.3 217.1L178.4 216.4L178.4 215.6L178.5 214.9L178.5 214.1L178.6 213.6L178.8 213L179 212.5L179.3 212.1L179.5 211.6L179.8 211.1L180 210.6L180.3 210.1L180.6 209.6L181 209.1L181.3 208.9L181.8 208.4L182 208L182.3 207.6L182.8 207.1L183.1 206.9L183.5 206.6L184 206.2L184.5 205.9L184.9 205.6L185.5 205.4L186 205.3L186.5 205.4L187.1 205.6L187.7 205.9L188.3 206L189 206.1L189.8 206.1L190.3 206.1L191 206.2L191.8 206.3L192.3 206.1L192.8 205.8L193.3 205.5L193.8 205.3L194.5 205.1L195 205L195.5 204.8L196 204.6L196.5 204.3L197.3 204.2L198 204.4L198.5 204.5L199.3 204.6L199.8 204.4L200.3 204.1L200.8 203.8L201.3 203.6L201.8 203.3L202.3 203.1L203 202.9L203.5 202.8L204.3 202.7L205 202.6L205.8 202.7L206.3 202.9L206.8 203.2L207.3 203.5L207.8 203.7L208.3 203.9L208.8 204.1L209.3 204.4L209.7 204.9L209.9 205.4L210.1 205.9L210.3 206.4L210.5 207.1L210.7 207.6L210.9 208.1L211.1 208.6L211.3 209.1L211.5 209.8L211.8 210.4L212 210.9L212.1 211.4L212.3 212L212.4 212.6L212.4 213.4L212.4 214.1L212.4 214.9L212.4 215.6L212.4 216.4L212.5 217.1L212.4 217.9L212.3 218.4L212 219L211.8 219.6L211.6 220.1L211.4 220.6L211.2 221.1L211 221.6L210.8 222.2L210.5 222.6L210.1 223.1L209.7 223.4L209 223.5L208.3 223.5L207.5 223.5L207 223.7L206.5 224L206.2 224.4L205.9 224.9L205.8 225.6L205.8 226.1L205.8 226.6L205.9 227.4L205.8 228.1L205.6 228.6L205.4 229.1L205.1 229.6L204.8 230.1L204.5 230.5L204.2 230.9L203.8 231.2L203.3 231.5L202.8 231.9L202.4 232.1L201.8 232.4L201 232.3L200.5 232.5L200.1 232.9L199.8 233.4L199.5 233.7L199.1 234.1L198.6 234.4ZM178.8 239.1L178 239.2L177.3 239.2L176.5 239.2L176 239.1L175.3 239L174.8 238.8L174.3 238.6L173.8 238.4L173.3 238L172.9 237.6L172.6 237.1L172.4 236.6L172.3 236.1L172.2 235.4L172.4 234.9L172.8 234.5L173.2 234.1L173.6 233.9L174 233.5L174.5 233.1L174.8 232.9L175.3 232.5L175.7 232.1L176.1 231.9L176.5 231.6L177 231.4L177.7 231.1L178.3 230.9L178.8 230.9L179.5 230.9L180 230.9L180.8 231.1L181.3 231.2L182 231.4L182.5 231.5L183 231.8L183.4 232.1L183.8 232.5L184.3 232.9L184.5 233.1L185 233.6L185.2 234.1L185.2 234.9L185.1 235.6L184.9 236.1L184.6 236.6L184.3 237L183.8 237.3L183.3 237.6L182.8 237.8L182.3 238L181.8 238.2L181.3 238.4L180.8 238.7L180.2 238.9L179.5 239L178.9 239.1Z" fill="#000" fill-opacity="0.01" fill-rule="evenodd" stroke="#505050" stroke-opacity="0.7" stroke-width="0.42"/>
<path d="M198.5 232.7L197.8 232.8L197.1 232.6L196.5 232.5L195.8 232.4L195.3 232.3L194.5 232.1L194 231.9L193.5 231.7L193 231.5L192.5 231.3L192 231L191.5 230.7L191.2 230.4L190.8 229.9L190.5 229.4L190.4 228.9L190.4 228.1L190.3 227.4L190 226.9L189.8 226.6L189.4 226.1L189.1 225.6L188.9 225.1L188.6 224.6L188.3 224.2L187.5 224.2L186.8 224.4L186.3 224.4L185.8 224.3L185.3 224.1L184.8 223.8L184.2 223.6L183.5 223.5L183 223.3L182.5 223L182.1 222.6L181.8 222.3L181.5 221.9L181.1 221.4L180.8 220.9L180.5 220.5L180.3 220.1L180 219.6L179.8 219.1L179.5 218.6L179.3 217.9L179.2 217.4L179.2 216.6L179.3 216.1L179.4 215.4L179.5 214.6L179.5 214.1L179.7 213.4L179.8 212.9L180.1 212.4L180.4 211.9L180.8 211.4L181.1 211.1L181.5 210.9L182 210.6L182.4 210.1L182.6 209.6L182.8 209.1L183 208.6L183.4 208.1L183.8 207.8L184.3 207.5L184.8 207.3L185.5 207.3L185.9 207.6L186.1 208.1L186.3 208.6L186.5 209.1L187 209.6L187.4 209.9L188 210.1L188.8 210.1L189.5 209.9L189.9 209.6L190.3 209.3L190.8 208.9L191.3 208.7L192 208.9L192.4 209.1L192.8 209.4L193.3 209.7L193.9 209.9L194.5 209.9L195 209.6L195.2 209.1L195.4 208.6L195.4 207.9L195.3 207.3L195.3 206.9L195.8 206.6L196.3 206.4L196.9 206.1L197.5 206L198.3 206.1L199 206L199.5 205.8L200 205.5L200.5 205.2L201 204.9L201.5 204.7L202 204.4L202.5 204.2L203 204L203.5 203.9L204.3 203.7L205 203.7L205.8 203.8L206.3 204L206.8 204.2L207.3 204.5L207.8 204.7L208.3 204.9L208.8 205.3L209 205.6L209.3 206.1L209.5 206.7L209.7 207.4L209.9 207.9L210.1 208.4L210.3 209L210.5 209.6L210.8 210.1L211 210.6L211.1 211.1L211.2 211.9L211.3 212.4L211.4 213.1L211.5 213.6L211.6 214.4L211.6 215.1L211.5 215.9L211.5 216.4L211.4 217.1L211.3 217.9L211.2 218.4L211 218.9L210.8 219.4L210.5 219.9L210.3 220.5L210 221.1L209.8 221.6L209.5 222L209.1 222.4L208.5 222.6L208 222.7L207.3 222.8L206.7 222.9L206 223.1L205.6 223.4L205.3 223.6L204.8 224.1L204.5 224.4L204 224.7L203.5 225L203 225.2L202.7 225.6L202.5 226.1L202.5 226.9L202.6 227.4L203 227.9L203.3 228.1L203.7 228.6L203.8 228.9L203.6 229.6L203.3 229.9L202.8 230.2L202 230.3L201.5 230.4L201 230.6L200.5 230.9L200 231.3L199.7 231.6L199.3 232.1L199 232.4L198.5 232.7ZM179 238.7L178.3 238.8L177.5 238.8L176.8 238.8L176 238.7L175.5 238.6L174.9 238.4L174.4 238.1L174 237.9L173.5 237.4L173.3 236.9L173.1 236.4L173.1 235.6L173.3 235.1L173.7 234.6L174 234.4L174.5 234L175 233.6L175.4 233.4L175.8 233L176.2 232.6L176.5 232.3L177 232L177.5 231.7L178 231.5L178.6 231.4L179.3 231.3L179.8 231.4L180.5 231.5L181 231.6L181.8 231.8L182.3 232.1L182.7 232.4L183 232.6L183.5 233.1L183.8 233.4L184.1 233.9L184.3 234.4L184.4 235.1L184.3 235.7L184 236.2L183.7 236.6L183.3 237L182.8 237.3L182.3 237.5L181.8 237.7L181.3 237.9L180.7 238.1L180.1 238.4L179.5 238.5L179 238.7Z" fill="#000" fill-opacity="0.02" fill-rule="evenodd" stroke="#505050" stroke-opacity="0.7" stroke-width="0.42"/>
<path d="M197.8 231.9L197.3 231.9L196.5 231.8L195.8 231.7L195.2 231.6L194.6 231.4L194.1 231.1L193.7 230.9L193.2 230.6L192.7 230.4L192.3 230.1L191.8 229.6L191.5 229.2L191.4 228.6L191.5 227.9L191.5 227.1L191.3 226.4L191.1 225.9L190.8 225.4L191 224.8L191.4 224.4L191.5 223.9L191.3 223.4L191 223L190.8 222.6L190.5 222.1L190.3 221.4L190.4 220.6L190.5 220.1L190.8 219.5L190.8 219.1L190.3 218.7L189.5 218.6L188.8 218.7L188.3 219.1L188.2 219.6L188.2 220.4L188.1 221.1L188 221.6L187.8 222.3L187.5 222.7L187.1 223.1L186.5 223.3L185.8 223.1L185.3 222.9L184.8 222.6L184.3 222.5L183.5 222.5L183 222.4L182.5 222L182.2 221.6L181.8 221.1L181.5 220.7L181.3 220.3L181 219.8L180.8 219.3L180.5 218.7L180.3 218.2L180.1 217.6L180 217.1L180 216.4L180.1 215.9L180.2 215.1L180.3 214.5L180.3 213.9L180.5 213.1L180.8 212.6L181 212.3L181.5 212L182 211.9L182.8 211.7L183.2 211.4L183.3 210.9L183.4 210.1L183.6 209.6L183.9 209.1L184.5 208.9L185.2 209.1L185.5 209.4L185.9 209.9L186.2 210.4L186.5 210.8L186.9 211.1L187.3 211.4L187.8 211.6L188.4 211.9L189 212.1L189.7 211.9L190 211.5L190.3 211.1L190.7 210.6L191.1 210.4L191.8 210.1L192.5 210.2L193.3 210.4L193.8 210.5L194.5 210.6L195 210.6L195.5 210.5L195.8 210.1L196 209.5L196.2 208.9L196.5 208.4L196.8 208.1L197.3 207.7L197.8 207.5L198.4 207.4L199 207.1L199.4 206.9L199.8 206.6L200.3 206.2L200.8 205.9L201.3 205.6L201.8 205.4L202.3 205.3L202.8 205.1L203.3 204.9L204 204.6L204.5 204.5L205.3 204.5L205.8 204.6L206.4 204.9L206.9 205.1L207.3 205.4L207.8 205.6L208.3 206.1L208.5 206.5L208.8 206.9L209 207.5L209.2 208.1L209.4 208.6L209.6 209.1L209.8 209.6L210.1 210.1L210.3 210.6L210.5 211.4L210.5 212.1L210.5 212.7L210.7 213.4L210.9 213.9L211 214.6L210.9 215.4L210.8 216.1L210.7 216.6L210.5 217.4L210.5 217.9L210.3 218.5L210 219.1L209.8 219.6L209.5 220.1L209.3 220.6L209.1 221.1L208.8 221.6L208.4 221.9L207.8 222.1L207.2 222.1L206.5 222.2L205.9 222.4L205.4 222.6L205 222.9L204.5 223.2L204 223.5L203.5 223.7L202.8 223.8L202.3 223.9L201.5 224L201 224.2L200.5 224.4L200 224.7L199.6 225.1L199.8 225.8L200.2 226.1L200.7 226.4L201 226.9L201 227.4L200.8 227.9L200.5 228.3L200.3 228.9L200.2 229.4L200 229.9L199.7 230.4L199.3 230.9L199 231.2L198.5 231.6L198 231.8ZM178.5 238.4L177.8 238.5L177 238.5L176.3 238.4L175.8 238.3L175.3 238.1L174.8 237.9L174.3 237.5L174 237.1L173.7 236.6L173.7 235.9L173.8 235.4L174.2 234.9L174.5 234.6L175 234.3L175.5 234L176 233.7L176.4 233.4L176.7 232.9L177 232.6L177.5 232.2L178 231.9L178.5 231.8L179.3 231.7L180 231.8L180.5 231.9L181.3 232.1L181.8 232.3L182.3 232.6L182.6 232.9L183 233.3L183.3 233.6L183.6 234.1L183.8 234.6L183.8 235.4L183.7 235.9L183.3 236.4L183 236.6L182.5 237L182 237.2L181.5 237.4L180.9 237.6L180.3 237.9L179.8 238.1L179.3 238.3L178.7 238.4Z" fill="#000" fill-opacity="0.03" fill-rule="evenodd" stroke="#505050" stroke-opacity="0.7" stroke-width="0.42"/>
<path d="M196.3 231.1L195.8 231.1L195.1 230.9L194.6 230.6L194.3 230.4L193.8 230L193.3 229.7L192.9 229.4L192.5 228.9L192.5 228.4L192.5 227.9L192.6 227.1L192.6 226.4L192.5 225.9L192.5 225.1L192.6 224.6L192.5 224.1L192.3 223.6L191.9 223.1L191.5 222.6L191.3 222.3L191 221.7L191 221.1L191.1 220.6L191.5 220.1L191.8 219.9L192.3 219.5L192.4 218.9L192 218.4L191.7 218.1L191.3 217.8L190.8 217.4L190.5 217L190.3 216.6L189.8 216.3L189.3 216.5L188.8 216.9L188.5 217.2L188 217.6L187.6 217.9L187.3 218.1L186.8 218.6L186.7 219.1L186.8 219.7L187 220.1L187.2 220.9L187 221.6L186.8 221.9L186 222L185.5 221.7L185 221.6L184.3 221.6L183.5 221.6L182.9 221.4L182.5 221L182.2 220.6L181.9 220.1L181.7 219.6L181.5 219.1L181.3 218.4L181.1 217.9L180.9 217.4L180.8 216.6L181 215.9L181 215.4L181 214.6L181.1 213.9L181.3 213.3L181.7 212.9L182.3 212.7L182.8 212.6L183.5 212.4L183.9 212.1L184.2 211.6L184.3 210.9L184.5 210.4L185 210.4L185.3 210.6L185.5 211.1L185.8 211.8L186 212.3L186.3 212.8L186.8 213.1L187.3 213.2L188 213.2L188.8 213.3L189.3 213.5L189.8 213.7L190.3 213.6L190.6 213.1L190.8 212.6L191 211.9L191.3 211.4L191.6 211.1L192.2 210.9L192.8 210.9L193.3 210.9L194 211.1L194.5 211.2L195 211.4L195.5 211.6L196.3 211.8L196.8 211.4L196.9 210.9L196.9 210.1L197 209.4L197.3 209L197.8 208.6L198.3 208.5L198.8 208.4L199.3 208.1L199.8 207.7L200 207.4L200.5 206.9L200.9 206.6L201.5 206.4L202.3 206.4L202.8 206.6L203.5 206.8L204 206.4L204.3 206L204.7 205.6L205.3 205.5L206 205.6L206.5 205.9L206.8 206.1L207.3 206.5L207.7 206.9L208 207.3L208.3 207.8L208.5 208.4L208.7 208.9L208.9 209.4L209.2 209.9L209.5 210.3L209.8 210.8L209.9 211.4L209.9 212.1L209.9 212.9L210 213.5L210.3 214.1L210.4 214.6L210.3 215.4L210.2 215.9L210 216.4L209.9 217.1L209.8 217.6L209.6 218.4L209.3 218.9L209 219.4L208.8 219.8L208.5 220.3L208.3 220.8L208 221.1L207.5 221.4L206.8 221.5L206.2 221.6L205.5 221.9L205.1 222.1L204.7 222.4L204.3 222.7L203.8 222.9L203 223.1L202.5 223.1L201.8 223.2L201 223.3L200.5 223.4L200 223.6L199.5 223.9L198.8 224.1L198.3 224.3L197.8 224.5L197.3 224.9L197.1 225.4L197.1 226.1L197.3 226.8L197.4 227.4L197.1 227.9L197 228.4L197.1 228.9L197.3 229.4L197.6 229.9L197.8 230.4L197.5 230.8L197 231L196.5 231.1ZM195.4 218.1L195.8 217.9L196 217.1L195.8 216.5L195.4 216.1L194.8 216L194.5 216.4L194.4 217.1L194.5 217.8L194.8 218.1L195.4 218.1ZM178.5 238.1L177.8 238.2L177 238.2L176.3 238.1L175.8 238L175.3 237.8L174.8 237.4L174.5 237.1L174.2 236.6L174.1 235.9L174.4 235.4L174.8 234.9L175.3 234.6L175.8 234.4L176.3 234.2L176.8 233.9L177 233.5L177.3 233L177.5 232.6L178 232.3L178.5 232.1L179.3 232L180 232.1L180.5 232.2L181.1 232.4L181.7 232.6L182.1 232.9L182.5 233.3L182.8 233.6L183.1 234.1L183.3 234.6L183.3 235.4L183.2 235.9L182.8 236.4L182.4 236.6L181.9 236.9L181.3 237.1L180.8 237.3L180.3 237.6L179.8 237.8L179.3 238L178.6 238.1Z" fill="#000" fill-opacity="0.04" fill-rule="evenodd" stroke="#505050" stroke-opacity="0.7" stroke-width="0.42"/>
<path d="M195 225.4L194.5 225.3L194 225L193.7 224.6L193.3 224.1L193 223.7L192.8 223.4L192.3 222.9L192 222.5L191.8 222.1L191.6 221.4L191.8 220.8L192.3 220.4L192.8 220.3L193.5 220.2L194.1 220.1L194.6 219.9L195 219.5L195.4 219.1L195.8 218.8L196.2 218.4L196.4 217.9L196.5 217.1L196.3 216.4L196 216.1L195.6 215.6L195.3 215.4L194.8 215L194.3 214.8L193.9 215.1L193.9 215.9L193.9 216.6L193.8 217.4L193.6 217.9L193 218.1L192.5 217.9L192 217.6L191.5 217.2L191.3 216.8L191 216.4L190.8 215.6L191 214.9L191.3 214.4L191.5 213.9L191.6 213.4L191.6 212.6L191.8 212.1L192.2 211.6L192.8 211.5L193.5 211.5L194 211.7L194.5 212L195 212.3L195.5 212.4L196.3 212.5L196.8 212.4L197.3 212L197.5 211.6L197.7 210.9L197.8 210.4L198 209.9L198.5 209.5L199 209.3L199.5 209L200 208.6L200.3 208.3L200.6 207.9L201 207.6L201.8 207.4L202.3 207.6L203 207.9L203.3 207.9L204 207.7L204.5 207.4L204.8 207.1L205.3 206.9L206 206.8L206.5 207.1L206.9 207.4L207.3 207.7L207.5 208.1L207.7 208.9L207.6 209.6L207.4 210.1L207.2 210.6L207 211.2L207 211.7L207.3 212.3L207.8 212.4L208 212.1L208.3 211.5L208.5 211L209 211.2L209.1 211.9L209.1 212.6L209.2 213.4L209.4 213.9L209.6 214.4L209.7 215.1L209.5 215.9L209.4 216.4L209.3 216.9L209.1 217.6L208.9 218.1L208.7 218.6L208.4 219.1L208 219.6L207.8 220L207.5 220.4L207 220.7L206.5 220.9L206 221.1L205.4 221.4L204.9 221.6L204.5 221.9L204 222.2L203.5 222.4L202.8 222.6L202 222.5L201.3 222.6L200.8 222.7L200.2 222.9L199.6 223.1L199 223.3L198.5 223.4L197.8 223.5L197.3 223.7L196.8 223.9L196.3 224.3L196 224.6L195.6 225.1L195.1 225.4ZM184.5 220.7L183.8 220.7L183.3 220.6L182.8 220.1L182.5 219.7L182.3 219.1L182.2 218.6L182 218.1L181.9 217.4L181.8 216.6L182 215.9L182.1 215.4L182.1 214.6L182.3 213.9L182.8 213.6L183.3 213.6L184 213.4L184.8 213.4L185.3 213.7L185.8 214L186.3 214.2L187 214.2L187.5 214.1L188.3 214L188.8 214.2L189.1 214.6L189.1 215.4L188.8 215.8L188.5 216.2L188.1 216.6L187.8 217L187.3 217.4L187 217.6L186.5 218.1L186.2 218.4L185.9 218.9L185.7 219.4L185.5 220.1L185.3 220.4L184.7 220.6ZM178.5 237.9L177.8 238L177 238L176.3 237.9L175.8 237.7L175.3 237.4L174.9 237.1L174.6 236.6L174.6 235.9L174.9 235.4L175.3 235L175.8 234.8L176.5 234.7L177 234.6L177.4 234.1L177.5 233.5L177.8 232.9L178.1 232.6L178.6 232.4L179.3 232.3L180 232.3L180.5 232.4L181 232.6L181.5 232.9L182 233.3L182.3 233.6L182.7 234.1L182.9 234.6L182.9 235.4L182.7 235.9L182.3 236.3L181.8 236.6L181.3 236.8L180.8 237L180.3 237.2L179.8 237.5L179.3 237.7L178.6 237.9Z" fill="#000" fill-opacity="0.04" fill-rule="evenodd" stroke="#505050" stroke-opacity="0.7" stroke-width="0.42"/>
<path d="M195.3 223.4L194.5 223.6L193.8 223.4L193.4 223.1L193 222.8L192.6 222.4L192.3 221.9L192.5 221.2L193 221L193.8 221L194.5 221L195 220.9L195.5 220.4L195.8 220.1L196.2 219.6L196.5 219.3L196.8 218.9L197 218.1L197 217.6L197 217.1L196.8 216.4L196.5 215.9L196.3 215.6L195.9 215.1L195.5 214.7L195.3 214.1L195.5 213.5L196 213.3L196.7 213.1L197.3 212.9L197.6 212.6L197.9 212.1L198.1 211.6L198.3 211.1L198.6 210.6L199 210.2L199.5 209.9L200 209.6L200.3 209.4L200.8 208.9L201.1 208.6L201.8 208.4L202.5 208.4L203.3 208.5L203.9 208.4L204.4 208.1L204.9 207.9L205.5 207.6L206.3 207.9L206.6 208.1L206.9 208.6L206.9 209.4L206.8 209.9L206.6 210.6L206.5 211.1L206.5 211.6L206.7 212.4L206.9 212.9L207.2 213.4L207.5 213.8L207.8 214.1L208.2 214.6L208.5 215.1L208.6 215.6L208.6 216.4L208.5 217.1L208.4 217.6L208.2 218.1L207.9 218.6L207.6 219.1L207.3 219.6L207 219.9L206.5 220.3L206 220.6L205.5 220.8L205 221L204.5 221.3L204 221.6L203.5 221.8L203 221.9L202.4 221.9L201.8 221.8L201 221.8L200.5 222L200 222.2L199.5 222.5L199 222.7L198.3 222.8L197.5 222.8L196.8 222.9L196.3 223L195.8 223.2L195.3 223.4ZM184.5 219.4L183.8 219.4L183.4 219.1L183.1 218.6L182.8 218.1L182.7 217.6L182.6 216.9L182.8 216.3L183 215.8L183.3 215.4L183.8 214.9L184.3 214.7L185 214.7L185.6 214.9L186.3 215.1L186.8 215.2L187.5 215.2L187.8 215.5L187.5 216.1L187.3 216.5L187 216.9L186.5 217.4L186.3 217.6L185.8 218.1L185.5 218.4L185.1 218.9L184.8 219.2ZM193 216.9L192.3 216.9L192 216.6L191.7 216.1L191.8 215.5L192.3 215.1L192.8 215.4L193.1 215.9L193.2 216.6ZM178.5 237.6L177.8 237.8L177 237.7L176.4 237.6L175.8 237.4L175.4 237.1L175.1 236.6L175 236.1L175.2 235.6L175.5 235.3L176.3 235.1L177 235.3L177.5 235.5L178 235.6L178.6 235.6L179.1 235.4L179 234.9L178.5 234.6L178 234.2L177.9 233.6L178.1 233.1L178.5 232.8L179 232.6L179.8 232.6L180.3 232.7L180.9 232.9L181.3 233.1L181.8 233.5L182.1 233.9L182.3 234.4L182.5 235.1L182.3 235.7L181.9 236.1L181.4 236.4L180.9 236.6L180.4 236.9L179.9 237.1L179.4 237.4L178.8 237.6Z" fill="#000" fill-opacity="0.04" fill-rule="evenodd" stroke="#505050" stroke-opacity="0.7" stroke-width="0.42"/>
<path d="M198 222.1L197.5 222.1L196.8 221.9L196.4 221.6L196.5 220.9L196.8 220.5L197.3 220.2L197.8 220L198.5 219.9L199 219.8L199.1 219.1L198.8 218.7L198.4 218.4L198 217.9L197.9 217.4L197.8 216.6L198.3 216.2L199 216.4L199.8 216.3L200.5 216.2L201 215.9L201.3 215.6L201.3 215.1L201 214.6L200.6 214.1L200.2 213.9L199.5 213.7L199 213.6L198.3 213.4L198.4 212.6L198.6 212.1L198.8 211.6L199.1 211.1L199.5 210.7L200 210.4L200.4 210.1L200.8 209.8L201.3 209.4L201.8 209.2L202.3 209L203 209L203.8 209L204.3 208.8L204.8 208.5L205.3 208.4L205.8 208.4L206.2 208.9L206.3 209.4L206.2 209.9L206.2 210.6L206.2 211.4L206.3 212L206.4 212.6L206.6 213.1L206.8 213.6L207 214.3L207.2 214.9L207.4 215.4L207.6 215.9L207.8 216.4L207.8 217.1L207.7 217.6L207.5 218.1L207.3 218.6L207 219.1L206.6 219.6L206.3 219.9L205.8 220.2L205.3 220.5L204.8 220.7L204.3 220.9L203.5 221.1L203 221.1L202.5 221L202 220.8L201.3 220.7L200.5 220.8L200.1 221.1L199.8 221.4L199.3 221.8L198.8 222L198.2 222.1ZM197.5 215.3L197 215.1L196.7 214.6L197 214.1L197.5 214.1L197.7 214.6L197.5 215.3ZM184.5 218.4L184 218.4L183.5 218L183.3 217.4L183.2 216.9L183.4 216.4L183.7 215.9L184 215.6L184.6 215.4L185 215.4L185.7 215.6L186.1 215.9L186.4 216.4L186.2 216.9L185.9 217.4L185.5 217.7L185 218.1L184.5 218.4ZM178.5 237.4L177.8 237.5L177 237.5L176.5 237.4L176 237.1L175.5 236.6L175.5 236.1L175.8 235.7L176.3 235.6L176.8 235.7L177.5 235.9L178 235.9L178.7 235.9L179.3 235.7L179.7 235.4L179.5 234.8L179 234.5L178.5 234.2L178.3 233.6L178.6 233.1L179.1 232.9L179.8 232.8L180.3 232.9L180.8 233.1L181.3 233.5L181.6 233.9L181.9 234.4L182 234.9L182 235.4L181.6 235.9L181.1 236.1L180.6 236.4L180.2 236.6L179.7 236.9L179.2 237.1L178.5 237.4Z" fill="#000" fill-opacity="0.05" fill-rule="evenodd" stroke="#505050" stroke-opacity="0.7" stroke-width="0.42"/>
<path d="M203.8 220.4L203.3 220.3L202.8 220L202.3 219.7L201.8 219.5L201 219.4L200.5 219.1L200.2 218.9L199.8 218.4L199.7 217.9L199.8 217.4L200.3 217L200.8 216.8L201.3 216.6L201.9 216.4L202.2 215.9L202 215.3L201.8 214.8L201.4 214.4L201 213.9L200.8 213.6L200.3 213.1L199.9 212.9L199.5 212.4L199.5 212.1L199.8 211.5L200.1 211.1L200.5 210.8L201 210.5L201.5 210.1L201.9 209.9L202.5 209.7L203.3 209.6L203.8 209.6L204.5 209.5L205 209.4L205.4 209.6L205.6 210.1L205.8 210.9L205.9 211.4L206 212.1L206.1 212.6L206.3 213.2L206.5 213.9L206.6 214.4L206.6 215.1L206.7 215.9L206.8 216.5L206.9 217.1L206.9 217.9L206.8 218.5L206.5 219L206.2 219.4L205.8 219.8L205.3 220L204.8 220.2L204 220.4ZM184.8 217.5L184.2 217.4L184 216.9L184.2 216.4L184.8 216.1L185 216.2L185.4 216.6L185.3 217.1L184.8 217.5ZM180.8 235.6L180.4 235.4L180.2 234.9L179.8 234.6L179.3 234.3L178.8 233.9L179 233.3L179.6 233.1L180 233.2L180.6 233.4L181 233.7L181.3 234.1L181.4 234.9L181.2 235.4L180.8 235.6ZM178 237.1L177.3 237.2L176.8 237L176.3 236.7L176.3 236.2L176.8 236.1L177.3 236.2L178 236.2L178.8 236.2L179.5 236.2L179.3 236.6L178.9 236.9L178.3 237.1Z" fill="#000" fill-opacity="0.05" fill-rule="evenodd" stroke="#505050" stroke-opacity="0.7" stroke-width="0.42"/>
<path d="M205 216.2L204.3 216.2L203.8 216.1L203.3 215.8L202.8 215.4L202.5 215.1L202.2 214.6L201.8 214.1L201.5 213.8L201.2 213.4L201 212.9L200.8 212.4L200.8 211.8L201 211.4L201.5 210.9L201.9 210.6L202.4 210.4L203 210.3L203.8 210.2L204.5 210.3L205 210.6L205.3 210.9L205.5 211.4L205.7 212.1L205.9 212.6L206 213.3L206.1 213.9L206.2 214.6L206 215.2L205.8 215.6L205.3 216.1ZM205 219.6L204.3 219.8L203.8 219.6L203.3 219.2L202.9 218.9L202.5 218.6L201.8 218.5L201.3 218.3L201 217.9L201.3 217.5L202 217.4L202.8 217.4L203.3 217.3L203.8 217.1L204.3 216.9L205 216.7L205.5 216.9L206 217.4L206.2 217.9L206.1 218.6L205.8 219.1L205.5 219.4L205 219.6ZM180.3 234.2L179.8 234.1L179.5 233.7L180 233.6L180.4 233.9Z" fill="#000" fill-opacity="0.05" fill-rule="evenodd" stroke="#505050" stroke-opacity="0.7" stroke-width="0.42"/>
</g>
<rect x="164.4" y="196" width="59.1" height="60" fill="none" stroke="#8c8c8c" stroke-width="0.7"/>
<line x1="189.6" y1="196" x2="189.6" y2="256" stroke="#666" stroke-width="0.7" stroke-linecap="butt"/>
<line x1="164.4" y1="226" x2="223.5" y2="226" stroke="#666" stroke-width="0.7" stroke-linecap="butt"/>
<text x="166.7" y="204.8" font-size="6.9" text-anchor="start" fill="#1c1c1c" stroke="#1c1c1c" stroke-width="0.22">11.8</text>
<text x="209.1" y="204.8" font-size="6.9" text-anchor="start" fill="#1c1c1c" stroke="#1c1c1c" stroke-width="0.22">68.3</text>
<text x="166.7" y="255" font-size="6.9" text-anchor="start" fill="#1c1c1c" stroke="#1c1c1c" stroke-width="0.22">12.5</text>
<text x="209.1" y="255" font-size="6.9" text-anchor="start" fill="#1c1c1c" stroke="#1c1c1c" stroke-width="0.22">7.4</text>
</g>
<g>
<clipPath id="cp22"><rect x="165.4" y="261" width="58.9" height="59.3"/></clipPath>
<g clip-path="url(#cp22)">
<path d="M199.8 300.2L199 300.2L198.5 300.1L197.8 299.9L197.3 299.7L196.8 299.4L196.5 299.1L196 298.9L195.3 298.8L194.8 298.9L194 299.1L193.3 299.1L192.8 298.9L192.4 298.4L192.4 297.6L192.4 296.9L192.4 296.1L192.5 295.4L192.5 294.9L192.6 294.1L192.7 293.4L192.9 292.9L193.1 292.4L193.3 291.9L193.3 291.1L193.1 290.6L192.8 290.3L192.3 290L191.8 289.8L191.3 289.6L190.5 289.5L189.8 289.5L189 289.4L188.3 289.4L187.8 289.4L187 289.4L186.5 289.4L185.8 289.4L185.3 289.3L184.7 289.4L184 289.6L183.5 289.9L183 290.1L182.5 290.3L182 290.5L181.3 290.6L180.8 290.6L180.3 290.6L179.5 290.4L179.1 290.1L178.7 289.9L178.3 289.5L177.8 289.1L177.3 288.9L176.8 288.7L176.3 288.5L175.9 288.1L175.7 287.6L175.5 287.1L175.3 286.4L175.1 285.9L174.9 285.4L174.9 284.6L175 283.9L175.2 283.4L175.4 282.9L175.6 282.4L175.8 281.9L176.1 281.4L176.4 280.9L176.8 280.4L177.3 280.1L177.8 279.9L178.3 279.7L178.7 279.4L179 279.1L179.5 278.6L179.8 278.3L180.1 277.9L180.3 277.4L180.6 276.9L180.9 276.4L181.3 276.1L181.8 275.8L182.3 275.6L182.9 275.4L183.5 275.2L184.3 275.2L185 275.2L185.8 275.2L186.5 275.3L187.2 275.4L187.8 275.4L188.3 275.2L188.7 274.9L189 274.4L189.3 273.9L189.5 273.5L189.9 273.1L190.3 272.8L190.8 272.4L191.3 272.1L191.8 271.9L192.3 271.8L192.8 271.9L193.5 272.1L194 272.3L194.5 272.4L195.3 272.4L195.8 272.1L196 271.9L196.4 271.4L196.8 271L197.3 270.7L197.8 270.6L198.3 270.7L199 270.8L199.8 270.7L200.5 270.7L201.3 270.8L201.8 271.1L202.1 271.4L202.5 271.7L203 272.1L203.3 272.4L203.8 272.7L204.5 272.9L205 272.9L205.8 273.1L206.2 273.4L206.5 273.7L206.8 274.1L207 274.8L207.1 275.4L207 276.1L207 276.9L207.2 277.6L207.5 278.1L207.8 278.5L208 278.9L208.3 279.6L208.4 280.1L208.4 280.9L208.4 281.6L208.4 282.4L208.3 283.1L208.2 283.6L208 284.1L207.7 284.6L207.3 285.1L206.8 285.3L206.3 285.4L205.5 285.4L205 285.7L204.8 286.4L204.8 286.9L204.8 287.6L204.9 288.1L205 288.9L204.9 289.6L204.6 290.1L204.3 290.4L203.8 290.9L203.5 291.3L203.3 291.9L203.2 292.4L203.1 293.1L203.1 293.9L203 294.4L202.9 295.1L203 295.9L203.1 296.4L203.3 296.9L203.5 297.6L203.3 298.2L202.8 298.6L202.3 298.8L201.8 298.4L201.5 297.9L201 297.7L200.7 298.1L200.8 298.6L200.8 299.3L200.5 299.7L200 300.1ZM172 306.9L171.3 307.1L170.5 306.9L170 306.7L169.5 306.5L169 306.4L168.3 306.1L167.8 306L167.3 305.9L166.5 305.7L166 305.6L165.3 305.6L164.5 305.5L164 305.3L163.5 304.9L163.3 304.6L163 304.1L162.8 303.6L162.6 302.9L162.7 302.1L162.8 301.6L162.9 300.9L162.8 300.1L162.7 299.6L162.7 298.9L162.8 298.1L162.9 297.6L163 297.1L163.3 296.6L163.5 296.1L163.9 295.6L164.3 295.1L164.5 294.9L165 294.5L165.5 294.1L165.8 293.9L166.3 293.6L166.8 293.3L167.3 293.1L168 292.9L168.5 292.8L169.3 292.9L169.8 293L170.3 293.2L170.8 293.5L171.2 293.9L171.5 294.2L172 294.6L172.5 294.9L173 295L173.8 294.9L174.3 294.7L174.8 294.6L175.5 294.4L176 294.3L176.8 294.3L177.5 294.3L178.3 294.2L178.8 294.1L179.5 294L180.3 293.9L181 294L181.8 294L182.5 294.1L183.1 294.1L183.8 294.2L184.5 294.3L185 294.4L185.6 294.6L186.2 294.9L186.6 295.1L187.1 295.4L187.5 295.7L188 296L188.5 296.3L188.9 296.6L189.2 297.1L189.5 297.6L189.7 298.1L189.9 298.6L189.9 299.4L189.8 300L189.5 300.6L189.3 301.1L189 301.6L188.8 302L188.5 302.4L188 302.9L187.8 303.1L187.3 303.6L186.9 303.9L186.5 304.1L185.8 304.4L185.3 304.5L184.5 304.6L184 304.7L183.5 304.9L183 305.1L182.5 305.4L182 305.7L181.5 305.9L181 306.1L180.3 306.3L179.8 306.4L179 306.5L178.3 306.5L177.5 306.5L176.8 306.4L176.3 306.3L175.5 306.3L174.8 306.4L174.3 306.4L173.5 306.6L173 306.7L172.3 306.9Z" fill="#000" fill-opacity="0.01" fill-rule="evenodd" stroke="#505050" stroke-opacity="0.7" stroke-width="0.42"/>
<path d="M198.8 298.9L198.3 298.8L197.8 298.4L197.6 297.9L197.4 297.4L197 296.9L196.5 296.8L196 297.1L195.5 297.4L195 297.5L194.3 297.4L193.8 297.1L193.6 296.6L193.6 295.9L193.7 295.1L193.8 294.6L193.9 293.9L194.1 293.4L194.3 292.7L194.5 292.2L194.8 291.6L195 291.2L195.3 290.8L195.5 290.4L195.4 289.9L195 289.5L194.5 289.2L194 288.9L193.5 288.7L193 288.5L192.5 288.2L192 288L191.5 287.9L190.8 287.6L190.3 287.4L189.9 287.1L189.5 286.6L189.3 286.2L188.9 285.9L188.5 285.5L188.1 285.1L187.5 284.9L187 285.2L186.7 285.6L186.3 286.1L186 286.4L185.5 286.9L185.2 287.1L184.8 287.4L184.3 287.7L183.8 288L183.3 288.4L183 288.6L182.5 289L182 289.2L181.5 289.4L180.8 289.5L180.2 289.4L179.6 289.1L179.2 288.9L178.8 288.4L178.5 288.1L178.2 287.6L177.9 287.1L177.7 286.6L177.5 286.1L177.1 285.6L176.8 285.2L176.5 284.7L176.4 284.1L176.3 283.4L176.5 282.6L176.7 282.1L177 281.7L177.4 281.4L177.8 281.1L178.3 280.8L178.8 280.4L179.1 280.1L179.5 279.7L179.8 279.4L180.3 278.9L180.5 278.6L180.9 278.1L181.3 277.7L181.6 277.4L182 277L182.5 276.8L183.3 276.7L184 276.7L184.8 276.6L185.3 276.5L185.8 276.4L186.5 276.3L187 276.4L187.8 276.5L188.5 276.4L189 276.1L189.4 275.9L189.8 275.5L190.1 275.1L190.4 274.6L190.8 274.2L191.1 273.9L191.5 273.6L192 273.4L192.8 273.3L193.5 273.4L194 273.5L194.5 273.7L195.2 273.9L195.8 274L196.3 273.9L197 273.8L197.5 274L197.9 274.4L198.5 274.5L198.9 274.1L199.2 273.6L199.5 273.1L199.8 272.9L200.3 272.6L201 272.5L201.6 272.6L202.1 272.9L202.5 273.1L203 273.4L203.5 273.7L204.3 273.9L204.8 274L205.3 274.2L205.7 274.6L205.9 275.1L205.9 275.9L205.7 276.4L205.5 276.9L205.2 277.4L204.8 277.8L204.8 278.3L205 278.7L205.5 279.1L205.9 279.4L206.3 279.6L206.8 280L207 280.4L207.3 281.1L207.3 281.6L207.3 282.4L207.2 282.9L207 283.4L206.6 283.9L206 284.1L205.5 284.1L204.8 284.3L204.3 284.6L204 285.1L203.8 285.6L203.8 286.1L203.6 286.9L203.4 287.4L203.1 287.9L202.8 288.2L202.3 288.5L201.9 288.9L201.7 289.4L201.8 290L201.9 290.6L201.9 291.4L201.7 291.9L201.3 292.3L201 292.6L200.7 293.1L200.7 293.9L200.8 294.4L201 295.1L201 295.5L200.8 296L200.4 296.4L200 296.8L199.8 297.2L199.5 297.8L199.4 298.4L199 298.8ZM204.1 277.6L203.8 277.3L203.3 276.9L202.8 276.8L202.5 277.1L202.8 277.6L203.3 277.8L204 277.7ZM192.4 279.6L192.9 279.4L193.3 279.1L193.7 278.6L193.5 278.1L193 277.7L192.5 277.4L192 277.2L191.3 277.4L191 277.8L190.8 278.4L190.9 279.1L191.3 279.6L191.8 279.7L192.4 279.6ZM179 305.7L178.3 305.8L177.5 305.8L176.8 305.7L176 305.7L175.3 305.6L174.5 305.7L173.8 305.7L173 305.7L172.3 305.6L171.5 305.7L170.8 305.8L170 305.8L169.3 305.7L168.8 305.5L168.3 305.4L167.6 305.1L167 304.9L166.5 304.8L165.8 304.8L165 304.8L164.5 304.6L164 304.3L163.7 303.9L163.5 303.3L163.5 302.6L163.5 302.1L163.8 301.4L163.9 300.9L164 300.1L163.9 299.4L163.9 298.6L163.9 297.9L164.1 297.4L164.3 296.9L164.6 296.4L165 295.9L165.3 295.5L165.6 295.1L166 294.8L166.5 294.4L166.9 294.1L167.4 293.9L168 293.7L168.8 293.7L169.4 293.9L170 294.1L170.5 294.4L170.8 294.6L171.3 295L171.7 295.4L172.3 295.6L172.8 295.7L173.5 295.6L174 295.6L174.8 295.4L175.3 295.3L176 295.2L176.8 295.1L177.3 295.1L178 295.1L178.8 295L179.5 294.9L180.3 294.9L181 294.9L181.8 294.9L182.3 294.9L183 294.8L183.5 294.9L184.3 295L184.8 295.2L185.3 295.5L185.8 295.8L186.2 296.1L186.5 296.4L187 296.8L187.4 297.1L187.8 297.6L188 297.9L188.4 298.4L188.6 298.9L188.8 299.6L188.7 300.4L188.5 300.9L188.2 301.4L187.8 301.9L187.5 302.2L187 302.6L186.7 302.9L186.3 303.1L185.6 303.4L185 303.4L184.3 303.5L183.8 303.7L183.3 304L182.8 304.4L182.4 304.6L182 304.9L181.5 305.1L180.8 305.4L180.3 305.5L179.5 305.6L179 305.7Z" fill="#000" fill-opacity="0.02" fill-rule="evenodd" stroke="#505050" stroke-opacity="0.7" stroke-width="0.42"/>
<path d="M198.8 296.7L198.3 296.6L197.8 296.1L197.5 295.9L197 295.5L196.5 295.2L196.3 294.9L196 294.3L195.8 293.6L195.8 293.1L195.8 292.6L196.1 292.1L196.5 291.8L197 291.5L197.5 291.3L198 290.9L198 290.6L197.6 290.1L197.3 289.7L197 289.4L196.5 288.9L196.2 288.6L195.8 288.3L195.3 287.9L195 287.6L194.5 287.2L194 287L193.4 286.9L192.8 286.7L192.3 286.5L191.8 286.1L191.4 285.9L191 285.6L190.5 285.3L190 285.1L189.4 284.9L189 284.6L188.5 284.2L188.2 283.9L187.8 283.6L187.3 283.7L186.8 284.1L186.5 284.5L186.2 284.9L185.8 285.4L185.5 285.7L185 286L184.5 286.3L184 286.5L183.5 286.7L183 286.9L182.5 287.2L182 287.6L181.6 287.9L181.1 288.1L180.5 288.2L180 288.1L179.5 287.7L179.4 287.1L179.5 286.6L179.9 286.1L180.3 285.9L181 285.7L181.8 285.7L181.8 285.3L181.3 284.9L180.8 284.6L180.3 284.5L179.5 284.4L179 284.4L178.3 284.3L177.8 284.1L177.3 283.6L177.3 282.9L177.6 282.4L178 281.9L178.3 281.6L178.8 281.3L179.2 280.9L179.5 280.6L180 280.1L180.3 279.8L180.8 279.4L181 279.1L181.5 278.7L181.9 278.4L182.3 278.1L183 277.9L183.6 277.9L184.3 277.8L184.8 277.6L185.4 277.4L186 277.2L186.8 277.2L187.5 277.3L188.3 277.3L188.8 277.1L189.5 277L190 277.2L190.2 277.9L190.1 278.6L190.1 279.4L190.5 279.9L191 280.1L191.5 280.3L192 280.4L192.5 280.3L193 280L193.5 279.7L194 279.5L194.6 279.4L195.2 279.1L195.5 278.6L195.3 277.9L195 277.6L194.3 277.5L193.8 277.3L193.3 277.1L192.8 276.8L192.3 276.4L192 276.1L191.8 275.4L192 274.9L192.5 274.4L193 274.3L193.8 274.3L194.3 274.4L194.8 274.7L195.3 275L195.6 275.4L196 275.7L196.8 275.7L197.5 275.7L198.3 275.8L199 275.7L199.5 275.4L199.8 275L200 274.6L200.4 274.1L200.8 273.8L201.5 273.8L202 274L202.5 274.4L202.8 274.6L202.8 275.2L202.3 275.4L201.8 275.7L201.4 276.1L201.2 276.6L201.2 277.4L201.5 277.9L201.8 278.1L202.3 278.4L202.8 278.7L203.3 279L203.8 279.4L204.1 279.6L204.5 279.9L205 280.3L205.5 280.6L205.8 280.9L206 281.4L206.1 282.1L205.9 282.6L205.5 283L205 283.2L204.5 283.4L204 283.7L203.5 284L203 284.2L202.3 284.1L201.8 283.9L201.3 283.8L200.8 284L200.4 284.4L200.4 285.1L200.7 285.6L201.2 285.9L201.8 286L202.3 286.2L202.3 286.6L202 287.1L201.5 287.6L201.3 287.9L200.9 288.4L200.6 288.9L200.3 289.4L200.2 289.9L199.9 290.4L199.5 290.8L199.4 291.4L199.6 291.9L199.8 292.5L199.9 293.1L200 293.9L200.1 294.4L200.1 295.1L199.9 295.6L199.5 296.1L199.3 296.4L198.8 296.7ZM196.5 284.6L196.8 284.4L197.2 283.9L197.4 283.4L197.3 282.7L196.8 282.5L196.3 282.6L195.9 283.1L195.8 283.6L195.8 284.2L196 284.7ZM178 305.1L177.3 305.2L176.5 305.2L175.8 305.2L175 305.2L174.3 305.1L173.8 305.1L173 305L172.5 304.9L172 304.9L171.3 305L170.8 305.2L170 305.2L169.3 305.1L168.8 305L168.3 304.7L167.8 304.4L167.3 304.1L166.8 304.1L166.3 304.2L165.5 304.2L165 304.1L164.5 303.8L164.2 303.4L164.1 302.6L164.2 301.9L164.4 301.4L164.6 300.9L164.7 300.1L164.6 299.4L164.6 298.6L164.7 297.9L164.8 297.4L165 296.9L165.3 296.4L165.7 295.9L166 295.5L166.5 295.1L166.8 294.9L167.3 294.6L168 294.4L168.5 294.4L169 294.5L169.5 294.6L170 294.9L170.5 295.2L171 295.6L171.4 295.9L172 296.1L172.5 296.2L173.3 296.2L173.8 296.1L174.5 296L175.3 295.9L175.8 295.8L176.5 295.7L177.3 295.7L178 295.7L178.8 295.7L179.3 295.6L180 295.6L180.8 295.6L181.5 295.5L182.3 295.4L183 295.4L183.8 295.5L184.3 295.7L184.8 295.9L185.3 296.3L185.6 296.6L186 297L186.4 297.4L186.8 297.7L187.1 298.1L187.4 298.6L187.7 299.1L187.9 299.6L187.8 300.4L187.6 300.9L187.3 301.3L187 301.6L186.5 302L186 302.2L185.5 302.4L184.8 302.6L184.3 302.7L183.8 303L183.3 303.3L182.9 303.6L182.5 303.9L182 304.3L181.5 304.5L181 304.7L180.3 304.8L179.5 304.9L179 304.9L178.3 305.1Z" fill="#000" fill-opacity="0.03" fill-rule="evenodd" stroke="#505050" stroke-opacity="0.7" stroke-width="0.42"/>
<path d="M194.5 276.4L193.8 276.6L193.3 276.3L192.9 275.9L193 275.3L193.5 275.1L194 275.1L194.5 275.5L194.7 276.1ZM193.8 285.4L193.1 285.4L192.6 285.1L192.3 284.8L191.8 284.4L191.5 284.1L191 283.9L190.5 283.9L190 283.9L189.4 283.6L189.1 283.1L188.9 282.6L188.9 281.9L189 281.1L189.3 280.6L189.8 280.4L190.5 280.6L191 280.9L191.4 281.1L191.8 281.5L192.3 281.8L192.8 281.4L193 281L193.4 280.6L193.9 280.4L194.5 280.2L195.3 280.2L195.8 280L196 279.6L196.3 278.9L196.3 278.4L196.4 277.6L196.6 277.1L197 276.7L197.5 276.5L198.3 276.5L199 276.5L199.6 276.6L200 276.9L200.3 277.5L200.5 278.1L200.8 278.4L201.3 278.7L201.8 279L202.3 279.3L202.8 279.6L203 279.9L203.5 280.3L203.9 280.6L204.3 280.9L204.8 281.3L204.9 281.9L204.6 282.4L204.2 282.6L203.5 282.8L202.8 282.6L202.3 282.5L201.8 282.6L201 282.9L200.5 282.9L199.9 282.9L199.4 282.6L199 282.2L198.6 281.9L198 281.6L197.5 281.5L196.9 281.4L196.3 281.3L195.8 281.6L195.5 282L195.3 282.6L195.1 283.1L195 283.6L194.9 284.4L194.6 284.9L194.3 285.2L193.8 285.4ZM184.8 285.4L184 285.5L183.5 285.4L183 285L182.7 284.6L182.3 284.2L181.9 283.9L181.4 283.6L180.8 283.4L180.2 283.4L179.5 283.3L179 283.1L178.7 282.6L179 282.1L179.3 281.8L179.6 281.4L180 281L180.5 280.7L181 280.6L181.5 280.8L181.8 281.1L182.3 281.4L182.7 281.1L182.9 280.6L183 280.1L183.4 279.6L183.8 279.3L184.3 279L184.8 278.7L185.3 278.4L185.8 278.2L186.3 278.1L186.8 278.2L187.4 278.4L188 278.6L188.3 278.9L188 279.2L187.5 279.6L187.2 279.9L186.9 280.4L186.7 280.9L186.6 281.6L186.7 282.4L186.6 283.1L186.3 283.6L186.1 284.1L185.8 284.6L185.5 284.9L185 285.3ZM198.8 285.7L198.2 285.6L197.9 285.1L198.1 284.6L198.5 284.3L199 284.6L199.1 285.1L198.9 285.6ZM199 289L198.3 289L197.9 288.6L197.6 288.1L197.8 287.5L198.1 287.1L198.7 286.9L199 286.9L199.6 287.1L199.9 287.6L199.8 288.1L199.5 288.6L199 289ZM199 295.4L198.3 295.5L197.8 295.2L197.4 294.9L197 294.4L196.8 293.9L196.8 293.4L196.9 292.9L197.3 292.6L198 292.4L198.7 292.6L199 292.9L199.3 293.4L199.4 294.1L199.4 294.9L199 295.4ZM177.3 304.7L176.5 304.7L175.8 304.8L175 304.8L174.3 304.7L173.7 304.6L173 304.4L172.5 304.3L171.9 304.4L171.3 304.5L170.8 304.7L170 304.8L169.3 304.6L168.8 304.4L168.5 304.1L168.2 303.6L167.9 303.1L167.5 302.8L167 303.1L166.5 303.4L166 303.5L165.3 303.5L164.8 303.1L164.7 302.6L164.8 302L165 301.4L165.1 300.9L165.2 300.1L165.1 299.4L165.1 298.6L165.2 297.9L165.3 297.4L165.6 296.9L165.9 296.4L166.3 295.9L166.6 295.6L167 295.3L167.5 295L168.3 294.9L169 295L169.5 295.2L170 295.5L170.5 295.9L170.9 296.1L171.5 296.4L172 296.5L172.8 296.6L173.5 296.5L174.3 296.5L175 296.4L175.5 296.3L176.3 296.2L177 296.2L177.8 296.2L178.5 296.2L179.2 296.1L179.8 296.1L180.5 296.1L181.3 296L182 295.9L182.5 295.9L183.2 295.9L183.8 296L184.3 296.3L184.7 296.6L185 296.9L185.5 297.3L185.8 297.6L186.2 298.1L186.5 298.6L186.7 299.1L186.7 299.9L186.5 300.5L186.2 300.9L185.8 301.3L185.3 301.6L184.9 301.9L184.4 302.1L183.9 302.4L183.5 302.6L183 303L182.6 303.4L182.3 303.6L181.8 304L181.3 304.2L180.5 304.3L179.8 304.3L179 304.3L178.3 304.4L177.8 304.5L177.3 304.7Z" fill="#000" fill-opacity="0.04" fill-rule="evenodd" stroke="#505050" stroke-opacity="0.7" stroke-width="0.42"/>
<path d="M200.8 281.9L200.3 281.9L199.8 281.4L199.5 281.1L199 280.7L198.3 280.7L197.5 280.6L197.1 280.4L196.8 279.9L196.8 279.1L197 278.4L197.1 277.9L197.5 277.4L198 277.2L198.8 277.3L199.2 277.6L199.4 278.1L199.6 278.6L199.8 279.3L200.3 279.6L200.8 279.6L201.5 279.9L201.8 280.3L201.8 280.8L201.5 281.3L201.2 281.6L200.8 281.9ZM184.5 284.9L184 284.9L183.5 284.6L183.1 284.1L182.9 283.6L182.9 282.9L183.3 282.4L183.5 282.1L183.8 281.5L183.9 280.9L184.2 280.4L184.5 280.1L185.1 279.9L185.5 280L185.7 280.6L185.7 281.4L185.8 282.1L185.8 282.6L185.8 283.3L185.6 283.9L185.3 284.4L185 284.7L184.5 284.9ZM193.8 284.3L193.1 284.1L192.9 283.6L193.1 283.1L193.5 282.7L194 282.5L194.3 283.1L194.1 283.9L193.8 284.3ZM198.5 294.4L198 294.4L197.7 293.9L198 293.4L198.5 293.6L198.6 294.4ZM176 304.4L175.3 304.4L174.5 304.4L174 304.3L173.4 304.1L172.8 303.9L172 303.9L171.3 304.1L170.8 304.3L170 304.4L169.4 304.1L169 303.8L168.7 303.4L168.5 302.8L168.3 302.3L167.8 301.9L167 302.1L166.7 302.4L166.3 302.7L165.5 302.7L165.4 302.1L165.5 301.4L165.6 300.9L165.6 300.1L165.5 299.5L165.5 298.9L165.5 298.3L165.7 297.6L165.9 297.1L166.2 296.6L166.5 296.2L166.9 295.9L167.3 295.6L168 295.4L168.5 295.4L169 295.5L169.5 295.7L170 296L170.5 296.4L171 296.6L171.5 296.8L172 296.9L172.8 296.9L173.5 296.9L174 296.9L174.8 296.8L175.5 296.7L176.2 296.6L176.8 296.6L177.5 296.6L178.3 296.6L179 296.6L179.8 296.5L180.5 296.5L181.3 296.5L182 296.4L182.5 296.3L183.3 296.4L183.8 296.6L184.3 296.9L184.6 297.1L185 297.5L185.4 297.9L185.7 298.4L185.9 298.9L185.9 299.6L185.7 300.1L185.4 300.6L185 301.1L184.7 301.4L184.3 301.7L183.8 302L183.3 302.3L182.9 302.6L182.5 303L182.1 303.4L181.7 303.6L181.2 303.9L180.5 304L179.8 303.9L179.3 303.8L178.5 303.7L177.8 303.9L177.3 304.1L176.8 304.3L176.2 304.4ZM180.9 300.4L181.2 299.9L180.8 299.6L180 299.6L179.7 299.9L179.8 300.4L180.5 300.5Z" fill="#000" fill-opacity="0.04" fill-rule="evenodd" stroke="#505050" stroke-opacity="0.7" stroke-width="0.42"/>
<path d="M184.5 283.9L184 283.7L184 283.4L184.5 283.1L184.8 283.4L184.6 283.9ZM176.3 303.9L175.5 304.1L174.8 304.1L174 303.9L173.5 303.7L173 303.5L172.3 303.4L171.5 303.6L171 303.7L170.4 303.9L170 303.8L169.5 303.6L169.2 303.1L169 302.6L168.8 302L168.5 301.6L168 301.3L167.3 301.3L166.5 301.3L166.2 300.9L166.1 300.1L166 299.6L165.9 298.9L166 298.1L166.1 297.6L166.3 297.1L166.7 296.6L167 296.3L167.5 296L168 295.8L168.8 295.9L169.3 296.1L169.8 296.4L170.2 296.6L170.6 296.9L171.3 297.1L171.8 297.2L172.5 297.3L173 297.4L173.6 297.4L174.3 297.3L175 297.3L175.8 297.2L176.3 297.1L177 297L177.8 297L178.5 297L179.3 297L180 297L180.8 297L181.5 297L182.3 296.9L183 296.9L183.6 297.1L184 297.4L184.5 297.8L184.9 298.1L185.2 298.6L185.3 299.1L185.2 299.6L185 300.1L184.7 300.6L184.3 301.1L183.9 301.4L183.5 301.7L183 302.1L182.7 302.4L182.3 302.8L181.9 303.1L181.5 303.4L180.8 303.6L180.3 303.6L179.8 303.5L179.3 303.4L178.6 303.1L178 303.1L177.5 303.3L177 303.6L176.5 303.8ZM181.2 300.6L181.6 300.4L181.8 299.9L181.5 299.4L181 299.2L180.5 299.1L180 299.2L179.5 299.4L179.2 299.9L179.3 300.4L179.8 300.7L180.5 300.8L181.2 300.6Z" fill="#000" fill-opacity="0.04" fill-rule="evenodd" stroke="#505050" stroke-opacity="0.7" stroke-width="0.42"/>
<path d="M175.5 303.7L174.8 303.7L174.3 303.6L173.7 303.4L173.3 303.1L172.5 302.9L171.8 303L171.3 303.1L170.5 303.3L169.9 303.1L169.6 302.6L169.3 302.1L169.1 301.6L168.8 301.3L168.3 300.9L167.8 300.7L167.3 300.6L166.8 300.4L166.5 299.9L166.3 299.1L166.3 298.6L166.3 298.1L166.5 297.5L166.8 297.1L167.2 296.6L167.6 296.4L168.3 296.2L169 296.4L169.5 296.6L169.9 296.9L170.3 297.1L170.8 297.4L171.5 297.6L172 297.7L172.7 297.9L173.3 298.1L173.8 298.3L173.8 298.9L173.8 299.4L173.9 299.9L174.3 300.4L174.8 300.1L175 299.6L174.9 299.1L174.6 298.6L174.5 298.2L175 298L175.5 297.8L176 297.6L176.8 297.4L177.3 297.4L177.8 297.4L178.5 297.5L179.3 297.6L180 297.6L180.6 297.6L181.3 297.7L182 297.8L182.8 297.7L183.5 297.9L184 298.1L184.3 298.4L184.7 298.9L184.6 299.6L184.4 300.1L184.1 300.6L183.8 300.9L183.3 301.4L183 301.6L182.6 302.1L182.3 302.4L181.8 302.9L181.4 303.1L180.8 303.3L180 303.3L179.5 303.1L179 302.8L178.5 302.6L177.8 302.6L177.3 302.8L176.8 303.1L176.3 303.4L175.8 303.6ZM181.3 300.9L182 300.6L182.3 300.3L182.4 299.6L182.2 299.1L181.8 298.7L181.3 298.5L180.5 298.6L180 298.7L179.5 298.9L179.1 299.4L178.9 299.9L179 300.6L179.3 300.9L180 301L180.8 301L181.3 300.9Z" fill="#000" fill-opacity="0.05" fill-rule="evenodd" stroke="#505050" stroke-opacity="0.7" stroke-width="0.42"/>
<path d="M175.3 303.2L174.5 303.1L174.1 302.9L173.8 302.6L173.3 302.3L172.5 302.3L172 302.4L171.3 302.5L170.5 302.5L170.1 302.1L169.8 301.8L169.5 301.4L169.1 300.9L168.8 300.6L168.3 300.3L167.8 300.1L167.2 299.9L166.8 299.4L166.7 298.9L166.8 298.1L166.9 297.6L167.3 297.1L167.6 296.9L168.3 296.7L169 296.9L169.5 297.1L169.8 297.4L170.3 297.6L170.9 297.9L171.5 298L172 298.2L172.5 298.5L172.8 298.9L173 299.4L173.3 300.1L173.4 300.6L173.7 301.1L174 301.4L174.5 301.3L175 300.9L175.3 300.6L175.6 300.1L175.8 299.4L175.9 298.9L176.1 298.4L176.5 298L177 297.9L177.8 297.9L178.3 298L178.8 298.3L178.9 298.9L178.7 299.4L178.5 300L178.5 300.4L178.8 301L179.3 301.3L180 301.3L180.8 301.2L181.5 301.1L182 301.1L182.4 301.4L182.2 301.9L181.9 302.4L181.5 302.7L181 303L180.3 303L179.8 302.8L179.3 302.5L178.8 302.1L178.3 302L177.5 302.1L177 302.2L176.5 302.5L176 302.9L175.5 303.1Z" fill="#000" fill-opacity="0.05" fill-rule="evenodd" stroke="#505050" stroke-opacity="0.7" stroke-width="0.42"/>
<path d="M172 301.7L171.3 301.7L170.8 301.6L170.3 301.4L169.8 300.9L169.5 300.6L169.1 300.1L168.8 299.8L168.3 299.6L167.8 299.4L167.4 298.9L167.3 298.1L167.6 297.6L168 297.3L168.8 297.3L169.2 297.6L169.6 297.9L170 298.2L170.7 298.4L171.3 298.5L171.8 298.7L172.2 299.1L172.5 299.6L172.7 300.1L172.8 300.6L172.8 301.1L172.3 301.6ZM176.8 301.6L176 301.7L175.9 301.1L176 300.5L176.2 299.9L176.4 299.4L176.7 298.9L177 298.6L177.8 298.5L178.2 298.9L178.2 299.6L178.1 300.4L178.1 301.1L177.8 301.4L177 301.6ZM180.5 302.6L180 302.5L179.7 302.1L180 301.6L180.5 301.5L181.3 301.6L181.6 301.9L181.3 302.4L180.8 302.6Z" fill="#000" fill-opacity="0.05" fill-rule="evenodd" stroke="#505050" stroke-opacity="0.7" stroke-width="0.42"/>
</g>
<rect x="165.4" y="261" width="58.9" height="59.3" fill="none" stroke="#8c8c8c" stroke-width="0.7"/>
<line x1="190.7" y1="261" x2="190.7" y2="320.3" stroke="#666" stroke-width="0.7" stroke-linecap="butt"/>
<line x1="165.4" y1="291" x2="224.3" y2="291" stroke="#666" stroke-width="0.7" stroke-linecap="butt"/>
<text x="167" y="270" font-size="6.9" text-anchor="start" fill="#1c1c1c" stroke="#1c1c1c" stroke-width="0.22">8.7</text>
<text x="210.6" y="270" font-size="6.9" text-anchor="start" fill="#1c1c1c" stroke="#1c1c1c" stroke-width="0.22">11.7</text>
<text x="167" y="319" font-size="6.9" text-anchor="start" fill="#1c1c1c" stroke="#1c1c1c" stroke-width="0.22">75.0</text>
<text x="210" y="319" font-size="6.9" text-anchor="start" fill="#1c1c1c" stroke="#1c1c1c" stroke-width="0.22">4.7</text>
</g>
<g>
<clipPath id="cp23"><rect x="166" y="331.5" width="58.6" height="56.9"/></clipPath>
<g clip-path="url(#cp23)">
<path d="M205.1 369.6L204.4 369.6L203.9 369.5L203.4 369.4L202.6 369.2L201.9 369.1L201.1 369.1L200.6 369.1L200 368.9L199.6 368.6L199.1 368.2L198.8 367.9L198.4 367.5L197.9 367.2L197.4 367.1L196.8 366.9L196.3 366.6L195.9 366.2L195.6 365.8L195.4 365.2L195.2 364.6L195.1 364L194.9 363.4L194.6 362.9L194.4 362.6L194 362.1L193.7 361.6L193.5 361.1L193.5 360.4L193.5 359.6L193.5 358.9L193.4 358.1L193.3 357.6L193.2 356.9L193.3 356.1L193.4 355.6L193.5 354.9L193.4 354.1L193.3 353.6L193.2 352.9L193.1 352.4L193.1 351.6L193.2 351.1L193.4 350.4L193.5 349.9L193.4 349.1L193.3 348.6L193.1 348L192.9 347.4L192.8 346.9L192.6 346.1L192.6 345.6L192.6 344.9L192.7 344.4L192.9 343.7L193.1 343.1L193.2 342.6L193.4 341.9L193.4 341.4L193.4 340.6L193.5 339.9L193.6 339.1L193.7 338.6L193.9 338.1L194.1 337.4L194.4 336.9L194.6 336.6L195 336.1L195.4 335.6L195.5 335.1L195.6 334.4L195.7 333.9L195.9 333.3L196.1 332.8L196.4 332.4L196.7 331.9L196.9 331.4L197.1 330.8L197.5 330.4L198 330.1L198.6 330L199.4 330.1L199.9 330.2L200.6 330.1L201.1 329.9L201.6 329.7L202.1 329.5L202.6 329.4L203.4 329.4L203.9 329.4L204.6 329.6L205.1 329.7L205.6 329.9L206.1 330.3L206.4 330.6L206.9 331.1L207.2 331.4L207.6 331.7L208.1 331.9L208.7 332.1L209.3 332.4L209.7 332.6L210.1 333.1L210.4 333.4L210.6 333.9L210.9 334.5L211.2 334.9L211.6 335.2L212.1 335.6L212.4 335.9L212.7 336.4L212.8 337.1L212.9 337.6L213 338.4L213.1 338.9L213.2 339.6L213.2 340.4L213.1 341.1L213.2 341.9L213.3 342.6L213.2 343.4L213.1 344L213.1 344.6L213.1 345.1L213.2 345.9L213.3 346.6L213.3 347.4L213.3 348.1L213.3 348.9L213.3 349.6L213.4 350.1L213.5 350.9L213.5 351.6L213.6 352.4L213.4 353L213.1 353.5L212.8 353.9L212.5 354.4L212.3 354.9L212 355.4L211.7 355.9L211.4 356.4L211.1 356.9L211 357.4L211 358.1L211.1 358.8L211.2 359.4L211.4 360.1L211.4 360.6L211.5 361.4L211.5 362.1L211.4 362.9L211.2 363.4L211 363.9L210.8 364.4L210.5 364.9L210.2 365.4L210 365.9L209.8 366.4L209.6 366.9L209.4 367.4L209 367.9L208.6 368.1L208.1 368.5L207.6 368.8L207.1 369L206.6 369.3L206.1 369.4L205.4 369.6ZM181.9 371.4L181.1 371.5L180.4 371.4L179.9 371.2L179.5 370.9L179.1 370.4L178.9 369.9L178.9 369.4L178.9 368.6L178.9 367.9L178.8 367.1L178.9 366.4L179 365.9L179.3 365.4L179.4 364.9L179.5 364.1L179.6 363.4L179.8 362.9L180.1 362.4L180.4 362L180.8 361.6L181.1 361.4L181.6 361.1L182.1 360.6L182.4 360.1L182.6 359.6L182.7 359.1L183 358.6L183.4 358.1L183.6 357.9L184 357.4L184.3 356.9L184.3 356.1L184 355.6L183.6 355.3L183.2 354.9L182.9 354.5L182.5 354.1L182.2 353.6L181.9 353.1L181.8 352.6L181.6 351.9L181.6 351.4L181.5 350.6L181.4 349.9L181.3 349.4L181.3 348.6L181.3 347.9L181.2 347.1L181.1 346.6L180.9 346.1L180.7 345.4L180.6 344.9L180.6 344.1L180.6 343.4L180.6 342.9L180.7 342.1L180.8 341.4L181 340.9L181.4 340.4L181.6 340L182 339.6L182.4 339.3L182.9 339L183.6 338.9L184.4 339L184.9 339.2L185.3 339.6L185.5 340.1L185.6 340.6L185.8 341.4L185.9 341.9L186.2 342.4L186.6 342.6L187.4 342.8L187.9 342.9L188.4 343.2L188.8 343.6L189 344.1L189.2 344.6L189.3 345.4L189.4 345.9L189.5 346.6L189.6 347.1L189.7 347.9L189.7 348.6L189.8 349.4L189.9 349.9L190.1 350.6L190.1 351.2L190.2 351.9L190.2 352.6L190.3 353.4L190.2 354.1L190.2 354.9L190.3 355.6L190.4 356.1L190.5 356.9L190.4 357.6L190.2 358.1L190.1 358.6L189.8 359.1L189.5 359.6L189.2 360.1L188.9 360.6L188.8 361.1L188.8 361.9L188.8 362.6L188.8 363.4L188.8 364.1L188.8 364.9L188.8 365.6L188.6 366.1L188.3 366.6L188 367.1L187.6 367.6L187.5 368.1L187.3 368.6L187.1 369.3L186.9 369.7L186.6 370.1L186.1 370.5L185.6 370.8L185.1 371L184.4 371.1L183.6 371.1L183.1 371.1L182.4 371.3L181.9 371.4Z" fill="#000" fill-opacity="0.01" fill-rule="evenodd" stroke="#505050" stroke-opacity="0.7" stroke-width="0.42"/>
<path d="M205.4 368.4L204.6 368.5L203.9 368.5L203.1 368.4L202.8 368.4L202.1 368.4L201.4 368.5L200.7 368.4L200.1 368.1L199.8 367.9L199.4 367.5L199.1 367.1L198.6 366.6L198.3 366.4L197.8 366.1L197.4 365.8L196.9 365.4L196.7 364.9L196.5 364.4L196.4 363.9L196.2 363.1L196 362.6L195.8 362.1L195.5 361.6L195.1 361.1L194.9 360.6L194.8 360.1L194.8 359.4L194.8 358.6L194.8 357.9L194.8 357.1L194.8 356.4L194.8 355.6L194.8 354.9L194.8 354.1L194.9 353.4L194.8 352.6L194.7 351.9L194.7 351.1L194.8 350.4L194.7 349.6L194.5 349.1L194.3 348.6L194.1 347.9L194 347.4L193.9 346.6L193.8 346.1L193.7 345.4L193.8 344.6L193.9 343.9L194 343.4L194.1 342.6L194.1 342.1L194.2 341.4L194.4 340.6L194.5 340.1L194.6 339.4L194.7 338.9L194.9 338.4L195.1 337.8L195.4 337.4L195.8 336.9L196.1 336.6L196.6 336.1L196.9 335.9L197.2 335.4L197.3 334.6L197.5 334.1L197.8 333.6L198.1 333.3L198.6 333L199.1 332.8L199.9 332.7L200.6 332.8L201.4 332.8L202.1 332.9L202.6 333L203.1 333.2L203.6 333.4L204.1 333.4L204.2 332.6L204.2 331.9L204.9 331.7L205.4 331.9L205.9 332.2L206.4 332.4L206.9 332.6L207.4 332.9L207.9 333.2L208.4 333.6L208.5 334.1L208.4 334.9L208.1 335.4L207.9 335.8L207.6 336.4L207.6 336.6L207.9 337.1L208.6 337.3L209.4 337.2L210.1 337.1L210.6 337.1L211.1 337.3L211.4 337.6L211.6 338.4L211.6 338.9L211.6 339.4L211.6 340.1L211.7 340.6L211.8 341.4L211.9 342.1L211.9 342.6L211.8 343.1L211.6 343.7L211.4 344.4L211.3 344.9L211.1 345.4L210.9 345.9L210.6 346.4L210.4 346.9L210.3 347.6L210.5 348.1L210.9 348.6L211.3 348.9L211.6 349.2L211.9 349.6L212.1 350.4L212.1 351.1L212 351.9L211.9 352.4L211.6 353.1L211.4 353.6L211.2 354.1L210.9 354.6L210.6 355L210.3 355.4L209.9 355.9L209.6 356.2L209.4 356.6L209.3 357.4L209.3 358.1L209.4 358.6L209.5 359.4L209.4 359.9L209.1 360.6L208.9 361.1L208.7 361.6L208.9 362.4L209.1 362.9L209.3 363.4L209.4 364.1L209.1 364.9L208.9 365.3L208.6 365.7L208.4 366.1L208.1 366.6L207.7 367.1L207.4 367.4L206.9 367.7L206.4 368L205.9 368.2L205.4 368.4ZM181.9 370.7L181.1 370.7L180.6 370.6L180.1 370.3L179.9 369.9L179.8 369.1L179.9 368.4L179.9 367.9L180 367.1L180.1 366.4L180.2 365.9L180.4 365.2L180.5 364.6L180.6 363.9L180.7 363.4L180.9 362.9L181.4 362.4L181.9 362.2L182.4 362.1L183.1 362L183.9 361.9L184.4 361.9L185.1 361.7L185.7 361.6L186.2 361.4L186.6 361.1L186.8 360.4L186.6 359.9L186.4 359.2L186.3 358.6L186.4 358.1L186.6 357.5L186.9 356.9L187.1 356.4L187.1 356L186.6 355.6L186.1 355.5L185.6 355.3L185 355.1L184.5 354.9L184 354.6L183.6 354.4L183.1 353.9L182.9 353.6L182.6 353.1L182.4 352.6L182.3 351.9L182.2 351.1L182.2 350.4L182.1 349.8L182.1 349.1L182.1 348.6L182.2 347.9L182.2 347.1L182.1 346.6L181.9 346L181.7 345.4L181.6 344.8L181.6 344.1L181.6 343.6L181.7 342.9L181.9 342.1L182.1 341.6L182.4 341.3L182.9 341L183.5 341.1L183.7 341.6L183.8 342.4L183.9 343L184.1 343.5L184.4 343.9L185.1 344.1L185.9 344L186.6 344L187.1 344.2L187.6 344.4L188.1 344.9L188.3 345.4L188.4 345.9L188.5 346.6L188.6 347.4L188.6 348.1L188.6 348.9L188.6 349.6L188.7 350.1L188.9 350.8L189.1 351.4L189.2 351.9L189.2 352.6L189.2 353.4L189.1 353.9L188.9 354.6L188.7 355.1L188.5 355.6L188.6 356.2L188.9 356.9L189 357.4L189 358.1L188.8 358.6L188.6 359.1L188.3 359.6L187.9 360.1L187.6 360.6L187.6 361.1L187.7 361.6L187.9 362.4L187.9 362.9L187.9 363.6L187.9 364.1L187.7 364.9L187.6 365.4L187.4 365.9L187.1 366.4L186.9 367L186.7 367.6L186.6 368.4L186.5 368.9L186.2 369.4L185.9 369.7L185.4 370L184.9 370.2L184.1 370.3L183.6 370.4L182.9 370.5L182.1 370.6ZM204.3 360.1L204.6 359.9L204.7 359.1L204.4 358.7L203.8 358.9L203.4 359.4L203.4 359.7L203.7 360.1L204.3 360.1Z" fill="#000" fill-opacity="0.02" fill-rule="evenodd" stroke="#505050" stroke-opacity="0.7" stroke-width="0.42"/>
<path d="M201.6 367.9L200.9 367.9L200.4 367.7L200 367.4L199.6 366.9L199.4 366.5L199.1 366.1L198.7 365.6L198.4 365.3L198.1 364.9L197.7 364.4L197.4 363.9L197.1 363.4L196.9 362.9L196.8 362.4L196.6 361.6L196.5 361.1L196.2 360.6L195.9 360.1L195.8 359.6L195.7 358.9L195.6 358.4L195.5 357.6L195.5 356.9L195.4 356.1L195.4 355.4L195.4 354.6L195.5 353.9L195.6 353.1L195.7 352.6L195.7 351.9L195.9 351.1L196 350.6L195.9 350.1L195.6 349.5L195.4 349.1L195.1 348.6L194.9 347.9L194.9 347.4L194.8 346.6L194.7 345.9L194.6 345.4L194.5 344.6L194.6 343.9L194.6 343.1L194.6 342.5L194.7 341.9L194.8 341.1L194.9 340.6L195.1 340L195.3 339.4L195.5 338.9L195.7 338.4L196 337.9L196.4 337.4L196.6 337.1L197.1 336.7L197.6 336.4L197.9 336.1L198.3 335.6L198.4 335.1L198.6 334.4L198.9 334L199.4 333.6L199.9 333.5L200.6 333.5L201.1 333.6L201.9 333.9L202.4 334.1L202.9 334.3L203.4 334.5L203.9 334.7L204.4 334.9L205.1 335L205.9 334.9L206.2 334.6L206.6 334.3L207.1 334.6L207.1 334.9L206.9 335.6L206.8 336.1L206.9 336.9L207.1 337.3L207.4 337.6L208.1 337.9L208.6 338L209.4 338L209.9 338.2L210.3 338.6L210.5 339.1L210.5 339.9L210.6 340.6L210.6 341.4L210.6 342L210.7 342.6L210.6 343.4L210.6 343.9L210.4 344.6L210.2 345.1L210.1 345.6L209.9 346.2L209.7 346.9L209.7 347.6L209.8 348.4L210.1 348.9L210.4 349.3L210.6 349.6L210.9 350.1L211.1 350.9L211 351.6L210.9 352.1L210.6 352.6L210.3 353.1L210 353.6L209.7 354.1L209.5 354.6L209.2 355.1L208.9 355.6L208.7 356.1L208.6 356.6L208.6 357.4L208.6 358.1L208.6 358.6L208.6 359.1L208.4 359.6L208 360.1L207.6 360.5L207.1 360.8L206.6 360.9L206 361.1L206.1 361.7L206.4 362.1L206.9 362.6L207.3 362.9L207.6 363.2L208 363.6L208 364.4L207.7 364.9L207.4 365.4L207.1 365.7L206.9 366.1L206.4 366.6L206 366.9L205.5 367.1L204.9 367.3L204.1 367.2L203.4 367.2L202.9 367.4L202.4 367.7L201.8 367.9ZM186.9 354.7L186.1 354.7L185.4 354.7L184.9 354.5L184.4 354.3L183.9 354L183.4 353.6L183.1 353.2L182.9 352.7L182.7 352.1L182.7 351.4L182.7 350.6L182.7 349.9L182.7 349.1L182.8 348.4L182.9 347.8L182.9 347.1L183 346.4L183.1 345.7L183.6 345.6L184.1 345.7L184.9 345.6L185.4 345.4L185.9 345.1L186.4 345L186.9 345.1L187.4 345.5L187.6 346.1L187.7 346.6L187.7 347.4L187.7 348.1L187.7 348.9L187.7 349.6L187.7 350.4L187.9 351.1L188.1 351.6L188.4 352.1L188.5 352.6L188.4 353.4L188.2 353.9L187.9 354.3L187.4 354.6L186.9 354.7ZM205.8 360.9L205.6 360.1L205.6 359.6L205.5 358.9L205.3 358.4L205 357.9L204.4 357.8L203.9 358.1L203.5 358.4L203.1 358.7L202.7 359.1L202.5 359.6L202.6 360.4L202.9 360.7L203.4 360.9L204.1 361L204.9 361.1L205.6 361ZM183.4 369.9L182.6 370L181.9 370.1L181.1 370L180.6 369.7L180.4 369.1L180.5 368.4L180.6 367.6L180.7 367.1L180.7 366.4L180.8 365.6L180.9 365.1L181.1 364.4L181.2 363.9L181.5 363.4L181.9 363L182.4 362.9L183.1 362.8L183.9 362.8L184.6 362.6L185.1 362.5L185.9 362.4L186.6 362.5L187 362.9L187.2 363.4L187.1 364.1L187 364.6L186.9 365.2L186.6 365.8L186.4 366.4L186.3 366.9L186.2 367.6L186.1 368.1L185.9 368.8L185.6 369.1L185.1 369.5L184.6 369.7L183.9 369.8L183.4 369.9Z" fill="#000" fill-opacity="0.03" fill-rule="evenodd" stroke="#505050" stroke-opacity="0.7" stroke-width="0.42"/>
<path d="M201.9 367.2L201.1 367.3L200.6 367.1L200.1 366.7L199.9 366.4L199.6 365.9L199.3 365.4L199 364.9L198.7 364.4L198.4 363.9L198.1 363.6L197.8 363.1L197.5 362.6L197.4 362.1L197.3 361.4L197.1 360.9L196.9 360.3L196.6 359.7L196.4 359.1L196.2 358.6L196.1 358L196 357.4L195.9 356.6L195.9 355.9L195.9 355.1L195.9 354.4L196 353.6L196.1 353.1L196.3 352.4L196.6 351.9L196.9 351.6L197.4 351.2L197.9 350.9L198.3 350.6L198.6 350.1L198.7 349.6L198.9 348.9L199 348.4L199.1 347.6L198.8 347.1L198.1 347L197.7 347.4L197.5 347.9L197.4 348.6L197.1 349.1L196.4 348.9L196.1 348.6L195.8 348.1L195.7 347.4L195.6 346.9L195.5 346.1L195.4 345.6L195.3 344.9L195.2 344.1L195.1 343.6L195.1 342.9L195.1 342.1L195.2 341.6L195.4 340.9L195.5 340.4L195.8 339.9L196 339.4L196.2 338.9L196.4 338.4L196.7 337.9L197.1 337.5L197.6 337.1L197.9 336.9L198.4 336.5L198.8 336.1L199.1 335.6L199.2 335.1L199.5 334.6L199.9 334.3L200.6 334.3L201.1 334.5L201.7 334.6L202.4 334.8L202.9 334.9L203.6 335.1L204.1 335.3L204.6 335.5L205.1 335.7L205.6 336L206 336.4L206.3 336.9L206.5 337.4L206.9 337.8L207.4 338.1L207.9 338.3L208.4 338.4L208.9 338.6L209.4 338.9L209.6 339.4L209.7 340.1L209.6 340.8L209.4 341.4L209.1 341.9L209 342.4L209.1 343.1L209.3 343.6L209.4 344.1L209.5 344.9L209.4 345.6L209.3 346.1L209.2 346.9L209.2 347.6L209.3 348.4L209.4 348.9L209.7 349.4L210 349.9L210.3 350.4L210.4 351.1L210.2 351.9L209.9 352.3L209.6 352.6L209.2 353.1L208.9 353.6L208.7 354.1L208.6 354.6L208.4 355.1L208.1 355.8L208 356.4L208 357.1L208 357.9L208 358.6L207.8 359.1L207.4 359.5L206.9 359.7L206.4 359.4L206.1 358.9L206 358.4L205.8 357.9L205.5 357.4L204.9 357.2L204.1 357.3L203.7 357.6L203.3 357.9L202.9 358.2L202.4 358.6L202.1 358.9L201.7 359.4L201.6 359.9L201.7 360.4L201.9 360.9L202.3 361.4L202.7 361.6L203.4 361.8L203.9 361.9L204.4 362.1L204.9 362.6L205.2 362.9L205.6 363.3L206 363.6L206.2 364.1L206.2 364.9L206 365.4L205.6 365.7L204.9 365.7L204.4 365.4L203.9 365.3L203.4 365.4L202.9 365.8L202.6 366.1L202.3 366.6L201.9 367.1ZM186.4 354.2L185.6 354.2L185 354.1L184.4 353.9L184 353.6L183.6 353.2L183.4 352.9L183.1 352.1L183.1 351.6L183.1 350.9L183.1 350.1L183.1 349.6L183.3 348.9L183.4 348.4L183.6 347.7L183.9 347.3L184.4 346.9L184.9 346.7L185.4 346.6L186.1 346.4L186.6 346.8L186.8 347.4L186.9 347.9L187 348.6L187.1 349.4L187 350.1L186.9 350.9L187.1 351.6L187.3 352.1L187.6 352.6L187.7 353.1L187.4 353.6L187.1 353.9L186.5 354.1ZM183.6 369.4L182.9 369.6L182.1 369.6L181.4 369.4L181.1 369.1L181 368.4L181.1 367.7L181.2 367.1L181.2 366.4L181.2 365.6L181.4 365.1L181.6 364.4L181.9 363.9L182.2 363.6L182.9 363.5L183.6 363.4L184.1 363.3L184.9 363.2L185.4 363.1L185.9 363.2L186.4 363.6L186.5 364.1L186.4 364.9L186.2 365.4L186 365.9L185.9 366.4L185.7 367.1L185.6 367.9L185.5 368.4L185.1 368.8L184.6 369.1L184.1 369.3L183.6 369.4Z" fill="#000" fill-opacity="0.04" fill-rule="evenodd" stroke="#505050" stroke-opacity="0.7" stroke-width="0.42"/>
<path d="M201.6 366.4L200.9 366.6L200.4 366.1L200.1 365.8L199.9 365.3L199.6 364.6L199.5 364.1L199.1 363.7L198.8 363.4L198.4 362.9L198.1 362.5L197.9 361.9L197.9 361.4L197.7 360.6L197.5 360.1L197.2 359.6L197 359.1L196.8 358.6L196.6 358L196.5 357.4L196.4 356.8L196.3 356.1L196.3 355.4L196.3 354.6L196.4 354L196.5 353.4L196.6 352.9L196.9 352.4L197.4 351.9L197.9 351.6L198.4 351.4L198.7 351.1L199.1 350.7L199.3 350.1L199.4 349.4L199.4 348.9L199.5 348.1L199.5 347.4L199.3 346.9L198.9 346.6L198.1 346.5L197.4 346.5L196.6 346.4L196.4 346.1L196.1 345.6L195.9 344.9L195.8 344.4L195.6 343.6L195.6 343.1L195.5 342.4L195.6 341.7L195.8 341.1L196 340.6L196.2 340.1L196.5 339.6L196.7 339.1L197 338.6L197.3 338.1L197.6 337.8L198.1 337.4L198.4 337.1L198.9 336.8L199.3 336.4L199.6 336L200 335.6L200.5 335.4L201.1 335.3L201.9 335.3L202.6 335.3L203.2 335.4L203.9 335.6L204.4 335.8L204.9 336L205.4 336.4L205.6 336.7L205.9 337.1L206.2 337.6L206.6 338.1L207 338.4L207.6 338.6L208.1 338.8L208.6 339.1L208.9 339.4L209.1 340.1L208.9 340.9L208.6 341.4L208.4 341.9L208.2 342.4L208.2 343.1L208.4 343.8L208.6 344.4L208.7 344.9L208.8 345.6L208.8 346.4L208.8 347.1L208.7 347.9L208.8 348.6L209 349.1L209.2 349.6L209.5 350.1L209.7 350.6L209.7 351.4L209.4 351.9L209.1 352.2L208.6 352.6L208.3 352.9L207.9 353.4L207.7 353.9L207.7 354.6L207.6 355.1L207.4 355.9L207.3 356.4L207.2 357.1L207.1 357.6L206.6 357.5L206.4 357.1L205.9 356.8L205.4 356.6L204.8 356.6L204.1 356.8L203.6 357.1L203.2 357.4L202.9 357.6L202.4 358L201.9 358.3L201.4 358.6L201.1 358.9L200.8 359.4L200.8 360.1L201 360.6L201.2 361.1L201.4 361.7L201.6 362.1L202.1 362.4L202.9 362.5L203.4 362.7L203.9 363L204.1 363.5L204.1 363.9L203.7 364.4L203.3 364.6L202.9 365L202.4 365.4L202.1 365.8L201.9 366.1ZM186.1 353.7L185.4 353.8L184.8 353.6L184.3 353.4L183.9 352.9L183.6 352.5L183.5 351.9L183.5 351.1L183.5 350.4L183.6 349.6L183.8 349.1L184 348.6L184.3 348.1L184.6 347.8L185.4 347.7L185.9 347.9L186.3 348.4L186.4 348.9L186.5 349.6L186.4 350.4L186.4 350.9L186.4 351.4L186.6 352.1L186.7 352.6L186.6 353.3L186.2 353.6ZM182.9 369.1L182.4 369.1L181.8 368.9L181.6 368.4L181.6 367.9L181.6 367.1L181.6 366.6L181.6 366L181.8 365.4L182 364.9L182.4 364.4L182.9 364.2L183.4 364.1L184.1 363.9L184.6 363.8L185.4 363.8L185.8 364.1L185.8 364.9L185.6 365.6L185.5 366.1L185.4 366.6L185.2 367.4L185.1 367.9L184.8 368.4L184.4 368.7L183.9 368.9L183.1 369.1Z" fill="#000" fill-opacity="0.04" fill-rule="evenodd" stroke="#505050" stroke-opacity="0.7" stroke-width="0.42"/>
<path d="M200.1 362.7L199.4 362.6L199.1 362.4L198.8 361.9L198.7 361.1L198.6 360.6L198.4 360.1L198.1 359.6L197.8 359.1L197.5 358.6L197.3 358.1L197.1 357.6L196.9 357L196.8 356.4L196.7 355.6L196.7 354.9L196.8 354.1L196.9 353.5L197.1 352.9L197.4 352.6L197.9 352.2L198.4 351.9L198.9 351.7L199.4 351.4L199.6 351.1L199.8 350.4L199.8 349.6L199.8 348.9L199.9 348.4L199.9 347.6L199.9 347.1L199.6 346.6L199.1 346.3L198.6 346.1L197.9 345.9L197.4 345.7L196.9 345.4L196.6 344.9L196.5 344.4L196.4 343.9L196.2 343.1L196.1 342.6L196.1 342.1L196.2 341.4L196.4 340.9L196.7 340.4L197 339.9L197.3 339.4L197.6 338.9L197.9 338.4L198.1 338.1L198.6 337.6L198.9 337.4L199.4 337L199.8 336.6L200.2 336.4L200.7 336.1L201.4 335.9L201.9 335.8L202.6 335.7L203.4 335.8L203.9 336L204.4 336.2L204.9 336.5L205.3 336.9L205.6 337.4L205.9 337.8L206.1 338.2L206.6 338.6L207.1 338.9L207.6 339.1L208 339.4L208.4 339.9L208.4 340.4L208.2 340.9L208 341.4L207.8 341.9L207.7 342.6L207.7 343.4L207.7 344.1L207.8 344.9L207.9 345.4L208.1 346.1L208.1 346.9L208.1 347.6L208 348.4L208 349.1L208.3 349.6L208.6 350.1L208.9 350.5L208.9 351.1L208.6 351.6L208.3 351.9L207.9 352.1L207.4 352.4L206.9 352.9L206.6 353.3L206.5 353.9L206.6 354.6L206.4 355.4L206.1 355.7L205.6 355.9L204.9 356L204.3 356.1L203.6 356.3L203.1 356.5L202.6 356.8L202.2 357.1L201.9 357.4L201.4 357.6L200.9 357.9L200.4 358.4L200.1 358.8L199.9 359.4L199.8 359.9L199.9 360.6L200.1 361L200.3 361.6L200.4 362.1L200.2 362.6ZM202.1 343.4L202.2 342.9L202 342.4L201.6 342L201.1 341.8L200.7 342.1L200.9 342.9L201.1 343.3L201.6 343.5ZM185.4 353.2L184.9 353.1L184.4 352.8L184.1 352.4L184 351.6L184 350.9L184.1 350.1L184.3 349.6L184.6 349.1L185 348.9L185.4 348.9L185.8 349.4L185.8 350.1L185.8 350.9L185.8 351.6L185.9 352.1L185.9 352.8L185.5 353.1ZM202.1 355.6L202.6 355.1L202.7 354.6L202.5 354.1L202.1 353.8L201.4 353.8L201 354.1L200.8 354.6L200.9 355.1L201.4 355.6L201.9 355.7ZM201.4 365.4L200.8 365.4L200.5 364.9L200.5 364.1L200.6 363.6L201.1 363.3L201.9 363.3L202.4 363.5L202.7 363.9L202.5 364.4L202.1 364.8L201.8 365.1L201.4 365.4ZM183.4 368.4L182.6 368.4L182.4 368L182.3 367.4L182.2 366.6L182.3 365.9L182.5 365.4L182.9 365.1L183.4 364.8L183.9 364.6L184.6 364.5L185.1 364.9L185.1 365.2L185 365.9L184.9 366.4L184.7 367.1L184.5 367.6L184.1 368L183.6 368.3Z" fill="#000" fill-opacity="0.04" fill-rule="evenodd" stroke="#505050" stroke-opacity="0.7" stroke-width="0.42"/>
<path d="M199.1 358.1L198.4 358.2L198.1 357.9L197.7 357.4L197.4 356.9L197.3 356.4L197.2 355.6L197.2 354.9L197.2 354.1L197.4 353.4L197.6 353L198 352.6L198.5 352.4L199.1 352.1L199.6 352L200.1 351.7L200.4 351.3L200.4 350.6L200.3 350.1L200.2 349.4L200.2 348.6L200.3 347.9L200.2 347.1L200 346.6L199.6 346.1L199.2 345.9L198.6 345.7L198.1 345.5L197.6 345.1L197.4 344.8L197.1 344.1L197.1 343.6L197 342.9L196.9 342.3L196.9 341.6L197 341.1L197.3 340.6L197.6 340.1L197.8 339.6L198.1 339.1L198.3 338.6L198.6 338.2L199 337.9L199.4 337.5L199.8 337.1L200.3 336.9L200.8 336.6L201.4 336.4L201.9 336.2L202.4 336.1L203.1 336.1L203.6 336.2L204.1 336.4L204.6 336.7L205 337.1L205.3 337.6L205.5 338.1L205.8 338.6L206.1 338.9L206.6 339.2L207.1 339.5L207.6 339.9L207.7 340.4L207.6 340.9L207.4 341.6L207.3 342.1L207.2 342.9L207.2 343.6L207.1 344.1L206.9 344.8L206.6 345.3L206.4 345.7L206.2 346.4L206.1 346.9L206 347.6L206.1 348.4L206.2 348.9L206.5 349.4L206.8 349.9L207.1 350.4L207.3 350.9L207.1 351.4L206.7 351.9L206.4 352.2L205.9 352.6L205.6 352.9L205.1 353.3L205.1 353.8L205.3 354.4L205.1 354.9L204.6 355.2L204.1 355.1L204 354.4L204.2 353.9L204.1 353.4L203.4 353.3L202.6 353.2L202.1 353L201.4 352.9L201.1 352.9L200.6 353.3L200.4 353.9L200.3 354.4L200.3 355.1L200.4 355.8L200.4 356.4L200.2 356.9L199.9 357.3L199.6 357.6L199.1 358.1ZM202.1 344.1L202.6 343.8L202.7 343.1L202.6 342.6L202.4 342.1L202 341.6L201.6 341.3L201.1 341L200.4 341.1L200.1 341.4L200 342.1L200.1 342.6L200.4 343.1L200.7 343.6L201.1 344L201.6 344.2L202.1 344.1ZM183.6 366.9L183.3 366.6L183.4 366.1L183.9 365.8L184 366.4L183.7 366.9Z" fill="#000" fill-opacity="0.05" fill-rule="evenodd" stroke="#505050" stroke-opacity="0.7" stroke-width="0.42"/>
<path d="M203.1 352.4L202.6 352.4L202 352.1L201.6 351.6L201.4 351.1L201.2 350.6L201 350.1L200.8 349.6L200.7 348.9L200.6 348.1L200.6 347.6L200.5 346.9L200.4 346.4L200.1 345.9L199.6 345.5L199.1 345.3L198.6 345.1L198.1 344.6L198 344.1L198.1 343.4L198.3 342.9L198.4 342.4L198.3 341.9L198.2 341.1L198.4 340.6L198.6 339.9L198.7 339.4L198.9 338.9L199.2 338.4L199.6 337.9L199.9 337.6L200.4 337.3L200.9 337.1L201.4 336.9L202.1 336.6L202.6 336.5L203.4 336.6L203.9 336.7L204.4 337.1L204.6 337.4L204.9 337.9L205 338.6L205.1 339.4L205.4 339.6L206.1 339.9L206.6 340.1L206.9 340.6L206.9 340.9L206.8 341.6L206.8 342.4L206.7 343.1L206.6 343.7L206.4 344.3L206.1 344.6L205.6 345.1L205.4 345.5L205.3 346.1L205.3 346.9L205.3 347.6L205.2 348.4L205.4 349.1L205.6 349.6L205.9 350.1L206 350.6L205.9 351.4L205.6 351.8L205.1 352.1L204.6 352.2L203.9 352.3L203.1 352.4ZM202.4 344.6L203.1 344.4L203.3 343.9L203.2 343.1L203 342.6L202.8 342.1L202.6 341.6L202.2 341.1L201.9 340.8L201.4 340.5L200.9 340.3L200.2 340.4L199.6 340.6L199.2 340.9L198.9 341.4L198.8 341.9L198.9 342.4L199.4 342.9L199.6 343.2L199.9 343.6L200.3 344.1L200.6 344.5L201.1 344.7L201.9 344.7L202.4 344.6ZM198.9 356.6L198.4 356.6L198 356.1L197.8 355.6L197.7 354.9L197.7 354.1L197.9 353.6L198.3 353.1L198.9 352.9L199.2 352.9L199.6 353.1L199.7 353.9L199.7 354.6L199.7 355.4L199.6 355.9L199.3 356.4L198.9 356.6Z" fill="#000" fill-opacity="0.05" fill-rule="evenodd" stroke="#505050" stroke-opacity="0.7" stroke-width="0.42"/>
<path d="M204.9 344.4L204.4 344.3L204 343.9L203.8 343.4L203.6 342.9L203.4 342.3L203.1 341.7L202.9 341.1L202.7 340.6L202.5 340.1L202 339.9L201.4 339.8L200.6 339.7L200.1 339.6L199.7 339.1L199.9 338.4L200.1 338.1L200.6 337.7L201.1 337.5L201.6 337.3L202.4 337.1L202.9 337.1L203.4 337.1L203.9 337.4L204.1 338.1L203.8 338.6L203.5 339.1L203.6 339.9L204 340.1L204.6 340.3L205.1 340.5L205.6 340.7L206.1 341.1L206.2 341.6L206.3 342.4L206.2 343.1L206 343.6L205.6 344.1L205.1 344.4ZM204.1 351.4L203.4 351.4L202.9 351.1L202.9 350.7L203.1 350.1L203.3 349.6L202.9 349.2L202.1 349.1L201.6 349L201.3 348.6L201.1 348L201 347.4L200.9 346.6L200.8 346.1L200.9 345.6L201.4 345.3L202.1 345.2L202.9 345.2L203.4 345.4L203.9 345.7L204.3 346.1L204.6 346.6L204.6 347.4L204.4 348L204.1 348.6L204 349.1L204.4 349.5L204.7 349.9L205 350.4L204.9 351.1L204.4 351.3Z" fill="#000" fill-opacity="0.05" fill-rule="evenodd" stroke="#505050" stroke-opacity="0.7" stroke-width="0.42"/>
</g>
<rect x="166" y="331.5" width="58.6" height="56.9" fill="none" stroke="#8c8c8c" stroke-width="0.7"/>
<line x1="191.6" y1="331.5" x2="191.6" y2="388.4" stroke="#666" stroke-width="0.7" stroke-linecap="butt"/>
<line x1="166" y1="360.3" x2="224.6" y2="360.3" stroke="#666" stroke-width="0.7" stroke-linecap="butt"/>
<text x="169.2" y="339.2" font-size="6.9" text-anchor="start" fill="#1c1c1c" stroke="#1c1c1c" stroke-width="0.22">11.1</text>
<text x="210.9" y="339.2" font-size="6.9" text-anchor="start" fill="#1c1c1c" stroke="#1c1c1c" stroke-width="0.22">76.1</text>
<text x="169.2" y="387.4" font-size="6.9" text-anchor="start" fill="#1c1c1c" stroke="#1c1c1c" stroke-width="0.22">7.3</text>
<text x="212.5" y="387.4" font-size="6.9" text-anchor="start" fill="#1c1c1c" stroke="#1c1c1c" stroke-width="0.22">5.5</text>
</g>
<g>
<clipPath id="cp24"><rect x="166.5" y="396" width="59.5" height="58.6"/></clipPath>
<g clip-path="url(#cp24)">
<path d="M198.9 424.6L198.1 424.8L197.5 424.6L196.9 424.5L196.1 424.4L195.6 424.3L195.1 424.1L194.6 423.8L194.1 423.5L193.6 423.4L192.9 423.4L192.4 423.5L191.8 423.6L191.1 423.8L190.6 423.9L189.9 424L189.1 424L188.4 423.9L187.9 423.8L187.2 423.6L186.7 423.4L186.3 423.1L185.9 422.8L185.5 422.4L185.1 421.9L184.9 421.6L184.5 421.1L184.1 420.7L183.7 420.4L183.1 420.1L182.6 420L182.1 419.7L181.8 419.4L181.5 418.9L181.4 418.4L181.2 417.6L181.2 416.9L181.2 416.1L181.1 415.4L181 414.9L180.7 414.4L180.4 413.9L180.1 413.6L179.9 413.1L179.7 412.4L179.8 411.6L180.1 411.1L180.4 410.8L180.7 410.4L181 409.9L181.3 409.4L181.4 408.9L181.4 408.1L181.3 407.6L181.1 407.1L181 406.4L181.1 405.6L181.2 405.1L181.4 404.6L181.6 404L181.8 403.4L182 402.9L182.2 402.4L182.4 401.9L182.8 401.4L183.1 401L183.6 400.7L184.1 400.5L184.6 400.4L185.4 400.1L185.9 400L186.4 399.8L186.9 399.6L187.4 399.4L188.1 399.1L188.6 399L189.1 398.9L189.9 398.7L190.4 398.5L190.9 398.2L191.4 397.9L191.7 397.6L192.1 397.3L192.6 397L193.1 396.9L193.9 396.8L194.6 396.9L194.9 397.1L195.1 397.8L195.2 398.4L195.3 399.1L195.6 399.4L196.4 399.5L196.9 399.3L197.4 398.9L197.6 398.6L198 398.1L198.4 397.8L198.9 397.6L199.6 397.4L200.1 397.2L200.6 397L201.1 396.8L201.6 396.6L202.4 396.5L202.9 396.7L203.4 396.9L203.9 397.4L204.2 397.6L204.7 397.9L205.4 398.1L205.9 398.3L206.3 398.6L206.6 399.1L206.9 399.4L207.6 399.6L208.4 399.4L208.9 399.2L209.4 399L210.1 399L210.6 399.2L211.1 399.6L211.4 399.9L211.6 400.4L211.8 401.1L211.6 401.9L211.6 402.4L211.6 403L211.9 403.4L212.6 403.6L213.2 403.6L213.7 403.9L214 404.4L214 405.1L213.9 405.9L213.9 406.6L214.1 407.2L214.4 407.7L214.6 408.2L214.8 408.9L214.9 409.4L214.9 410.1L214.9 410.9L214.8 411.4L214.6 412L214.4 412.5L214.1 412.9L213.7 413.4L213.4 413.8L213.1 414.2L212.8 414.6L212.4 415.1L212.1 415.5L211.7 415.9L211.4 416.2L210.9 416.6L210.6 417.1L210.4 417.6L210.2 418.1L210.1 418.6L209.9 419.3L209.6 419.8L209.4 420.1L208.9 420.6L208.6 420.9L208.1 421.3L207.7 421.6L207.4 421.9L206.9 422.3L206.4 422.6L206 422.9L205.6 423.1L205.1 423.4L204.4 423.5L203.8 423.4L203.4 423.1L202.9 422.6L202.6 422.3L202.1 421.9L201.7 421.9L201.3 422.1L201 422.6L200.8 423.1L200.4 423.6L200.1 423.9L199.6 424.3L199.1 424.5ZM204.1 431.4L203.4 431.5L202.6 431.5L201.9 431.4L201.4 431.3L200.6 431.3L199.9 431.3L199.1 431.2L198.6 431L198.1 430.9L197.6 430.6L197 430.4L196.6 430.1L196.1 429.9L195.6 429.5L195.2 429.1L194.9 428.9L194.4 428.4L194.1 428.1L193.8 427.6L193.9 427L194.4 426.7L194.9 426.5L195.4 426.3L195.9 426.1L196.4 425.8L196.9 425.6L197.6 425.4L198.1 425.3L198.6 425.4L199.1 425.7L199.6 426L200.1 426.2L200.6 426.5L201.1 426.8L201.6 427L202.1 427.3L202.6 427.5L203.1 427.8L203.6 428.1L204.1 428.4L204.4 428.6L204.9 429L205.2 429.4L205.5 429.9L205.3 430.4L204.9 430.9L204.6 431.1L204.1 431.4ZM186.4 436.7L185.6 436.7L184.9 436.7L184.4 436.6L183.6 436.4L183.1 436.3L182.4 436.2L181.9 436.1L181.3 435.9L180.9 435.5L180.5 435.1L180.2 434.6L179.9 434.1L179.7 433.6L179.6 433.1L179.4 432.5L179.2 431.9L179.1 431.1L179.4 430.4L179.6 429.9L179.9 429.6L180.2 429.1L180.6 428.6L180.9 428.3L181.4 427.9L181.9 427.7L182.4 427.5L182.9 427.3L183.6 427.1L184.1 426.9L184.6 426.8L185.4 426.8L185.9 427L186.4 427.3L186.9 427.6L187.3 427.9L187.8 428.1L188.3 428.4L188.6 428.6L189.1 429.1L189.4 429.6L189.6 430.1L189.9 430.5L190.1 430.9L190.4 431.4L190.6 431.9L190.6 432.6L190.5 433.1L190.2 433.6L189.9 434L189.5 434.4L189.1 434.8L188.8 435.1L188.4 435.6L188.1 435.9L187.6 436.2L187.1 436.5L186.6 436.6Z" fill="#000" fill-opacity="0.01" fill-rule="evenodd" stroke="#505050" stroke-opacity="0.7" stroke-width="0.42"/>
<path d="M196.4 423.2L195.8 423.1L195.1 422.9L194.8 422.6L194.4 422.4L193.6 422.2L192.9 422.4L192.4 422.5L191.9 422.7L191.1 422.9L190.6 422.9L189.9 422.9L189.4 422.8L188.8 422.6L188.3 422.4L187.7 422.1L187.1 421.9L186.6 421.7L186.1 421.4L185.8 421.1L185.4 420.7L185.1 420.4L184.7 419.9L184.4 419.5L184 419.1L183.6 418.9L183.1 418.6L182.7 418.1L182.5 417.6L182.3 417.1L182.2 416.4L182.1 415.9L182 415.1L181.8 414.6L181.5 414.1L181.2 413.6L180.9 413.2L180.6 412.6L180.6 412.1L180.8 411.6L181.1 411.2L181.4 410.8L181.7 410.4L181.9 409.9L182.1 409.3L182.3 408.6L182.3 407.9L182.2 407.1L182.1 406.4L182.2 405.6L182.4 405.1L182.7 404.6L182.9 404.1L183.2 403.6L183.5 403.1L183.8 402.6L184.1 402.2L184.5 401.9L184.9 401.6L185.4 401.4L185.9 401.1L186.6 400.9L187.1 400.8L187.9 400.6L188.4 400.6L188.9 400.6L189.6 400.7L190.4 400.8L190.9 400.6L191.4 400.2L191.8 399.9L192.1 399.6L192.6 399.3L193.4 399.3L193.7 399.6L194 400.1L194.4 400.4L195.1 400.6L195.9 400.5L196.4 400.4L197.1 400.1L197.6 399.9L198.1 399.7L198.9 399.6L199.6 399.8L200 400.1L200.4 400.5L200.7 400.9L201.1 401.3L201.6 401.6L202.1 401.7L202.6 401.4L202.9 400.9L203 400.4L203.1 399.9L203.4 399.4L204.1 399.3L204.8 399.4L205.4 399.6L205.7 399.9L206.1 400.2L206.6 400.5L207.4 400.6L208.1 400.5L208.9 400.4L209.6 400.4L210.1 400.7L210.4 401.4L210.3 402.1L210.2 402.9L210.4 403.6L210.6 404.1L210.9 404.6L211.1 405L211.4 405.4L211.6 406L211.8 406.6L212 407.1L212.2 407.6L212.4 408.1L212.6 408.7L212.8 409.4L212.6 410.1L212.4 410.4L211.9 410.6L211.2 410.9L210.8 411.1L210.4 411.6L210.2 412.1L210.3 412.9L210.6 413.3L211.1 413.6L211.3 414.1L210.9 414.6L210.6 414.9L210.1 415.3L209.8 415.6L209.4 416.1L209.1 416.5L208.9 417.1L208.8 417.6L208.6 418.4L208.4 418.9L208.2 419.4L207.9 419.8L207.6 420.2L207.2 420.6L206.9 421L206.4 421.4L206.1 421.6L205.6 422L205.1 422.2L204.4 422.2L203.9 421.9L203.6 421.6L203.1 421.3L202.6 421L201.9 420.9L201.1 421L200.6 421.2L200.3 421.6L200 422.1L199.6 422.5L199.1 422.7L198.4 422.9L197.9 422.9L197.1 423L196.6 423.1ZM204.6 418.1L205 417.9L205.2 417.4L205.1 416.8L204.8 416.4L204.1 416.1L203.6 416.1L203.1 416.2L202.5 416.4L202.1 416.7L202.1 417.4L202.4 417.7L202.9 418L203.4 418.1L204.1 418.2ZM203.6 430.7L202.9 430.9L202.1 430.8L201.4 430.6L200.9 430.6L200.4 430.6L199.6 430.7L199 430.6L198.4 430.5L197.9 430.3L197.4 430L196.9 429.7L196.4 429.4L196.1 429.1L195.8 428.6L195.5 428.1L195.6 427.6L196.1 427.1L196.5 426.9L197.1 426.7L197.6 426.6L198.4 426.6L198.9 426.7L199.6 426.9L200.1 427.1L200.6 427.3L201.1 427.6L201.6 427.8L202.1 428L202.6 428.2L203.1 428.5L203.6 428.8L203.9 429.1L204.2 429.6L204.1 430.2L203.7 430.6ZM185.6 435.9L184.9 435.9L184.4 435.8L183.6 435.7L183.1 435.6L182.4 435.4L181.9 435.3L181.4 435L181.1 434.6L180.8 434.1L180.7 433.4L180.6 432.9L180.6 432.1L180.5 431.4L180.6 430.8L180.9 430.2L181.1 429.7L181.4 429.4L181.9 428.9L182.4 428.6L182.9 428.4L183.4 428.2L183.9 428.1L184.6 427.9L185.1 427.9L185.6 428L186.1 428.2L186.6 428.5L187.1 428.8L187.6 429.1L188 429.4L188.4 429.7L188.7 430.1L189 430.6L189.3 431.1L189.6 431.6L189.7 432.1L189.6 432.7L189.4 433.2L189.1 433.6L188.6 434.1L188.3 434.4L187.9 434.6L187.4 435L186.9 435.4L186.5 435.6L185.9 435.9Z" fill="#000" fill-opacity="0.02" fill-rule="evenodd" stroke="#505050" stroke-opacity="0.7" stroke-width="0.42"/>
<path d="M198.4 421.9L197.6 422L196.9 422.1L196.1 422.1L195.6 421.9L195.1 421.6L194.6 421.3L193.9 421.2L193.1 421.2L192.6 421.5L192.1 421.7L191.6 421.9L190.9 422L190.1 422L189.6 421.8L189.1 421.6L188.5 421.4L187.9 421.2L187.4 421L186.9 420.8L186.4 420.5L186 420.1L185.6 419.6L185.4 419.2L185.1 418.7L184.9 418.4L184.4 417.9L184.1 417.6L183.7 417.1L183.4 416.6L183.1 416.1L182.9 415.6L182.8 415.1L182.6 414.6L182.3 414.1L182 413.6L181.7 413.1L181.5 412.6L181.6 411.9L181.9 411.4L182.1 410.9L182.4 410.5L182.6 409.9L182.8 409.4L182.9 408.9L183 408.1L183 407.4L183.1 406.6L183.2 406.1L183.4 405.6L183.6 405.1L183.9 404.5L184.1 404L184.4 403.5L184.6 403.1L185.1 402.6L185.4 402.4L185.9 402.1L186.6 401.9L187.1 401.8L187.9 401.9L188.4 402L188.9 402.2L189.6 402.4L190.1 402.4L190.9 402.5L191.6 402.6L192.1 402.7L192.7 402.9L193.3 403.1L193.9 403.4L194.4 403.5L195.1 403.5L195.6 403.1L195.8 402.6L195.9 402.1L196.1 401.5L196.6 401.1L197.1 400.9L197.6 400.7L198.1 400.6L198.9 400.6L199.4 400.7L199.9 400.9L200.4 401.3L200.8 401.6L201.1 401.9L201.6 402.1L202.4 402.3L202.9 402.1L203.4 401.6L203.6 401.2L203.9 400.9L204.4 400.6L204.9 400.6L205.5 400.9L205.9 401.1L206.5 401.4L207.1 401.6L207.6 401.7L208.2 401.9L208.6 402.4L208.9 402.8L209.1 403.3L209.4 403.7L209.6 404.2L209.9 404.7L210.1 405.2L210.4 405.6L210.7 406.1L210.9 406.6L211.1 407.2L211.3 407.9L211.3 408.6L211.1 409.3L210.9 409.7L210.5 410.1L210.1 410.6L209.9 411L209.6 411.4L209.4 412L209.2 412.6L209 413.1L208.9 413.6L208.6 414.2L208.3 414.6L207.9 414.9L207.3 415.1L206.6 415.3L205.9 415.3L205.1 415.3L204.4 415.3L203.6 415.3L202.9 415.2L202.4 415.1L201.6 415L201.4 415.5L201.2 416.1L201.1 416.6L201 417.4L201.1 417.9L201.5 418.4L202 418.6L202.6 418.9L203.1 419.1L203.6 419.2L204.3 419.4L204.9 419.5L205.4 419.8L205.4 420.4L205.1 420.6L204.4 420.6L203.9 420.4L203.4 420.3L202.6 420.2L202.1 420.1L201.4 420.1L200.6 420.1L199.9 420L199.6 419.6L199.1 419.2L198.6 419.1L198.3 419.4L198.4 420L198.9 420.2L199.4 420.4L199.4 421.1L199.1 421.6L198.6 421.8ZM197.6 414.9L198.1 414.5L198.2 413.9L197.8 413.6L197.1 413.5L196.6 413.9L196.5 414.4L196.9 414.8L197.4 414.9ZM193.3 419.1L193.7 418.9L193.9 418.4L193.9 417.7L193.6 417.4L193.1 417.1L192.4 416.9L191.9 416.7L191.4 416.5L190.8 416.6L190.8 417.4L191.1 417.8L191.4 418.1L191.9 418.5L192.3 418.9L192.7 419.1L193.3 419.1ZM202.9 430.2L202.1 430.1L201.6 429.9L201.1 429.8L200.6 429.9L199.9 430.1L199.4 430.2L198.7 430.1L198.1 429.9L197.6 429.7L197.2 429.4L196.9 429L196.6 428.6L196.6 427.9L196.9 427.6L197.4 427.3L198.1 427.2L198.9 427.2L199.4 427.4L199.9 427.6L200.4 427.9L200.9 428.3L201.4 428.6L201.9 428.7L202.5 428.9L203 429.1L203.3 429.6L203 430.1ZM184.9 434.9L184.1 434.9L183.4 434.9L182.9 434.8L182.2 434.6L181.8 434.4L181.5 433.9L181.6 433.1L181.9 432.6L182.2 432.4L182.9 432.4L183.2 432.6L183.6 433L184.1 433.3L184.6 433.5L185.4 433.4L185.6 433L185.6 432.4L185.4 431.9L184.9 431.6L184.4 431.5L183.6 431.6L182.9 431.5L182.5 431.1L182.3 430.6L182.5 430.1L182.9 429.6L183.2 429.4L183.6 429.1L184.1 428.9L184.9 428.7L185.6 428.9L186.1 429.1L186.6 429.4L187 429.6L187.4 429.9L187.9 430.2L188.2 430.6L188.6 431.1L188.8 431.6L188.8 432.4L188.6 432.9L188.2 433.4L187.9 433.6L187.2 433.9L186.6 434L185.9 434.1L185.6 434.4L185.1 434.8Z" fill="#000" fill-opacity="0.03" fill-rule="evenodd" stroke="#505050" stroke-opacity="0.7" stroke-width="0.42"/>
<path d="M196.6 420.4L195.9 420.6L195.1 420.4L194.6 420.1L194.5 419.6L194.6 418.9L194.7 418.4L194.8 417.6L194.6 417.1L194.1 416.7L193.6 416.5L193.1 416.3L192.6 416.1L192.1 415.9L191.6 415.6L190.9 415.4L190.4 415.3L189.9 415.1L189.5 414.6L189.5 413.9L189.6 413.1L189.6 412.4L189.2 411.9L188.7 411.6L188.3 411.4L188.1 410.9L187.9 410.4L187.4 410L186.6 410L186.1 410.2L185.6 410.4L185.1 410.8L185 411.4L185.1 412.1L185.2 412.6L185.4 413.3L185.6 413.6L186.1 414L186.6 414.3L187.1 414.6L187.6 414.9L188.1 415.1L188.6 415.3L189 415.6L189.1 416.1L189.2 416.9L189.4 417.4L189.6 418.1L189.8 418.6L190 419.1L190.1 419.9L189.6 420.2L188.9 420.3L188.1 420.2L187.6 420.1L187.1 419.8L186.7 419.4L186.5 418.9L186.3 418.4L186.1 417.7L185.9 417.3L185.5 416.9L185.1 416.4L184.9 416.1L184.5 415.6L184.1 415.3L183.8 414.9L183.4 414.4L183.1 413.9L182.9 413.4L182.6 412.9L182.5 412.4L182.6 411.8L182.9 411.3L183.1 410.8L183.3 410.1L183.4 409.6L183.5 408.9L183.6 408.1L183.6 407.5L183.8 406.9L183.9 406.4L184.2 405.9L184.4 405.3L184.6 404.7L184.9 404.2L185.1 403.8L185.5 403.4L186 403.1L186.6 402.9L187.4 403L187.9 403.2L188.5 403.4L189.1 403.6L189.6 403.7L190.4 403.8L191.1 403.8L191.9 403.8L192.4 403.9L193.1 404.1L193.6 404.2L194.3 404.4L194.9 404.4L195.4 404.3L195.9 404.1L196.4 403.8L196.8 403.4L197.1 402.9L197.2 402.4L197.4 401.8L197.9 401.4L198.4 401.2L199.1 401.2L199.6 401.4L200.1 401.7L200.6 402L201.1 402.3L201.6 402.6L202.1 402.7L202.6 402.9L203.4 403L203.8 402.6L204.1 402.1L204.4 401.9L205.1 401.8L205.6 402L206.1 402.4L206.5 402.6L206.9 402.9L207.4 403.2L207.9 403.4L208.4 403.8L208.7 404.1L209 404.6L209.3 405.1L209.5 405.6L209.7 406.1L210 406.6L210.2 407.1L210.4 407.6L210.4 408.4L210.4 408.9L210.1 409.5L209.9 410L209.6 410.5L209.4 410.9L209.1 411.4L208.8 411.9L208.6 412.4L208.3 412.9L207.9 413.4L207.5 413.6L206.9 413.9L206.4 414L205.9 414.2L205.2 414.4L204.6 414.5L203.9 414.5L203.3 414.4L202.9 414L202.5 413.6L202.1 413.3L201.6 413.1L201.1 413.1L200.4 413.3L199.9 413.4L199.1 413.5L198.6 413.3L198 413.1L197.4 413L196.6 413L196.1 413.2L195.8 413.6L195.6 414.1L195.6 414.7L195.9 415.2L196.4 415.6L196.9 415.8L197.6 415.7L198.1 415.4L198.6 415.1L199.1 414.9L199.6 414.8L200.1 415.1L200.4 415.5L200.5 416.1L200.4 416.9L200.3 417.4L200.1 417.9L199.6 418.2L198.9 418.3L198.3 418.4L197.9 418.6L197.4 419.1L197.1 419.6L196.9 420.1L196.6 420.4ZM191.9 409.9L192.2 409.4L192 408.9L191.6 408.9L191.1 409.4L191.1 409.9L191.6 410ZM199.4 429.7L198.6 429.7L198.1 429.4L197.7 429.1L197.4 428.6L197.4 428.3L197.8 427.9L198.4 427.7L199.1 427.9L199.6 428.1L199.9 428.4L200.1 429.1L199.6 429.6ZM187.1 432.9L186.6 432.7L186.4 432.3L186.1 431.8L185.8 431.4L185.4 430.9L184.9 430.7L184.4 430.5L184.4 430L184.9 429.8L185.4 430L185.9 430.2L186.6 430.3L187.1 430.5L187.6 430.9L187.9 431.3L188 431.9L187.9 432.5L187.4 432.9Z" fill="#000" fill-opacity="0.04" fill-rule="evenodd" stroke="#505050" stroke-opacity="0.7" stroke-width="0.42"/>
<path d="M194.4 415.4L193.6 415.6L192.9 415.4L192.4 415.2L191.9 415L191.4 414.8L190.9 414.5L190.5 414.1L190.3 413.6L190.4 413.1L190.6 412.5L190.9 412.1L191.4 411.8L191.9 411.5L192.4 411.1L192.6 410.8L192.9 410.4L193.1 409.9L193.3 409.1L193.2 408.4L192.9 408L192.4 407.8L191.9 407.9L191.3 408.1L190.9 408.4L190.4 408.9L190.1 409.2L189.6 409.6L189.1 409.8L188.6 409.6L188.1 409.4L187.4 409.2L186.6 409.3L186.1 409.4L185.4 409.6L184.6 409.5L184.3 409.1L184.1 408.4L184.2 407.6L184.4 407.1L184.6 406.6L184.9 406.1L185.1 405.6L185.4 405L185.6 404.6L186.1 404.1L186.6 404L187.4 403.9L188.1 404L188.7 404.1L189.4 404.4L189.9 404.5L190.4 404.7L190.9 404.9L191.6 405.1L192.4 405.1L193.1 405.1L193.9 405.1L194.4 405.1L194.9 405.1L195.6 404.9L196.1 404.7L196.6 404.4L197.1 404.2L197.6 403.9L198 403.6L198.2 403.1L198.3 402.4L198.6 402L199.4 401.9L200 402.1L200.5 402.4L201 402.6L201.5 402.9L202 403.1L202.4 403.4L202.7 403.9L202.9 404.4L203.1 405.1L203.6 405.4L203.9 405.4L204.6 405.1L205.1 404.9L205.4 404.6L205.9 404.2L206.4 404L207.1 404L207.6 404.2L208.1 404.6L208.4 405L208.4 405.6L208.3 406.1L208.3 406.9L208.6 407.3L209.1 407.6L209.4 407.9L209.6 408.4L209.6 409.1L209.5 409.6L209.3 410.1L209 410.6L208.7 411.1L208.4 411.6L208.1 412.1L207.9 412.4L207.4 412.8L206.9 413.1L206.4 413.3L205.9 413.5L205.4 413.6L204.6 413.8L203.9 413.7L203.4 413.5L203 413.1L202.6 412.9L201.9 412.6L201.4 412.6L200.9 412.7L200.1 412.8L199.6 412.9L198.9 413L198.4 412.9L197.7 412.6L197.1 412.5L196.6 412.4L196.1 412.4L195.6 412.7L195.1 413.1L194.9 413.4L194.6 413.9L194.5 414.6L194.4 415.4ZM196.4 419.2L195.7 419.1L195.5 418.6L195.5 417.9L195.6 417.1L195.9 416.7L196.4 416.6L197.1 416.6L197.9 416.4L198.3 416.1L198.7 415.9L199.4 415.8L199.7 416.1L199.7 416.9L199.4 417.4L198.9 417.6L198.4 417.6L197.7 417.9L197.4 418.2L197 418.6L196.6 419Z" fill="#000" fill-opacity="0.04" fill-rule="evenodd" stroke="#505050" stroke-opacity="0.7" stroke-width="0.42"/>
<path d="M205.4 413L204.6 413.1L203.9 412.9L203.4 412.6L203 412.4L202.4 412.1L201.9 412.1L201.1 412.1L200.6 412.2L200.1 412.4L199.4 412.6L198.6 412.5L198 412.4L197.4 412.1L196.9 411.9L196.4 411.6L195.9 411.6L195.2 411.6L194.6 411.7L194.2 411.4L194.1 410.9L194.1 410.2L194.3 409.6L194.6 409.1L194.9 408.8L195.6 408.7L196.4 408.7L196.9 408.4L196.6 407.8L196.1 407.4L195.6 407.4L195.1 407.6L194.6 407.7L194.1 407.5L193.8 407.1L193.9 406.4L194.4 406.3L195.1 406.1L195.6 405.9L196 405.6L196.4 405.3L196.9 405L197.4 404.8L198.1 404.7L198.6 404.5L199 404.1L199.2 403.6L199.4 403L199.9 402.8L200.4 402.9L201 403.1L201.5 403.4L201.9 403.7L202.2 404.1L202.3 404.9L202.5 405.4L202.9 405.8L203.4 406L204.1 406L204.6 405.8L205.1 405.6L205.8 405.4L206.4 405.2L206.9 405.4L207.1 406.1L207.2 406.6L207.5 407.1L207.9 407.6L208.1 407.9L208.6 408.3L208.9 408.6L209 409.4L208.9 410L208.6 410.4L208.3 410.9L207.9 411.4L207.6 411.7L207.1 412.1L206.7 412.4L206.2 412.6L205.6 412.9ZM189.4 408.7L188.6 408.8L188 408.6L187.4 408.5L186.6 408.5L186.1 408.6L185.6 408.6L185.1 408.2L185.1 407.9L185.4 407.4L185.9 407L186.1 406.6L186.3 405.9L186.5 405.4L186.9 404.9L187.4 404.7L187.9 404.6L188.4 404.7L189.1 404.9L189.6 405.1L190 405.4L190.4 405.6L190.9 406L191.3 406.4L191.4 406.7L191.1 407.2L190.8 407.6L190.4 408L189.9 408.4L189.6 408.6Z" fill="#000" fill-opacity="0.04" fill-rule="evenodd" stroke="#505050" stroke-opacity="0.7" stroke-width="0.42"/>
<path d="M204.9 412.4L204.3 412.4L203.7 412.1L203.3 411.9L202.8 411.6L202.1 411.5L201.4 411.5L200.8 411.6L200.2 411.9L199.6 412.1L199.1 412.2L198.4 412.1L197.9 411.9L197.4 411.6L197.1 411.4L196.7 410.9L196.4 410.4L196.6 409.8L197.1 409.4L197.5 409.1L197.9 408.7L197.9 408.1L197.6 407.6L197.4 407.3L197.1 406.8L197 406.1L197.4 405.7L197.9 405.5L198.4 405.4L199.1 405.1L199.5 404.9L199.9 404.4L200.1 403.9L200.6 403.7L201.2 403.9L201.6 404.4L201.7 404.9L201.9 405.5L202.1 405.9L202.6 406.4L203.1 406.6L203.6 406.7L204.1 406.6L204.6 406.4L205.4 406.2L206.1 406.3L206.4 406.6L206.8 407.1L207.1 407.5L207.4 407.9L207.9 408.4L208.1 408.6L208.4 409.1L208.4 409.8L208.1 410.3L207.8 410.6L207.4 411L206.9 411.4L206.5 411.6L206.1 411.9L205.6 412.2L205.1 412.4ZM189.1 408L188.4 408L187.9 407.8L187.4 407.4L187.3 406.9L187.3 406.1L187.5 405.6L187.9 405.3L188.6 405.3L189.1 405.6L189.5 405.9L189.9 406.3L190.1 406.9L189.9 407.4L189.4 407.9Z" fill="#000" fill-opacity="0.05" fill-rule="evenodd" stroke="#505050" stroke-opacity="0.7" stroke-width="0.42"/>
<path d="M204.9 411.6L204.4 411.6L203.8 411.4L203.4 411.1L202.9 410.8L202.4 410.5L201.9 410.3L201.4 409.9L201.2 409.4L200.9 409.1L200.4 409.4L200.7 409.9L200.6 410.4L200.4 410.9L199.9 411.4L199.5 411.6L198.9 411.8L198.2 411.6L197.8 411.4L197.4 410.9L197.5 410.1L197.9 409.7L198.3 409.4L198.7 409.1L199.1 408.6L198.9 408.1L198.5 407.6L198.3 407.1L198.4 406.4L198.8 406.1L199.4 405.9L199.9 405.7L200.4 405.6L200.9 405.7L201.4 406.1L201.6 406.4L202.1 406.9L202.4 407.2L202.7 407.6L202.9 408.1L203.4 408.4L203.8 408.1L204.1 407.7L204.4 407.4L204.9 407.1L205.6 407L206.1 407.2L206.5 407.6L206.9 408.1L207.1 408.5L207.4 408.9L207.5 409.6L207.1 410L206.6 410.3L206.2 410.6L205.9 411L205.5 411.4L204.9 411.6Z" fill="#000" fill-opacity="0.05" fill-rule="evenodd" stroke="#505050" stroke-opacity="0.7" stroke-width="0.42"/>
<path d="M199.1 411L198.4 411L198.3 410.4L198.9 410.2L199.3 410.6Z" fill="#000" fill-opacity="0.05" fill-rule="evenodd" stroke="#505050" stroke-opacity="0.7" stroke-width="0.42"/>
</g>
<rect x="166.5" y="396" width="59.5" height="58.6" fill="none" stroke="#8c8c8c" stroke-width="0.7"/>
<line x1="191.6" y1="396" x2="191.6" y2="454.6" stroke="#666" stroke-width="0.7" stroke-linecap="butt"/>
<line x1="166.5" y1="425.3" x2="226" y2="425.3" stroke="#666" stroke-width="0.7" stroke-linecap="butt"/>
<text x="168.7" y="404.2" font-size="6.9" text-anchor="start" fill="#1c1c1c" stroke="#1c1c1c" stroke-width="0.22">9.8</text>
<text x="211.8" y="404.2" font-size="6.9" text-anchor="start" fill="#1c1c1c" stroke="#1c1c1c" stroke-width="0.22">80.0</text>
<text x="168.7" y="452.6" font-size="6.9" text-anchor="start" fill="#1c1c1c" stroke="#1c1c1c" stroke-width="0.22">6.3</text>
<text x="212.5" y="452.6" font-size="6.9" text-anchor="start" fill="#1c1c1c" stroke="#1c1c1c" stroke-width="0.22">3.9</text>
</g>
<line x1="71.2" y1="461" x2="71.2" y2="437.8" stroke="#1c1c1c" stroke-width="1.4" stroke-linecap="butt"/>
<line x1="70.5" y1="460.3" x2="92.8" y2="460.3" stroke="#1c1c1c" stroke-width="1.4" stroke-linecap="butt"/>
<polygon points="71.2,433.8 68.6,439.4 73.8,439.4" fill="#1c1c1c"/>
<polygon points="96.8,460.3 91.2,457.7 91.2,462.9" fill="#1c1c1c"/>
<text x="75.6" y="432.3" font-size="8.6" text-anchor="start" fill="#1c1c1c" transform="rotate(-90 75.6 432.3)" textLength="17" lengthAdjust="spacingAndGlyphs" font-weight="bold" stroke="#1c1c1c" stroke-width="0.3">CD8</text>
<text x="103" y="463.8" font-size="8.6" text-anchor="start" fill="#1c1c1c" textLength="15.8" lengthAdjust="spacingAndGlyphs" font-weight="bold" stroke="#1c1c1c" stroke-width="0.3">CD4</text>
<line x1="154.3" y1="463.3" x2="154.3" y2="438.8" stroke="#1c1c1c" stroke-width="1.4" stroke-linecap="butt"/>
<line x1="153.6" y1="462.6" x2="177.6" y2="462.6" stroke="#1c1c1c" stroke-width="1.4" stroke-linecap="butt"/>
<polygon points="154.3,434.8 151.7,440.4 156.9,440.4" fill="#1c1c1c"/>
<polygon points="181.6,462.6 176,460 176,465.2" fill="#1c1c1c"/>
<text x="158.6" y="433.2" font-size="8.6" text-anchor="start" fill="#1c1c1c" transform="rotate(-90 158.6 433.2)" textLength="19" lengthAdjust="spacingAndGlyphs" font-weight="bold" stroke="#1c1c1c" stroke-width="0.3">CD57</text>
<text x="186.2" y="466.1" font-size="8.6" text-anchor="start" fill="#1c1c1c" textLength="16.2" lengthAdjust="spacingAndGlyphs" font-weight="bold" stroke="#1c1c1c" stroke-width="0.3">Ki67</text>
<line x1="288.1" y1="205.8" x2="288.1" y2="305.75" stroke="#1c1c1c" stroke-width="1.3" stroke-linecap="butt"/>
<line x1="287.45" y1="305.1" x2="405.2" y2="305.1" stroke="#1c1c1c" stroke-width="1.3" stroke-linecap="butt"/>
<line x1="284.5" y1="304.7" x2="288.1" y2="304.7" stroke="#1c1c1c" stroke-width="1" stroke-linecap="butt"/>
<text x="281.5" y="307.45" font-size="7.6" text-anchor="end" fill="#1c1c1c" stroke="#1c1c1c" stroke-width="0.22">0</text>
<line x1="284.5" y1="280.7" x2="288.1" y2="280.7" stroke="#1c1c1c" stroke-width="1" stroke-linecap="butt"/>
<text x="281.5" y="283.45" font-size="7.6" text-anchor="end" fill="#1c1c1c" stroke="#1c1c1c" stroke-width="0.22">10</text>
<line x1="284.5" y1="256.7" x2="288.1" y2="256.7" stroke="#1c1c1c" stroke-width="1" stroke-linecap="butt"/>
<text x="281.5" y="259.45" font-size="7.6" text-anchor="end" fill="#1c1c1c" stroke="#1c1c1c" stroke-width="0.22">20</text>
<line x1="284.5" y1="232.7" x2="288.1" y2="232.7" stroke="#1c1c1c" stroke-width="1" stroke-linecap="butt"/>
<text x="281.5" y="235.45" font-size="7.6" text-anchor="end" fill="#1c1c1c" stroke="#1c1c1c" stroke-width="0.22">30</text>
<line x1="284.5" y1="208.7" x2="288.1" y2="208.7" stroke="#1c1c1c" stroke-width="1" stroke-linecap="butt"/>
<text x="281.5" y="211.45" font-size="7.6" text-anchor="end" fill="#1c1c1c" stroke="#1c1c1c" stroke-width="0.22">40</text>
<line x1="302.7" y1="304.9" x2="302.7" y2="307.9" stroke="#1c1c1c" stroke-width="1" stroke-linecap="butt"/>
<text x="305.5" y="316.1" font-size="8.4" text-anchor="end" fill="#1c1c1c" transform="rotate(-45 305.5 316.1)" textLength="26.5" lengthAdjust="spacingAndGlyphs" stroke="#1c1c1c" stroke-width="0.22">Control</text>
<line x1="332.3" y1="304.9" x2="332.3" y2="307.9" stroke="#1c1c1c" stroke-width="1" stroke-linecap="butt"/>
<text x="335.1" y="316.1" font-size="8.4" text-anchor="end" fill="#1c1c1c" transform="rotate(-45 335.1 316.1)" textLength="18.5" lengthAdjust="spacingAndGlyphs" stroke="#1c1c1c" stroke-width="0.22">ALPS</text>
<line x1="361.6" y1="304.9" x2="361.6" y2="307.9" stroke="#1c1c1c" stroke-width="1" stroke-linecap="butt"/>
<text x="364.4" y="316.1" font-size="8.4" text-anchor="end" fill="#1c1c1c" transform="rotate(-45 364.4 316.1)" textLength="42.5" lengthAdjust="spacingAndGlyphs" stroke="#1c1c1c" stroke-width="0.22">+Rapamycin</text>
<line x1="390.6" y1="304.9" x2="390.6" y2="307.9" stroke="#1c1c1c" stroke-width="1" stroke-linecap="butt"/>
<text x="393.4" y="316.1" font-size="8.4" text-anchor="end" fill="#1c1c1c" transform="rotate(-45 393.4 316.1)" textLength="22.5" lengthAdjust="spacingAndGlyphs" stroke="#1c1c1c" stroke-width="0.22">+MMF</text>
<text x="267.6" y="255.6" font-size="9.4" text-anchor="middle" fill="#1c1c1c" transform="rotate(-90 267.6 255.6)" textLength="48" lengthAdjust="spacingAndGlyphs" stroke="#1c1c1c" stroke-width="0.22">% DNT cells</text>
<line x1="306.5" y1="194.2" x2="365.6" y2="194.2" stroke="#1c1c1c" stroke-width="1.2" stroke-linecap="butt"/>
<text x="336.05" y="191" font-size="7.8" text-anchor="middle" fill="#1c1c1c" textLength="7.6" lengthAdjust="spacingAndGlyphs" stroke="#1c1c1c" stroke-width="0.22">ns</text>
<line x1="340.6" y1="208.2" x2="365.2" y2="208.2" stroke="#1c1c1c" stroke-width="1.2" stroke-linecap="butt"/>
<text x="352.9" y="206.3" font-size="9.8" text-anchor="middle" fill="#1c1c1c" textLength="10.4" lengthAdjust="spacingAndGlyphs" stroke="#1c1c1c" stroke-width="0.22">***</text>
<line x1="294" y1="297.7" x2="312" y2="297.7" stroke="#1c1c1c" stroke-width="1.3" stroke-linecap="butt"/>
<circle cx="295.6" cy="297.6" r="2.25" fill="#1c1c1c"/>
<circle cx="302.7" cy="295.2" r="2.25" fill="#1c1c1c"/>
<circle cx="310" cy="297.6" r="2.25" fill="#1c1c1c"/>
<circle cx="299.6" cy="300.8" r="2.25" fill="#1c1c1c"/>
<circle cx="305.9" cy="300.8" r="2.25" fill="#1c1c1c"/>
<circle cx="302.7" cy="298.6" r="2.25" fill="#1c1c1c"/>
<line x1="322.2" y1="261.4" x2="341.8" y2="261.4" stroke="#1c1c1c" stroke-width="1.3" stroke-linecap="butt"/>
<rect x="330" y="211.2" width="4.2" height="4.2" fill="#1c1c1c"/>
<rect x="330" y="219.5" width="4.2" height="4.2" fill="#1c1c1c"/>
<rect x="330" y="229.1" width="4.2" height="4.2" fill="#1c1c1c"/>
<rect x="327" y="237.2" width="4.2" height="4.2" fill="#1c1c1c"/>
<rect x="330" y="253.3" width="4.2" height="4.2" fill="#1c1c1c"/>
<rect x="327" y="263.3" width="4.2" height="4.2" fill="#1c1c1c"/>
<rect x="327" y="267.3" width="4.2" height="4.2" fill="#1c1c1c"/>
<rect x="333.1" y="272" width="4.2" height="4.2" fill="#1c1c1c"/>
<rect x="333.1" y="276.8" width="4.2" height="4.2" fill="#1c1c1c"/>
<rect x="327" y="278.5" width="4.2" height="4.2" fill="#1c1c1c"/>
<rect x="333.1" y="287.9" width="4.2" height="4.2" fill="#1c1c1c"/>
<rect x="333.1" y="291.5" width="4.2" height="4.2" fill="#1c1c1c"/>
<rect x="327" y="294" width="4.2" height="4.2" fill="#1c1c1c"/>
<polygon points="335.2,234.85 333.25,231.34 337.15,231.34" fill="#fff" stroke="#1c1c1c" stroke-width="1.2" stroke-linejoin="miter"/>
<rect x="333.25" y="257.45" width="3.9" height="3.9" fill="#fff" stroke="#1c1c1c" stroke-width="1.25"/>
<circle cx="329.1" cy="284.4" r="1.7" fill="#fff" stroke="#1c1c1c" stroke-width="1.25"/>
<line x1="352.5" y1="296.2" x2="370.7" y2="296.2" stroke="#1c1c1c" stroke-width="1.3" stroke-linecap="butt"/>
<polygon points="357.7,294.05 355.55,297.92 359.85,297.92" fill="#1c1c1c"/>
<polygon points="361.2,296.25 359.05,300.12 363.35,300.12" fill="#1c1c1c"/>
<polygon points="363.7,293.25 361.55,297.12 365.85,297.12" fill="#1c1c1c"/>
<polygon points="368.9,292.85 366.75,296.72 371.05,296.72" fill="#1c1c1c"/>
<rect x="352.25" y="292.35" width="3.9" height="3.9" fill="#fff" stroke="#1c1c1c" stroke-width="1.25"/>
<circle cx="366.3" cy="296.6" r="1.7" fill="#fff" stroke="#1c1c1c" stroke-width="1.25"/>
<line x1="380.8" y1="274.4" x2="400.6" y2="274.4" stroke="#1c1c1c" stroke-width="1.3" stroke-linecap="butt"/>
<polygon points="390.5,246.75 388.35,242.88 392.65,242.88" fill="#1c1c1c"/>
<polygon points="390.5,286.55 388.35,282.68 392.65,282.68" fill="#1c1c1c"/>
<polygon points="390.5,295.95 388.35,292.08 392.65,292.08" fill="#1c1c1c"/>
<polygon points="412.3,234.55 410.35,231.04 414.25,231.04" fill="#fff" stroke="#1c1c1c" stroke-width="1.2" stroke-linejoin="miter"/>
<circle cx="412.3" cy="241.9" r="1.7" fill="#fff" stroke="#1c1c1c" stroke-width="1.25"/>
<rect x="410.45" y="249.45" width="3.9" height="3.9" fill="#fff" stroke="#1c1c1c" stroke-width="1.25"/>
<text x="417.4" y="235.1" font-size="7.6" text-anchor="start" fill="#1c1c1c" textLength="23.6" lengthAdjust="spacingAndGlyphs" stroke="#1c1c1c" stroke-width="0.22">p2-705</text>
<text x="417.4" y="244.5" font-size="7.6" text-anchor="start" fill="#1c1c1c" textLength="22.6" lengthAdjust="spacingAndGlyphs" stroke="#1c1c1c" stroke-width="0.22">p16-11</text>
<text x="417.4" y="254" font-size="7.6" text-anchor="start" fill="#1c1c1c" textLength="23.6" lengthAdjust="spacingAndGlyphs" stroke="#1c1c1c" stroke-width="0.22">p1-809</text>
<line x1="49.6" y1="526.8" x2="49.6" y2="626.85" stroke="#1c1c1c" stroke-width="1.3" stroke-linecap="butt"/>
<line x1="48.95" y1="626.2" x2="166.8" y2="626.2" stroke="#1c1c1c" stroke-width="1.3" stroke-linecap="butt"/>
<line x1="46" y1="626" x2="49.6" y2="626" stroke="#1c1c1c" stroke-width="1" stroke-linecap="butt"/>
<text x="43" y="628.75" font-size="7.6" text-anchor="end" fill="#1c1c1c" stroke="#1c1c1c" stroke-width="0.22">0</text>
<line x1="46" y1="601.77" x2="49.6" y2="601.77" stroke="#1c1c1c" stroke-width="1" stroke-linecap="butt"/>
<text x="43" y="604.52" font-size="7.6" text-anchor="end" fill="#1c1c1c" stroke="#1c1c1c" stroke-width="0.22">5</text>
<line x1="46" y1="577.55" x2="49.6" y2="577.55" stroke="#1c1c1c" stroke-width="1" stroke-linecap="butt"/>
<text x="43" y="580.3" font-size="7.6" text-anchor="end" fill="#1c1c1c" stroke="#1c1c1c" stroke-width="0.22">10</text>
<line x1="46" y1="553.33" x2="49.6" y2="553.33" stroke="#1c1c1c" stroke-width="1" stroke-linecap="butt"/>
<text x="43" y="556.08" font-size="7.6" text-anchor="end" fill="#1c1c1c" stroke="#1c1c1c" stroke-width="0.22">15</text>
<line x1="46" y1="529.1" x2="49.6" y2="529.1" stroke="#1c1c1c" stroke-width="1" stroke-linecap="butt"/>
<text x="43" y="531.85" font-size="7.6" text-anchor="end" fill="#1c1c1c" stroke="#1c1c1c" stroke-width="0.22">20</text>
<line x1="64.2" y1="626" x2="64.2" y2="629" stroke="#1c1c1c" stroke-width="1" stroke-linecap="butt"/>
<text x="67" y="637.2" font-size="8.4" text-anchor="end" fill="#1c1c1c" transform="rotate(-45 67 637.2)" textLength="26.5" lengthAdjust="spacingAndGlyphs" stroke="#1c1c1c" stroke-width="0.22">Control</text>
<line x1="93.6" y1="626" x2="93.6" y2="629" stroke="#1c1c1c" stroke-width="1" stroke-linecap="butt"/>
<text x="96.4" y="637.2" font-size="8.4" text-anchor="end" fill="#1c1c1c" transform="rotate(-45 96.4 637.2)" textLength="18.5" lengthAdjust="spacingAndGlyphs" stroke="#1c1c1c" stroke-width="0.22">ALPS</text>
<line x1="123.6" y1="626" x2="123.6" y2="629" stroke="#1c1c1c" stroke-width="1" stroke-linecap="butt"/>
<text x="126.4" y="637.2" font-size="8.4" text-anchor="end" fill="#1c1c1c" transform="rotate(-45 126.4 637.2)" textLength="42.5" lengthAdjust="spacingAndGlyphs" stroke="#1c1c1c" stroke-width="0.22">+Rapamycin</text>
<line x1="153.3" y1="626" x2="153.3" y2="629" stroke="#1c1c1c" stroke-width="1" stroke-linecap="butt"/>
<text x="156.1" y="637.2" font-size="8.4" text-anchor="end" fill="#1c1c1c" transform="rotate(-45 156.1 637.2)" textLength="22.5" lengthAdjust="spacingAndGlyphs" stroke="#1c1c1c" stroke-width="0.22">+MMF</text>
<text x="27.8" y="576.4" font-size="9.4" text-anchor="middle" fill="#1c1c1c" transform="rotate(-90 27.8 576.4)" textLength="48" lengthAdjust="spacingAndGlyphs" stroke="#1c1c1c" stroke-width="0.22">% Treg cells</text>
<line x1="69.2" y1="515.3" x2="121.3" y2="515.3" stroke="#1c1c1c" stroke-width="1.2" stroke-linecap="butt"/>
<text x="95.25" y="511.9" font-size="7.8" text-anchor="middle" fill="#1c1c1c" textLength="7.6" lengthAdjust="spacingAndGlyphs" stroke="#1c1c1c" stroke-width="0.22">ns</text>
<line x1="96.3" y1="529.2" x2="121.3" y2="529.2" stroke="#1c1c1c" stroke-width="1.2" stroke-linecap="butt"/>
<text x="108.8" y="525.8" font-size="7.8" text-anchor="middle" fill="#1c1c1c" textLength="7.6" lengthAdjust="spacingAndGlyphs" stroke="#1c1c1c" stroke-width="0.22">ns</text>
<line x1="55" y1="590.5" x2="74.5" y2="590.5" stroke="#1c1c1c" stroke-width="1.3" stroke-linecap="butt"/>
<circle cx="61.8" cy="577" r="2.25" fill="#1c1c1c"/>
<circle cx="67.5" cy="582.5" r="2.25" fill="#1c1c1c"/>
<circle cx="61.8" cy="586.3" r="2.25" fill="#1c1c1c"/>
<circle cx="67.5" cy="586.3" r="2.25" fill="#1c1c1c"/>
<circle cx="58.8" cy="590" r="2.25" fill="#1c1c1c"/>
<circle cx="64.5" cy="590" r="2.25" fill="#1c1c1c"/>
<circle cx="70.5" cy="590" r="2.25" fill="#1c1c1c"/>
<circle cx="64.5" cy="595" r="2.25" fill="#1c1c1c"/>
<circle cx="58.8" cy="600" r="2.25" fill="#1c1c1c"/>
<circle cx="64.5" cy="602.5" r="2.25" fill="#1c1c1c"/>
<circle cx="70" cy="600" r="2.25" fill="#1c1c1c"/>
<line x1="84.5" y1="589" x2="104.5" y2="589" stroke="#1c1c1c" stroke-width="1.3" stroke-linecap="butt"/>
<rect x="92.2" y="559.9" width="4.2" height="4.2" fill="#1c1c1c"/>
<rect x="95.4" y="576.7" width="4.2" height="4.2" fill="#1c1c1c"/>
<rect x="89.2" y="584.9" width="4.2" height="4.2" fill="#1c1c1c"/>
<rect x="92.2" y="584.9" width="4.2" height="4.2" fill="#1c1c1c"/>
<rect x="95.4" y="584.9" width="4.2" height="4.2" fill="#1c1c1c"/>
<rect x="95.4" y="590.4" width="4.2" height="4.2" fill="#1c1c1c"/>
<rect x="86.7" y="594.2" width="4.2" height="4.2" fill="#1c1c1c"/>
<rect x="92.2" y="594.2" width="4.2" height="4.2" fill="#1c1c1c"/>
<rect x="95.4" y="595.9" width="4.2" height="4.2" fill="#1c1c1c"/>
<rect x="98.2" y="595.9" width="4.2" height="4.2" fill="#1c1c1c"/>
<rect x="89.2" y="590.4" width="4.2" height="4.2" fill="#1c1c1c"/>
<circle cx="91.3" cy="581.3" r="1.7" fill="#fff" stroke="#1c1c1c" stroke-width="1.25"/>
<rect x="92.35" y="589.35" width="3.9" height="3.9" fill="#fff" stroke="#1c1c1c" stroke-width="1.25"/>
<line x1="114.3" y1="590.8" x2="133.8" y2="590.8" stroke="#1c1c1c" stroke-width="1.3" stroke-linecap="butt"/>
<polygon points="121.3,579.15 119.15,583.02 123.45,583.02" fill="#1c1c1c"/>
<polygon points="126.8,579.85 124.65,583.72 128.95,583.72" fill="#1c1c1c"/>
<polygon points="121.3,590.65 119.15,594.52 123.45,594.52" fill="#1c1c1c"/>
<polygon points="126.8,595.35 124.65,599.22 128.95,599.22" fill="#1c1c1c"/>
<polygon points="124.3,603.35 122.15,607.22 126.45,607.22" fill="#1c1c1c"/>
<polygon points="126.8,592.45 124.85,588.94 128.75,588.94" fill="#fff" stroke="#1c1c1c" stroke-width="1.2" stroke-linejoin="miter"/>
<circle cx="121.3" cy="588" r="1.7" fill="#fff" stroke="#1c1c1c" stroke-width="1.25"/>
<rect x="124.85" y="585.35" width="3.9" height="3.9" fill="#fff" stroke="#1c1c1c" stroke-width="1.25"/>
<line x1="143.8" y1="589.5" x2="163.8" y2="589.5" stroke="#1c1c1c" stroke-width="1.3" stroke-linecap="butt"/>
<polygon points="150.8,585.15 148.65,581.28 152.95,581.28" fill="#1c1c1c"/>
<polygon points="156.8,589.15 154.65,585.28 158.95,585.28" fill="#1c1c1c"/>
<polygon points="153.8,599.65 151.65,595.78 155.95,595.78" fill="#1c1c1c"/>
<line x1="222.9" y1="526.8" x2="222.9" y2="626.85" stroke="#1c1c1c" stroke-width="1.3" stroke-linecap="butt"/>
<line x1="222.25" y1="626.2" x2="340.2" y2="626.2" stroke="#1c1c1c" stroke-width="1.3" stroke-linecap="butt"/>
<line x1="219.3" y1="626" x2="222.9" y2="626" stroke="#1c1c1c" stroke-width="1" stroke-linecap="butt"/>
<text x="216.3" y="628.75" font-size="7.6" text-anchor="end" fill="#1c1c1c" stroke="#1c1c1c" stroke-width="0.22">0</text>
<line x1="219.3" y1="606.62" x2="222.9" y2="606.62" stroke="#1c1c1c" stroke-width="1" stroke-linecap="butt"/>
<text x="216.3" y="609.37" font-size="7.6" text-anchor="end" fill="#1c1c1c" stroke="#1c1c1c" stroke-width="0.22">20</text>
<line x1="219.3" y1="587.24" x2="222.9" y2="587.24" stroke="#1c1c1c" stroke-width="1" stroke-linecap="butt"/>
<text x="216.3" y="589.99" font-size="7.6" text-anchor="end" fill="#1c1c1c" stroke="#1c1c1c" stroke-width="0.22">40</text>
<line x1="219.3" y1="567.86" x2="222.9" y2="567.86" stroke="#1c1c1c" stroke-width="1" stroke-linecap="butt"/>
<text x="216.3" y="570.61" font-size="7.6" text-anchor="end" fill="#1c1c1c" stroke="#1c1c1c" stroke-width="0.22">60</text>
<line x1="219.3" y1="548.48" x2="222.9" y2="548.48" stroke="#1c1c1c" stroke-width="1" stroke-linecap="butt"/>
<text x="216.3" y="551.23" font-size="7.6" text-anchor="end" fill="#1c1c1c" stroke="#1c1c1c" stroke-width="0.22">80</text>
<line x1="219.3" y1="529.1" x2="222.9" y2="529.1" stroke="#1c1c1c" stroke-width="1" stroke-linecap="butt"/>
<text x="216.3" y="531.85" font-size="7.6" text-anchor="end" fill="#1c1c1c" stroke="#1c1c1c" stroke-width="0.22">100</text>
<line x1="237.5" y1="626" x2="237.5" y2="629" stroke="#1c1c1c" stroke-width="1" stroke-linecap="butt"/>
<text x="240.3" y="637.2" font-size="8.4" text-anchor="end" fill="#1c1c1c" transform="rotate(-45 240.3 637.2)" textLength="26.5" lengthAdjust="spacingAndGlyphs" stroke="#1c1c1c" stroke-width="0.22">Control</text>
<line x1="267" y1="626" x2="267" y2="629" stroke="#1c1c1c" stroke-width="1" stroke-linecap="butt"/>
<text x="269.8" y="637.2" font-size="8.4" text-anchor="end" fill="#1c1c1c" transform="rotate(-45 269.8 637.2)" textLength="18.5" lengthAdjust="spacingAndGlyphs" stroke="#1c1c1c" stroke-width="0.22">ALPS</text>
<line x1="297" y1="626" x2="297" y2="629" stroke="#1c1c1c" stroke-width="1" stroke-linecap="butt"/>
<text x="299.8" y="637.2" font-size="8.4" text-anchor="end" fill="#1c1c1c" transform="rotate(-45 299.8 637.2)" textLength="42.5" lengthAdjust="spacingAndGlyphs" stroke="#1c1c1c" stroke-width="0.22">+Rapamycin</text>
<line x1="326.8" y1="626" x2="326.8" y2="629" stroke="#1c1c1c" stroke-width="1" stroke-linecap="butt"/>
<text x="329.6" y="637.2" font-size="8.4" text-anchor="end" fill="#1c1c1c" transform="rotate(-45 329.6 637.2)" textLength="22.5" lengthAdjust="spacingAndGlyphs" stroke="#1c1c1c" stroke-width="0.22">+MMF</text>
<text x="196.6" y="576.5" font-size="9.4" text-anchor="middle" fill="#1c1c1c" transform="rotate(-90 196.6 576.5)" textLength="125.6" lengthAdjust="spacingAndGlyphs" stroke="#1c1c1c" stroke-width="0.22">% CCR7-/CD45RA+ of DNT cells</text>
<line x1="242" y1="515.3" x2="293.9" y2="515.3" stroke="#1c1c1c" stroke-width="1.2" stroke-linecap="butt"/>
<text x="267.95" y="514.1" font-size="9.8" text-anchor="middle" fill="#1c1c1c" stroke="#1c1c1c" stroke-width="0.22">*</text>
<line x1="270.2" y1="529.4" x2="293.9" y2="529.4" stroke="#1c1c1c" stroke-width="1.2" stroke-linecap="butt"/>
<text x="282.05" y="527.5" font-size="9.8" text-anchor="middle" fill="#1c1c1c" textLength="10.4" lengthAdjust="spacingAndGlyphs" stroke="#1c1c1c" stroke-width="0.22">***</text>
<line x1="227.9" y1="610.8" x2="247.8" y2="610.8" stroke="#1c1c1c" stroke-width="1.3" stroke-linecap="butt"/>
<circle cx="235" cy="593.8" r="2.25" fill="#1c1c1c"/>
<circle cx="240.8" cy="593.8" r="2.25" fill="#1c1c1c"/>
<circle cx="238" cy="600.4" r="2.25" fill="#1c1c1c"/>
<circle cx="238" cy="609.1" r="2.25" fill="#1c1c1c"/>
<circle cx="234.6" cy="611.8" r="2.25" fill="#1c1c1c"/>
<circle cx="234.6" cy="614.6" r="2.25" fill="#1c1c1c"/>
<circle cx="234.6" cy="617.4" r="2.25" fill="#1c1c1c"/>
<circle cx="234.6" cy="620.2" r="2.25" fill="#1c1c1c"/>
<circle cx="234.6" cy="622.4" r="2.25" fill="#1c1c1c"/>
<circle cx="240.9" cy="614.4" r="2.25" fill="#1c1c1c"/>
<circle cx="240.9" cy="617.3" r="2.25" fill="#1c1c1c"/>
<circle cx="240.9" cy="620.2" r="2.25" fill="#1c1c1c"/>
<line x1="257.5" y1="568.3" x2="277.5" y2="568.3" stroke="#1c1c1c" stroke-width="1.3" stroke-linecap="butt"/>
<rect x="262.4" y="544.9" width="4.2" height="4.2" fill="#1c1c1c"/>
<rect x="268.4" y="553.7" width="4.2" height="4.2" fill="#1c1c1c"/>
<rect x="262.4" y="561.5" width="4.2" height="4.2" fill="#1c1c1c"/>
<rect x="268.4" y="560.5" width="4.2" height="4.2" fill="#1c1c1c"/>
<rect x="265.4" y="564.9" width="4.2" height="4.2" fill="#1c1c1c"/>
<rect x="259.7" y="566.7" width="4.2" height="4.2" fill="#1c1c1c"/>
<rect x="271.7" y="566.7" width="4.2" height="4.2" fill="#1c1c1c"/>
<rect x="265.4" y="570.4" width="4.2" height="4.2" fill="#1c1c1c"/>
<rect x="268.4" y="574.2" width="4.2" height="4.2" fill="#1c1c1c"/>
<rect x="262.4" y="577.9" width="4.2" height="4.2" fill="#1c1c1c"/>
<rect x="268.4" y="586.7" width="4.2" height="4.2" fill="#1c1c1c"/>
<rect x="265.4" y="594.2" width="4.2" height="4.2" fill="#1c1c1c"/>
<rect x="268.55" y="543.05" width="3.9" height="3.9" fill="#fff" stroke="#1c1c1c" stroke-width="1.25"/>
<polygon points="265,552.25 263.05,548.74 266.95,548.74" fill="#fff" stroke="#1c1c1c" stroke-width="1.2" stroke-linejoin="miter"/>
<circle cx="264.5" cy="586.3" r="1.7" fill="#fff" stroke="#1c1c1c" stroke-width="1.25"/>
<line x1="287.5" y1="599.3" x2="307.5" y2="599.3" stroke="#1c1c1c" stroke-width="1.3" stroke-linecap="butt"/>
<polygon points="297.5,587.35 295.35,591.22 299.65,591.22" fill="#1c1c1c"/>
<polygon points="300.5,592.35 298.35,596.22 302.65,596.22" fill="#1c1c1c"/>
<polygon points="300,602.35 297.85,606.22 302.15,606.22" fill="#1c1c1c"/>
<polygon points="300.5,605.85 298.35,609.72 302.65,609.72" fill="#1c1c1c"/>
<polygon points="297.5,613.65 295.35,617.52 299.65,617.52" fill="#1c1c1c"/>
<rect x="295.55" y="573.05" width="3.9" height="3.9" fill="#fff" stroke="#1c1c1c" stroke-width="1.25"/>
<polygon points="294.5,599.75 292.55,596.24 296.45,596.24" fill="#fff" stroke="#1c1c1c" stroke-width="1.2" stroke-linejoin="miter"/>
<circle cx="294.5" cy="605" r="1.7" fill="#fff" stroke="#1c1c1c" stroke-width="1.25"/>
<line x1="317" y1="560.5" x2="337" y2="560.5" stroke="#1c1c1c" stroke-width="1.3" stroke-linecap="butt"/>
<polygon points="327,550.15 324.85,546.28 329.15,546.28" fill="#1c1c1c"/>
<polygon points="327,556.45 324.85,552.58 329.15,552.58" fill="#1c1c1c"/>
<polygon points="327,579.65 324.85,575.78 329.15,575.78" fill="#1c1c1c"/>
<line x1="396.4" y1="526.8" x2="396.4" y2="626.85" stroke="#1c1c1c" stroke-width="1.3" stroke-linecap="butt"/>
<line x1="395.75" y1="626.2" x2="513.3" y2="626.2" stroke="#1c1c1c" stroke-width="1.3" stroke-linecap="butt"/>
<line x1="392.8" y1="626" x2="396.4" y2="626" stroke="#1c1c1c" stroke-width="1" stroke-linecap="butt"/>
<text x="389.8" y="628.75" font-size="7.6" text-anchor="end" fill="#1c1c1c" stroke="#1c1c1c" stroke-width="0.22">0</text>
<line x1="392.8" y1="606.62" x2="396.4" y2="606.62" stroke="#1c1c1c" stroke-width="1" stroke-linecap="butt"/>
<text x="389.8" y="609.37" font-size="7.6" text-anchor="end" fill="#1c1c1c" stroke="#1c1c1c" stroke-width="0.22">20</text>
<line x1="392.8" y1="587.24" x2="396.4" y2="587.24" stroke="#1c1c1c" stroke-width="1" stroke-linecap="butt"/>
<text x="389.8" y="589.99" font-size="7.6" text-anchor="end" fill="#1c1c1c" stroke="#1c1c1c" stroke-width="0.22">40</text>
<line x1="392.8" y1="567.86" x2="396.4" y2="567.86" stroke="#1c1c1c" stroke-width="1" stroke-linecap="butt"/>
<text x="389.8" y="570.61" font-size="7.6" text-anchor="end" fill="#1c1c1c" stroke="#1c1c1c" stroke-width="0.22">60</text>
<line x1="392.8" y1="548.48" x2="396.4" y2="548.48" stroke="#1c1c1c" stroke-width="1" stroke-linecap="butt"/>
<text x="389.8" y="551.23" font-size="7.6" text-anchor="end" fill="#1c1c1c" stroke="#1c1c1c" stroke-width="0.22">80</text>
<line x1="392.8" y1="529.1" x2="396.4" y2="529.1" stroke="#1c1c1c" stroke-width="1" stroke-linecap="butt"/>
<text x="389.8" y="531.85" font-size="7.6" text-anchor="end" fill="#1c1c1c" stroke="#1c1c1c" stroke-width="0.22">100</text>
<line x1="411" y1="626" x2="411" y2="629" stroke="#1c1c1c" stroke-width="1" stroke-linecap="butt"/>
<text x="413.8" y="637.2" font-size="8.4" text-anchor="end" fill="#1c1c1c" transform="rotate(-45 413.8 637.2)" textLength="26.5" lengthAdjust="spacingAndGlyphs" stroke="#1c1c1c" stroke-width="0.22">Control</text>
<line x1="440.5" y1="626" x2="440.5" y2="629" stroke="#1c1c1c" stroke-width="1" stroke-linecap="butt"/>
<text x="443.3" y="637.2" font-size="8.4" text-anchor="end" fill="#1c1c1c" transform="rotate(-45 443.3 637.2)" textLength="18.5" lengthAdjust="spacingAndGlyphs" stroke="#1c1c1c" stroke-width="0.22">ALPS</text>
<line x1="470.1" y1="626" x2="470.1" y2="629" stroke="#1c1c1c" stroke-width="1" stroke-linecap="butt"/>
<text x="472.9" y="637.2" font-size="8.4" text-anchor="end" fill="#1c1c1c" transform="rotate(-45 472.9 637.2)" textLength="42.5" lengthAdjust="spacingAndGlyphs" stroke="#1c1c1c" stroke-width="0.22">+Rapamycin</text>
<line x1="500.1" y1="626" x2="500.1" y2="629" stroke="#1c1c1c" stroke-width="1" stroke-linecap="butt"/>
<text x="502.9" y="637.2" font-size="8.4" text-anchor="end" fill="#1c1c1c" transform="rotate(-45 502.9 637.2)" textLength="22.5" lengthAdjust="spacingAndGlyphs" stroke="#1c1c1c" stroke-width="0.22">+MMF</text>
<text x="369.6" y="576.2" font-size="9.4" text-anchor="middle" fill="#1c1c1c" transform="rotate(-90 369.6 576.2)" textLength="78.5" lengthAdjust="spacingAndGlyphs" stroke="#1c1c1c" stroke-width="0.22">% Ki67 of DNT cells</text>
<line x1="415.5" y1="515.3" x2="467.4" y2="515.3" stroke="#1c1c1c" stroke-width="1.2" stroke-linecap="butt"/>
<text x="441.45" y="513.4" font-size="9.8" text-anchor="middle" fill="#1c1c1c" textLength="10.4" lengthAdjust="spacingAndGlyphs" stroke="#1c1c1c" stroke-width="0.22">***</text>
<line x1="443.8" y1="529.2" x2="467.4" y2="529.2" stroke="#1c1c1c" stroke-width="1.2" stroke-linecap="butt"/>
<text x="455.6" y="527.3" font-size="9.8" text-anchor="middle" fill="#1c1c1c" textLength="6.9" lengthAdjust="spacingAndGlyphs" stroke="#1c1c1c" stroke-width="0.22">**</text>
<line x1="401.8" y1="622.6" x2="420.5" y2="622.6" stroke="#1c1c1c" stroke-width="1.3" stroke-linecap="butt"/>
<circle cx="405" cy="621.3" r="2.25" fill="#1c1c1c"/>
<circle cx="411.3" cy="619.5" r="2.25" fill="#1c1c1c"/>
<circle cx="417.5" cy="622" r="2.25" fill="#1c1c1c"/>
<circle cx="406.3" cy="623.8" r="2.25" fill="#1c1c1c"/>
<circle cx="410" cy="624.5" r="2.25" fill="#1c1c1c"/>
<circle cx="413.8" cy="623.8" r="2.25" fill="#1c1c1c"/>
<circle cx="416.3" cy="623.8" r="2.25" fill="#1c1c1c"/>
<circle cx="411.3" cy="622.5" r="2.25" fill="#1c1c1c"/>
<circle cx="408" cy="622.5" r="2.25" fill="#1c1c1c"/>
<line x1="430.8" y1="570.6" x2="450.8" y2="570.6" stroke="#1c1c1c" stroke-width="1.3" stroke-linecap="butt"/>
<rect x="441.7" y="542.2" width="4.2" height="4.2" fill="#1c1c1c"/>
<rect x="438.7" y="550.9" width="4.2" height="4.2" fill="#1c1c1c"/>
<rect x="444.2" y="553.7" width="4.2" height="4.2" fill="#1c1c1c"/>
<rect x="432.9" y="557.4" width="4.2" height="4.2" fill="#1c1c1c"/>
<rect x="438.7" y="557.4" width="4.2" height="4.2" fill="#1c1c1c"/>
<rect x="435.4" y="563.4" width="4.2" height="4.2" fill="#1c1c1c"/>
<rect x="441.2" y="563.4" width="4.2" height="4.2" fill="#1c1c1c"/>
<rect x="438.7" y="571.7" width="4.2" height="4.2" fill="#1c1c1c"/>
<rect x="441.7" y="578.7" width="4.2" height="4.2" fill="#1c1c1c"/>
<rect x="435.4" y="582.4" width="4.2" height="4.2" fill="#1c1c1c"/>
<rect x="438.7" y="589.7" width="4.2" height="4.2" fill="#1c1c1c"/>
<rect x="438.7" y="601.7" width="4.2" height="4.2" fill="#1c1c1c"/>
<rect x="438.7" y="614.7" width="4.2" height="4.2" fill="#1c1c1c"/>
<rect x="438.85" y="536.85" width="3.9" height="3.9" fill="#fff" stroke="#1c1c1c" stroke-width="1.25"/>
<polygon points="437.5,543.75 435.55,540.24 439.45,540.24" fill="#fff" stroke="#1c1c1c" stroke-width="1.2" stroke-linejoin="miter"/>
<circle cx="440.8" cy="598" r="1.7" fill="#fff" stroke="#1c1c1c" stroke-width="1.25"/>
<line x1="460.8" y1="611.5" x2="480.8" y2="611.5" stroke="#1c1c1c" stroke-width="1.3" stroke-linecap="butt"/>
<polygon points="467.5,592.85 465.35,596.72 469.65,596.72" fill="#1c1c1c"/>
<polygon points="473.6,598.45 471.45,602.32 475.75,602.32" fill="#1c1c1c"/>
<polygon points="473.6,605.05 471.45,608.92 475.75,608.92" fill="#1c1c1c"/>
<polygon points="476.7,612.05 474.55,615.92 478.85,615.92" fill="#1c1c1c"/>
<polygon points="464.8,615.55 462.65,619.42 466.95,619.42" fill="#1c1c1c"/>
<polygon points="467.5,621.85 465.35,625.72 469.65,625.72" fill="#1c1c1c"/>
<polygon points="467.8,613.35 465.85,609.84 469.75,609.84" fill="#fff" stroke="#1c1c1c" stroke-width="1.2" stroke-linejoin="miter"/>
<rect x="468.65" y="615.55" width="3.9" height="3.9" fill="#fff" stroke="#1c1c1c" stroke-width="1.25"/>
<circle cx="473.6" cy="619.8" r="1.7" fill="#fff" stroke="#1c1c1c" stroke-width="1.25"/>
<line x1="490.5" y1="577" x2="510.5" y2="577" stroke="#1c1c1c" stroke-width="1.3" stroke-linecap="butt"/>
<polygon points="500,572.15 497.85,568.28 502.15,568.28" fill="#1c1c1c"/>
<polygon points="497,584.65 494.85,580.78 499.15,580.78" fill="#1c1c1c"/>
<polygon points="503,581.65 500.85,577.78 505.15,577.78" fill="#1c1c1c"/>
</svg></body></html>
